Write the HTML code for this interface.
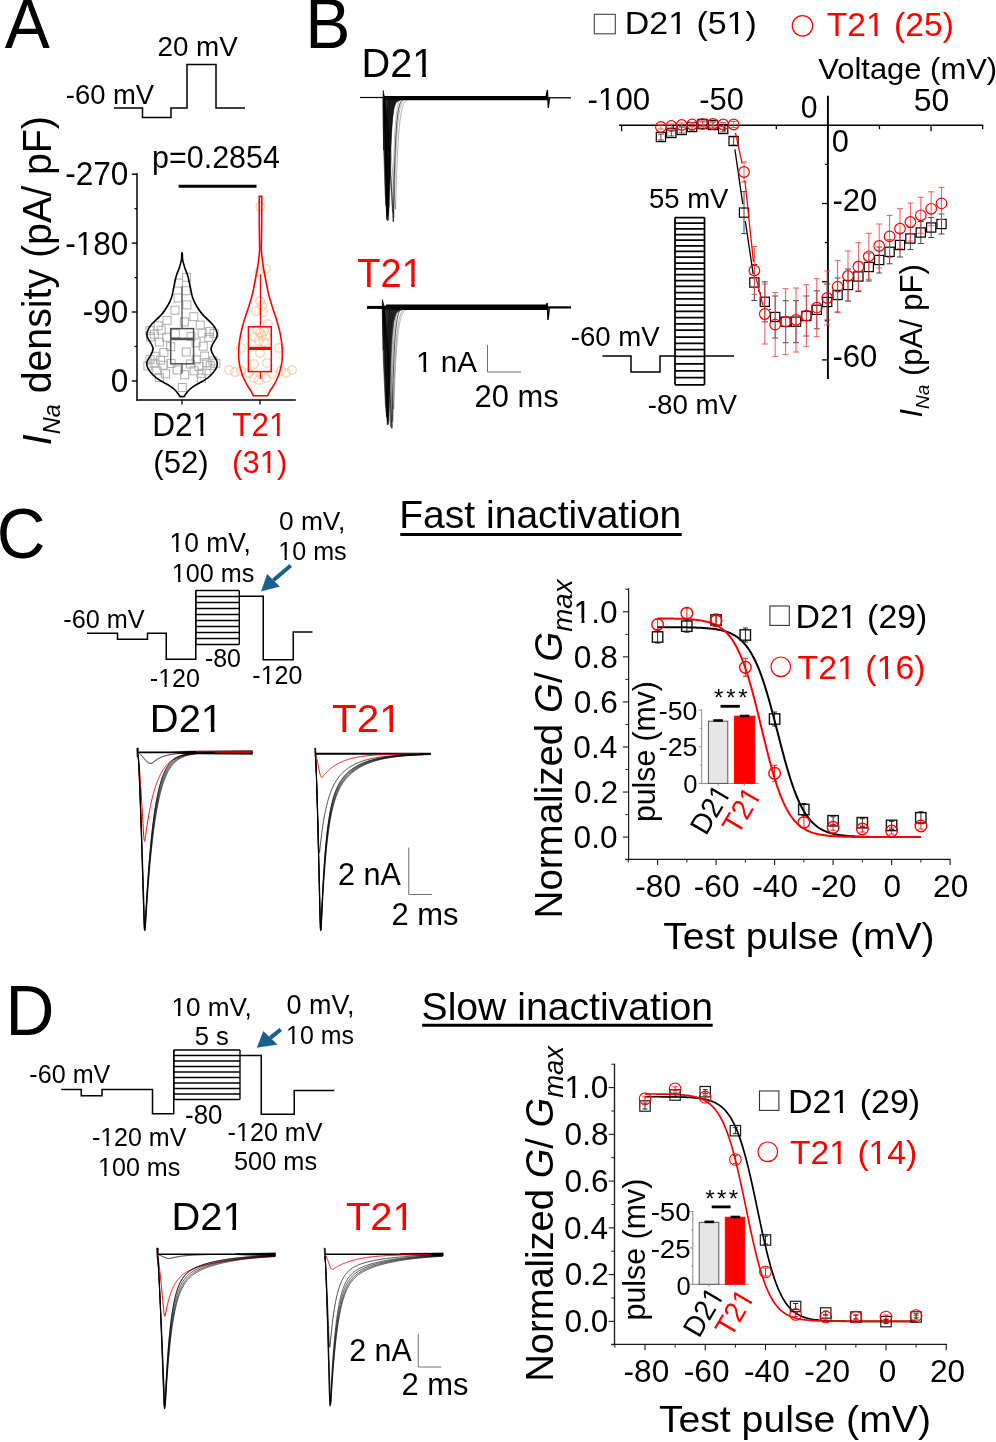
<!DOCTYPE html>
<html><head><meta charset="utf-8"><title>Figure</title>
<style>html,body{margin:0;padding:0;background:#fff}svg{display:block;will-change:transform}text{font-family:"Liberation Sans",sans-serif}</style></head>
<body>
<svg width="996" height="1442" viewBox="0 0 996 1442">
<rect x="0" y="0" width="996" height="1442" fill="#fff"/>
<g id="panelA">
<g transform="translate(4.63,48.00) scale(1.0000,1.038)"><text font-size="67.62" fill="#000">A</text></g>
<g transform="translate(157.41,55.60) scale(1.0000,1.012)"><text font-size="27.83" fill="#000">20 mV</text></g>
<g transform="translate(65.77,103.80) scale(1.0000,1.012)"><text font-size="27.42" fill="#000">-60 mV</text></g>
<polyline points="114.00,108.00 142.50,108.00 142.50,117.50 171.00,117.50 171.00,108.00 187.00,108.00 187.00,64.50 216.00,64.50 216.00,108.00 245.00,108.00" fill="none" stroke="#000" stroke-width="1.5"/>
<g transform="translate(152.12,167.80) scale(1.0000,1.012)"><text font-size="30.43" fill="#000">p=0.2854</text></g>
<line x1="178.60" y1="186.20" x2="256.50" y2="186.20" stroke="#000" stroke-width="2.9"/>
<line x1="137.00" y1="173.30" x2="137.00" y2="400.70" stroke="#000" stroke-width="1.5"/>
<line x1="136.30" y1="400.00" x2="295.80" y2="400.00" stroke="#000" stroke-width="1.5"/>
<line x1="131.80" y1="174.20" x2="137.00" y2="174.20" stroke="#000" stroke-width="1.4"/>
<line x1="131.80" y1="243.10" x2="137.00" y2="243.10" stroke="#000" stroke-width="1.4"/>
<line x1="131.80" y1="312.00" x2="137.00" y2="312.00" stroke="#000" stroke-width="1.4"/>
<line x1="131.80" y1="381.00" x2="137.00" y2="381.00" stroke="#000" stroke-width="1.4"/>
<line x1="134.60" y1="208.70" x2="137.00" y2="208.70" stroke="#000" stroke-width="1.3"/>
<line x1="134.60" y1="277.60" x2="137.00" y2="277.60" stroke="#000" stroke-width="1.3"/>
<line x1="134.60" y1="346.50" x2="137.00" y2="346.50" stroke="#000" stroke-width="1.3"/>
<line x1="182.00" y1="400.00" x2="182.00" y2="404.50" stroke="#000" stroke-width="1.3"/>
<line x1="260.00" y1="400.00" x2="260.00" y2="404.50" stroke="#000" stroke-width="1.3"/>
<g transform="translate(65.19,185.42) scale(1,1.038)"><text font-size="31.60" fill="#000">-270</text></g>
<g transform="translate(65.19,254.52) scale(1,1.038)"><text font-size="31.60" fill="#000">-180</text><rect x="11.95" y="-4.42" width="6.48" height="5.21" fill="#fff"/><rect x="21.33" y="-4.42" width="6.00" height="5.21" fill="#fff"/></g>
<g transform="translate(82.72,323.22) scale(1,1.038)"><text font-size="31.60" fill="#000">-90</text></g>
<g transform="translate(110.85,392.32) scale(1,1.038)"><text font-size="31.60" fill="#000">0</text></g>
<g transform="translate(152.19,435.60) scale(1.0000,1.038)"><text font-size="31.59" fill="#000">D21</text><rect x="41.80" y="-4.42" width="6.48" height="5.21" fill="#fff"/><rect x="51.19" y="-4.42" width="6.00" height="5.21" fill="#fff"/></g>
<g transform="translate(153.36,473.00) scale(1.0000,1.038)"><text font-size="31.06" fill="#000">(52)</text></g>
<g transform="translate(232.19,435.60) scale(1.0000,1.038)"><text font-size="31.47" fill="#f00">T21</text><rect x="38.14" y="-4.41" width="6.45" height="5.19" fill="#fff"/><rect x="47.49" y="-4.41" width="5.98" height="5.19" fill="#fff"/></g>
<g transform="translate(232.06,473.00) scale(1.0000,1.038)"><text font-size="31.06" fill="#f00">(31)</text><rect x="29.01" y="-4.35" width="6.37" height="5.12" fill="#fff"/><rect x="38.24" y="-4.35" width="5.90" height="5.12" fill="#fff"/></g>
<text transform="translate(51,445.2) rotate(-90) scale(1,1.012)" font-size="39.3" fill="#000"><tspan font-style="italic">I</tspan><tspan font-style="italic" font-size="23.5" dy="9">Na</tspan><tspan dy="-9"> density (pA/ pF)</tspan></text>
<g fill="none" stroke="#adadad" stroke-width="1.0">
<rect x="182.6" y="273.3" width="8.0" height="8.0"/>
<rect x="174.4" y="279.1" width="8.0" height="8.0"/>
<rect x="182.1" y="286.7" width="8.0" height="8.0"/>
<rect x="174.0" y="294.0" width="8.0" height="8.0"/>
<rect x="182.9" y="300.9" width="8.0" height="8.0"/>
<rect x="171.0" y="306.2" width="8.0" height="8.0"/>
<rect x="189.9" y="312.7" width="8.0" height="8.0"/>
<rect x="163.1" y="316.4" width="8.0" height="8.0"/>
<rect x="180.4" y="317.9" width="8.0" height="8.0"/>
<rect x="154.2" y="321.8" width="8.0" height="8.0"/>
<rect x="196.2" y="321.1" width="8.0" height="8.0"/>
<rect x="145.9" y="326.6" width="8.0" height="8.0"/>
<rect x="157.2" y="326.2" width="8.0" height="8.0"/>
<rect x="205.6" y="327.6" width="8.0" height="8.0"/>
<rect x="150.3" y="330.2" width="8.0" height="8.0"/>
<rect x="171.4" y="329.7" width="8.0" height="8.0"/>
<rect x="198.2" y="329.1" width="8.0" height="8.0"/>
<rect x="210.0" y="329.4" width="8.0" height="8.0"/>
<rect x="146.5" y="332.9" width="8.0" height="8.0"/>
<rect x="162.6" y="333.2" width="8.0" height="8.0"/>
<rect x="186.9" y="332.6" width="8.0" height="8.0"/>
<rect x="204.8" y="333.4" width="8.0" height="8.0"/>
<rect x="155.4" y="338.1" width="8.0" height="8.0"/>
<rect x="192.1" y="338.8" width="8.0" height="8.0"/>
<rect x="166.6" y="342.6" width="8.0" height="8.0"/>
<rect x="199.2" y="342.2" width="8.0" height="8.0"/>
<rect x="159.9" y="348.5" width="8.0" height="8.0"/>
<rect x="182.2" y="348.0" width="8.0" height="8.0"/>
<rect x="150.9" y="352.3" width="8.0" height="8.0"/>
<rect x="200.7" y="352.1" width="8.0" height="8.0"/>
<rect x="146.0" y="355.6" width="8.0" height="8.0"/>
<rect x="156.5" y="356.2" width="8.0" height="8.0"/>
<rect x="192.2" y="355.9" width="8.0" height="8.0"/>
<rect x="208.9" y="356.9" width="8.0" height="8.0"/>
<rect x="150.0" y="359.3" width="8.0" height="8.0"/>
<rect x="167.0" y="359.4" width="8.0" height="8.0"/>
<rect x="186.4" y="360.0" width="8.0" height="8.0"/>
<rect x="202.8" y="358.6" width="8.0" height="8.0"/>
<rect x="211.8" y="359.3" width="8.0" height="8.0"/>
<rect x="143.9" y="361.9" width="8.0" height="8.0"/>
<rect x="159.3" y="361.2" width="8.0" height="8.0"/>
<rect x="195.0" y="362.5" width="8.0" height="8.0"/>
<rect x="206.2" y="361.5" width="8.0" height="8.0"/>
<rect x="152.8" y="366.7" width="8.0" height="8.0"/>
<rect x="173.0" y="365.9" width="8.0" height="8.0"/>
<rect x="190.2" y="366.8" width="8.0" height="8.0"/>
<rect x="202.8" y="366.7" width="8.0" height="8.0"/>
<rect x="161.5" y="369.8" width="8.0" height="8.0"/>
<rect x="180.7" y="370.8" width="8.0" height="8.0"/>
<rect x="197.1" y="369.3" width="8.0" height="8.0"/>
<rect x="155.3" y="373.5" width="8.0" height="8.0"/>
<rect x="197.4" y="374.0" width="8.0" height="8.0"/>
<rect x="178.3" y="383.5" width="8.0" height="8.0"/>
</g>
<path d="M182.35,253.50 C182.50,254.57 182.23,257.48 182.65,259.90 C183.07,262.32 183.98,265.30 184.85,268.00 C185.72,270.70 186.95,272.93 187.85,276.10 C188.75,279.27 189.45,283.38 190.25,287.00 C191.05,290.62 191.60,294.63 192.65,297.80 C193.70,300.97 194.95,303.28 196.55,306.00 C198.15,308.72 199.50,310.95 202.25,314.10 C205.00,317.25 210.75,322.25 213.05,324.90 C215.35,327.55 215.35,328.48 216.05,330.00 C216.75,331.52 217.20,332.67 217.25,334.00 C217.30,335.33 216.80,336.80 216.35,338.00 C215.90,339.20 215.23,340.03 214.55,341.20 C213.87,342.37 212.83,343.80 212.25,345.00 C211.67,346.20 211.12,347.23 211.05,348.40 C210.98,349.57 211.42,350.78 211.85,352.00 C212.28,353.22 212.95,354.45 213.65,355.70 C214.35,356.95 215.45,358.30 216.05,359.50 C216.65,360.70 217.12,361.73 217.25,362.90 C217.38,364.07 217.22,365.30 216.85,366.50 C216.48,367.70 216.02,368.68 215.05,370.10 C214.08,371.52 212.57,373.48 211.05,375.00 C209.53,376.52 207.87,377.87 205.95,379.20 C204.03,380.53 201.62,381.80 199.55,383.00 C197.48,384.20 195.30,385.23 193.55,386.40 C191.80,387.57 190.30,388.80 189.05,390.00 C187.80,391.20 186.78,392.67 186.05,393.60 C185.32,394.53 184.93,395.13 184.65,395.60 C184.37,396.07 185.17,396.27 184.35,396.40 C183.53,396.53 180.57,396.53 179.75,396.40 C178.93,396.27 179.73,396.07 179.45,395.60 C179.17,395.13 178.78,394.53 178.05,393.60 C177.32,392.67 176.30,391.20 175.05,390.00 C173.80,388.80 172.30,387.57 170.55,386.40 C168.80,385.23 166.62,384.20 164.55,383.00 C162.48,381.80 160.07,380.53 158.15,379.20 C156.23,377.87 154.57,376.52 153.05,375.00 C151.53,373.48 150.02,371.52 149.05,370.10 C148.08,368.68 147.62,367.70 147.25,366.50 C146.88,365.30 146.72,364.07 146.85,362.90 C146.98,361.73 147.45,360.70 148.05,359.50 C148.65,358.30 149.75,356.95 150.45,355.70 C151.15,354.45 151.82,353.22 152.25,352.00 C152.68,350.78 153.12,349.57 153.05,348.40 C152.98,347.23 152.43,346.20 151.85,345.00 C151.27,343.80 150.23,342.37 149.55,341.20 C148.87,340.03 148.20,339.20 147.75,338.00 C147.30,336.80 146.80,335.33 146.85,334.00 C146.90,332.67 147.35,331.52 148.05,330.00 C148.75,328.48 148.75,327.55 151.05,324.90 C153.35,322.25 159.10,317.25 161.85,314.10 C164.60,310.95 165.95,308.72 167.55,306.00 C169.15,303.28 170.40,300.97 171.45,297.80 C172.50,294.63 173.05,290.62 173.85,287.00 C174.65,283.38 175.35,279.27 176.25,276.10 C177.15,272.93 178.38,270.70 179.25,268.00 C180.12,265.30 181.03,262.32 181.45,259.90 C181.87,257.48 181.60,254.57 181.75,253.50 C181.90,252.43 182.20,252.43 182.35,253.50Z" fill="none" stroke="#000" stroke-width="1.6"/>
<line x1="182.00" y1="286.60" x2="182.00" y2="328.60" stroke="#505050" stroke-width="1.3"/>
<line x1="182.00" y1="363.80" x2="182.00" y2="373.70" stroke="#505050" stroke-width="1.3"/>
<rect x="170.70" y="328.60" width="22.90" height="35.20" fill="none" stroke="#505050" stroke-width="1.5"/>
<line x1="170.70" y1="338.90" x2="193.60" y2="338.90" stroke="#505050" stroke-width="2.6"/>
<g fill="none" stroke="#f8c6a0" stroke-width="1.1">
<circle cx="260.2" cy="206.7" r="4.3"/>
<circle cx="259" cy="272" r="4.3"/>
<circle cx="266" cy="269" r="4.3"/>
<circle cx="260" cy="301" r="4.3"/>
<circle cx="262" cy="306" r="4.3"/>
<circle cx="256" cy="311" r="4.3"/>
<circle cx="263" cy="312" r="4.3"/>
<circle cx="268" cy="324" r="4.3"/>
<circle cx="257" cy="330" r="4.3"/>
<circle cx="260" cy="333" r="4.3"/>
<circle cx="264" cy="331" r="4.3"/>
<circle cx="262" cy="336" r="4.3"/>
<circle cx="255" cy="337" r="4.3"/>
<circle cx="266" cy="336" r="4.3"/>
<circle cx="259" cy="341" r="4.3"/>
<circle cx="264" cy="342" r="4.3"/>
<circle cx="241" cy="348" r="4.3"/>
<circle cx="279" cy="348" r="4.3"/>
<circle cx="260" cy="353" r="4.3"/>
<circle cx="254" cy="364" r="4.3"/>
<circle cx="267" cy="363" r="4.3"/>
<circle cx="229" cy="370" r="4.3"/>
<circle cx="235" cy="372" r="4.3"/>
<circle cx="241" cy="371" r="4.3"/>
<circle cx="281" cy="371" r="4.3"/>
<circle cx="286" cy="373" r="4.3"/>
<circle cx="292" cy="370" r="4.3"/>
<circle cx="254" cy="378" r="4.3"/>
<circle cx="259" cy="380" r="4.3"/>
<circle cx="266" cy="378" r="4.3"/>
<circle cx="249" cy="373" r="4.3"/>
<circle cx="272" cy="374" r="4.3"/>
</g>
<path d="M267.70,395.80 C268.00,395.13 268.83,393.02 269.50,391.80 C270.17,390.58 270.93,389.70 271.70,388.50 C272.47,387.30 273.30,386.02 274.10,384.60 C274.90,383.18 275.77,381.52 276.50,380.00 C277.23,378.48 277.83,377.33 278.50,375.50 C279.17,373.67 279.95,371.10 280.50,369.00 C281.05,366.90 281.50,365.07 281.80,362.90 C282.10,360.73 282.23,358.42 282.30,356.00 C282.37,353.58 282.37,351.07 282.20,348.40 C282.03,345.73 281.75,343.00 281.30,340.00 C280.85,337.00 280.23,333.57 279.50,330.40 C278.77,327.23 277.80,324.02 276.90,321.00 C276.00,317.98 275.07,315.30 274.10,312.30 C273.13,309.30 272.02,306.02 271.10,303.00 C270.18,299.98 269.33,297.20 268.60,294.20 C267.87,291.20 267.30,288.03 266.70,285.00 C266.10,281.97 265.53,278.83 265.00,276.00 C264.47,273.17 263.98,271.00 263.50,268.00 C263.02,265.00 262.45,261.00 262.10,258.00 C261.75,255.00 261.50,253.00 261.40,250.00 C261.30,247.00 261.45,244.17 261.50,240.00 C261.55,235.83 261.66,230.00 261.70,225.00 C261.74,220.00 261.74,214.77 261.75,210.00 C261.76,205.23 261.75,198.67 261.75,196.40 L259.25,196.40  C259.25,198.67 259.24,205.23 259.25,210.00 C259.26,214.77 259.26,220.00 259.30,225.00 C259.34,230.00 259.45,235.83 259.50,240.00 C259.55,244.17 259.70,247.00 259.60,250.00 C259.50,253.00 259.25,255.00 258.90,258.00 C258.55,261.00 257.98,265.00 257.50,268.00 C257.02,271.00 256.53,273.17 256.00,276.00 C255.47,278.83 254.90,281.97 254.30,285.00 C253.70,288.03 253.13,291.20 252.40,294.20 C251.67,297.20 250.82,299.98 249.90,303.00 C248.98,306.02 247.87,309.30 246.90,312.30 C245.93,315.30 245.00,317.98 244.10,321.00 C243.20,324.02 242.23,327.23 241.50,330.40 C240.77,333.57 240.15,337.00 239.70,340.00 C239.25,343.00 238.97,345.73 238.80,348.40 C238.63,351.07 238.63,353.58 238.70,356.00 C238.77,358.42 238.90,360.73 239.20,362.90 C239.50,365.07 239.95,366.90 240.50,369.00 C241.05,371.10 241.83,373.67 242.50,375.50 C243.17,377.33 243.77,378.48 244.50,380.00 C245.23,381.52 246.10,383.18 246.90,384.60 C247.70,386.02 248.53,387.30 249.30,388.50 C250.07,389.70 250.83,390.58 251.50,391.80 C252.17,393.02 253.00,395.13 253.30,395.80 Z" fill="none" stroke="#f00" stroke-width="1.6"/>
<line x1="260.50" y1="274.30" x2="260.50" y2="326.80" stroke="#f00" stroke-width="1.3"/>
<line x1="260.50" y1="371.60" x2="260.50" y2="378.80" stroke="#f00" stroke-width="1.3"/>
<rect x="248.40" y="326.80" width="22.90" height="44.80" fill="none" stroke="#f00" stroke-width="1.5"/>
<line x1="248.40" y1="348.40" x2="271.30" y2="348.40" stroke="#f00" stroke-width="3.2"/>
</g>
<g id="panelB">
<g transform="translate(305.31,48.00) scale(1.0000,1.038)"><text font-size="67.79" fill="#000">B</text></g>
<g transform="translate(361.53,76.90) scale(1.0189,1.038)"><text font-size="38.96" fill="#000">D21</text><rect x="51.55" y="-5.45" width="7.99" height="6.43" fill="#fff"/><rect x="63.12" y="-5.45" width="7.40" height="6.43" fill="#fff"/></g>
<line x1="360.00" y1="97.50" x2="384.00" y2="97.50" stroke="#000" stroke-width="1.2"/>
<line x1="384.00" y1="98.10" x2="547.50" y2="98.10" stroke="#000" stroke-width="4.4"/>
<line x1="547.00" y1="97.80" x2="571.00" y2="97.80" stroke="#000" stroke-width="1.3"/>
<path d="M546,97 L547.4,90 L548.3,108 L549.5,98" fill="none" stroke="#000" stroke-width="1.3"/>
<path d="M383.2,90.5 L383.0,98 L383.6,150 L384.6,98 Z" fill="#000" stroke="#000" stroke-width="0.6"/>
<path d="M382.9,97 L383.7,150 L385.2,195 L386.6,214 L387.6,221 L388.6,219.5 L389.0,205 L389.6,190 L390.4,165 L391.4,135 L392.6,118 L394,108 L396,102.5 L400,100 L400,97 Z" fill="#111" stroke="#111" stroke-width="0.5" fill-opacity="0.88"/>
<g fill="none" stroke="#000" stroke-linejoin="round">
<polyline points="383.80,97.80 384.05,102.77 384.30,110.93 384.55,120.96 384.80,132.44 385.05,145.14 385.30,158.91 385.55,173.63 385.80,189.22 386.05,205.61 386.30,196.18 386.55,160.25 386.80,137.44 387.05,122.96 387.30,113.77 387.55,107.94 387.80,104.23 388.05,101.88 388.30,100.39 388.55,99.45 388.80,98.84 389.05,98.46 389.30,98.22 389.55,98.07 390.55,97.84 391.55,97.81 392.55,97.80 393.55,97.80 394.55,97.80 395.55,97.80 396.55,97.80 397.55,97.80 398.55,97.80 399.55,97.80 400.55,97.80 401.55,97.80 402.55,97.80 403.55,97.80 404.55,97.80 405.55,97.80 406.55,97.80 407.55,97.80 408.55,97.80 409.55,97.80 410.55,97.80 411.55,97.80 412.55,97.80 413.55,97.80 414.55,97.80 415.55,97.80 416.55,97.80 417.55,97.80 418.55,97.80 419.55,97.80 420.55,97.80 421.55,97.80 422.55,97.80 423.55,97.80 424.55,97.80" stroke-width="0.7" stroke-opacity="0.9"/>
<polyline points="383.80,97.80 384.05,101.56 384.30,107.73 384.55,115.32 384.80,124.01 385.05,133.61 385.30,144.03 385.55,155.16 385.80,166.96 386.05,179.35 386.30,192.32 386.55,205.81 386.80,219.80 387.05,187.06 387.30,163.10 387.55,145.58 387.80,132.75 388.05,123.37 388.30,116.51 388.55,111.49 388.80,107.81 389.05,105.13 389.30,103.16 389.55,101.72 389.80,100.67 390.05,99.90 390.30,99.34 390.55,98.92 390.80,98.62 391.05,98.40 391.30,98.24 391.55,98.12 391.80,98.04 392.80,97.87 393.80,97.82 394.80,97.81 395.80,97.80 396.80,97.80 397.80,97.80 398.80,97.80 399.80,97.80 400.80,97.80 401.80,97.80 402.80,97.80 403.80,97.80 404.80,97.80 405.80,97.80 406.80,97.80 407.80,97.80 408.80,97.80 409.80,97.80 410.80,97.80 411.80,97.80 412.80,97.80 413.80,97.80 414.80,97.80 415.80,97.80 416.80,97.80 417.80,97.80 418.80,97.80 419.80,97.80 420.80,97.80 421.80,97.80 422.80,97.80 423.80,97.80 424.80,97.80" stroke-width="0.7" stroke-opacity="0.9"/>
<polyline points="383.80,97.80 384.05,100.75 384.30,105.59 384.55,111.54 384.80,118.35 385.05,125.89 385.30,134.06 385.55,142.79 385.80,152.04 386.05,161.76 386.30,171.92 386.55,182.51 386.80,193.48 387.05,204.82 387.30,216.52 387.55,204.10 387.80,180.58 388.05,162.27 388.30,148.01 388.55,136.90 388.80,128.25 389.05,121.52 389.30,116.27 389.55,112.19 389.80,109.00 390.05,106.53 390.30,104.60 390.55,103.09 390.80,101.92 391.05,101.01 391.30,100.30 391.55,99.75 391.80,99.32 392.05,98.98 392.30,98.72 392.55,98.52 392.80,98.36 393.05,98.23 393.30,98.14 393.55,98.06 394.55,97.90 395.55,97.84 396.55,97.81 397.55,97.80 398.55,97.80 399.55,97.80 400.55,97.80 401.55,97.80 402.55,97.80 403.55,97.80 404.55,97.80 405.55,97.80 406.55,97.80 407.55,97.80 408.55,97.80 409.55,97.80 410.55,97.80 411.55,97.80 412.55,97.80 413.55,97.80 414.55,97.80 415.55,97.80 416.55,97.80 417.55,97.80 418.55,97.80 419.55,97.80 420.55,97.80 421.55,97.80 422.55,97.80 423.55,97.80 424.55,97.80" stroke-width="0.7" stroke-opacity="0.9"/>
<polyline points="383.80,97.80 384.05,100.15 384.30,104.00 384.55,108.74 384.80,114.16 385.05,120.16 385.30,126.66 385.55,133.61 385.80,140.98 386.05,148.72 386.30,156.81 386.55,165.23 386.80,173.97 387.05,183.00 387.30,192.32 387.55,201.90 387.80,211.74 388.05,215.20 388.30,194.66 388.55,177.71 388.80,163.73 389.05,152.20 389.30,142.68 389.55,134.83 389.80,128.35 390.05,123.01 390.30,118.60 390.55,114.96 390.80,111.96 391.05,109.48 391.30,107.44 391.55,105.75 391.80,104.36 392.05,103.21 392.30,102.27 392.55,101.48 392.80,100.84 393.05,100.31 393.30,99.87 393.55,99.51 393.80,99.21 394.05,98.96 394.30,98.76 394.55,98.59 394.80,98.45 395.05,98.34 395.30,98.24 395.55,98.17 395.80,98.10 396.80,97.94 397.80,97.86 398.80,97.83 399.80,97.81 400.80,97.81 401.80,97.80 402.80,97.80 403.80,97.80 404.80,97.80 405.80,97.80 406.80,97.80 407.80,97.80 408.80,97.80 409.80,97.80 410.80,97.80 411.80,97.80 412.80,97.80 413.80,97.80 414.80,97.80 415.80,97.80 416.80,97.80 417.80,97.80 418.80,97.80 419.80,97.80 420.80,97.80 421.80,97.80 422.80,97.80 423.80,97.80 424.80,97.80" stroke-width="0.7" stroke-opacity="0.9"/>
<polyline points="383.80,97.80 384.05,99.80 384.30,103.08 384.55,107.11 384.80,111.73 385.05,116.84 385.30,122.38 385.55,128.30 385.80,134.57 386.05,141.16 386.30,148.05 386.55,155.22 386.80,162.66 387.05,170.35 387.30,178.29 387.55,186.45 387.80,194.83 388.05,203.42 388.30,212.22 388.55,205.83 388.80,191.06 389.05,178.31 389.30,167.30 389.55,157.79 389.80,149.59 390.05,142.51 390.30,136.39 390.55,131.11 390.80,126.56 391.05,122.63 391.30,119.23 391.55,116.30 391.80,113.77 392.05,111.59 392.30,109.70 392.55,108.07 392.80,106.67 393.05,105.46 393.30,104.41 393.55,103.50 393.80,102.72 394.05,102.05 394.30,101.47 394.55,100.97 394.80,100.53 395.05,100.16 395.30,99.84 395.55,99.56 395.80,99.32 396.05,99.11 396.30,98.93 396.55,98.78 396.80,98.64 397.05,98.53 397.30,98.43 397.55,98.34 397.80,98.27 398.05,98.20 398.30,98.15 398.55,98.10 398.80,98.06 399.80,97.94 400.80,97.88 401.80,97.84 402.80,97.82 403.80,97.81 404.80,97.81 405.80,97.80 406.80,97.80 407.80,97.80 408.80,97.80 409.80,97.80 410.80,97.80 411.80,97.80 412.80,97.80 413.80,97.80 414.80,97.80 415.80,97.80 416.80,97.80 417.80,97.80 418.80,97.80 419.80,97.80 420.80,97.80 421.80,97.80 422.80,97.80 423.80,97.80 424.80,97.80" stroke-width="0.7" stroke-opacity="0.9"/>
<polyline points="383.80,97.80 384.05,99.46 384.30,102.18 384.55,105.53 384.80,109.36 385.05,113.59 385.30,118.19 385.55,123.10 385.80,128.30 386.05,133.77 386.30,139.48 386.55,145.43 386.80,151.60 387.05,157.98 387.30,164.56 387.55,171.33 387.80,178.29 388.05,185.42 388.30,192.71 388.55,200.18 388.80,207.80 389.05,195.45 389.30,184.49 389.55,174.76 389.80,166.13 390.05,158.46 390.30,151.65 390.55,145.61 390.80,140.24 391.05,135.48 391.30,131.25 391.55,127.49 391.80,124.16 392.05,121.20 392.30,118.58 392.55,116.24 392.80,114.17 393.05,112.34 393.30,110.71 393.55,109.26 393.80,107.97 394.05,106.83 394.30,105.82 394.55,104.92 394.80,104.12 395.05,103.41 395.30,102.78 395.55,102.22 395.80,101.72 396.05,101.28 396.30,100.89 396.55,100.55 396.80,100.24 397.05,99.96 397.30,99.72 397.55,99.51 397.80,99.31 398.05,99.14 398.30,98.99 398.55,98.86 398.80,98.74 399.05,98.63 399.30,98.54 399.55,98.46 399.80,98.38 400.05,98.32 400.30,98.26 400.55,98.21 400.80,98.16 401.05,98.12 401.30,98.09 401.55,98.05 402.55,97.96 403.55,97.90 404.55,97.86 405.55,97.84 406.55,97.82 407.55,97.81 408.55,97.81 409.55,97.81 410.55,97.80 411.55,97.80 412.55,97.80 413.55,97.80 414.55,97.80 415.55,97.80 416.55,97.80 417.55,97.80 418.55,97.80 419.55,97.80 420.55,97.80 421.55,97.80 422.55,97.80 423.55,97.80 424.55,97.80" stroke-width="0.7" stroke-opacity="0.9"/>
<polyline points="383.80,97.80 384.05,98.56 384.30,99.81 384.55,101.35 384.80,103.10 385.05,105.05 385.30,107.16 385.55,109.41 385.80,111.80 386.05,114.31 386.30,116.93 386.55,119.66 386.80,122.49 387.05,125.42 387.30,128.44 387.55,131.55 387.80,134.74 388.05,138.01 388.30,141.36 388.55,144.79 388.80,148.29 389.05,151.85 389.30,155.49 389.55,159.20 389.80,162.97 390.05,166.80 390.30,170.69 390.55,174.65 390.80,178.66 391.05,182.73 391.30,186.86 391.55,191.05 391.80,195.28 392.05,199.58 392.30,203.92 392.55,208.31 392.80,212.76 393.05,217.26 393.30,221.80 393.55,208.48 393.80,196.59 394.05,185.98 394.30,176.51 394.55,168.05 394.80,160.51 395.05,153.77 395.30,147.76 395.55,142.39 395.80,137.60 396.05,133.33 396.30,129.51 396.55,126.10 396.80,123.06 397.05,120.35 397.30,117.93 397.55,115.77 397.80,113.84 398.05,112.11 398.30,110.58 398.55,109.20 398.80,107.98 399.05,106.89 399.30,105.91 399.55,105.04 399.80,104.26 400.05,103.57 400.30,102.95 400.55,102.39 400.80,101.90 401.05,101.46 401.30,101.07 401.55,100.72 401.80,100.40 402.05,100.12 402.30,99.87 402.55,99.65 402.80,99.45 403.05,99.27 403.30,99.12 403.55,98.97 403.80,98.85 404.05,98.74 404.30,98.64 404.55,98.55 404.80,98.47 405.05,98.39 405.30,98.33 405.55,98.27 405.80,98.22 406.05,98.18 406.30,98.14 406.55,98.10 407.55,97.99 408.55,97.92 409.55,97.88 410.55,97.85 411.55,97.83 412.55,97.82 413.55,97.81 414.55,97.81 415.55,97.81 416.55,97.80 417.55,97.80 418.55,97.80 419.55,97.80 420.55,97.80 421.55,97.80 422.55,97.80 423.55,97.80 424.55,97.80" stroke-width="0.8" stroke-opacity="0.9"/>
<polyline points="383.80,97.80 384.05,98.48 384.30,99.59 384.55,100.96 384.80,102.52 385.05,104.26 385.30,106.13 385.55,108.14 385.80,110.27 386.05,112.50 386.30,114.84 386.55,117.27 386.80,119.79 387.05,122.40 387.30,125.09 387.55,127.86 387.80,130.70 388.05,133.61 388.30,136.60 388.55,139.65 388.80,142.77 389.05,145.94 389.30,149.18 389.55,152.48 389.80,155.84 390.05,159.25 390.30,162.72 390.55,166.25 390.80,169.82 391.05,173.45 391.30,177.12 391.55,180.85 391.80,184.63 392.05,188.45 392.30,192.32 392.55,196.23 392.80,200.19 393.05,204.19 393.30,208.24 393.55,212.33 393.80,216.46 394.05,217.38 394.30,206.00 394.55,195.71 394.80,186.39 395.05,177.96 395.30,170.33 395.55,163.43 395.80,157.18 396.05,151.53 396.30,146.42 396.55,141.79 396.80,137.61 397.05,133.82 397.30,130.39 397.55,127.29 397.80,124.48 398.05,121.94 398.30,119.65 398.55,117.57 398.80,115.69 399.05,113.98 399.30,112.44 399.55,111.05 399.80,109.79 400.05,108.65 400.30,107.62 400.55,106.68 400.80,105.84 401.05,105.07 401.30,104.38 401.55,103.75 401.80,103.19 402.05,102.67 402.30,102.21 402.55,101.79 402.80,101.41 403.05,101.07 403.30,100.76 403.55,100.48 403.80,100.22 404.05,99.99 404.30,99.78 404.55,99.59 404.80,99.42 405.05,99.27 405.30,99.13 405.55,99.00 405.80,98.89 406.05,98.78 406.30,98.69 406.55,98.61 406.80,98.53 407.05,98.46 407.30,98.40 407.55,98.34 407.80,98.29 408.05,98.24 408.30,98.20 408.55,98.16 408.80,98.13 409.05,98.10 410.05,98.00 411.05,97.93 412.05,97.89 413.05,97.86 414.05,97.84 415.05,97.83 416.05,97.82 417.05,97.81 418.05,97.81 419.05,97.81 420.05,97.80 421.05,97.80 422.05,97.80 423.05,97.80 424.05,97.80" stroke-width="0.6" stroke-opacity="0.45"/>
<polyline points="383.80,97.80 384.05,98.62 384.30,99.96 384.55,101.62 384.80,103.51 385.05,105.60 385.30,107.87 385.55,110.30 385.80,112.87 386.05,115.57 386.30,118.39 386.55,121.33 386.80,124.38 387.05,127.53 387.30,130.78 387.55,134.12 387.80,137.56 388.05,141.08 388.30,144.69 388.55,148.37 388.80,152.14 389.05,155.98 389.30,159.90 389.55,163.88 389.80,167.94 390.05,172.07 390.30,176.26 390.55,180.51 390.80,184.83 391.05,189.22 391.30,193.66 391.55,198.16 391.80,202.73 392.05,207.34 392.30,212.02 392.55,212.74 392.80,198.56 393.05,186.14 393.30,175.25 393.55,165.70 393.80,157.33 394.05,149.99 394.30,143.56 394.55,137.91 394.80,132.97 395.05,128.63 395.30,124.83 395.55,121.50 395.80,118.58 396.05,116.02 396.30,113.77 396.55,111.80 396.80,110.07 397.05,108.56 397.30,107.23 397.55,106.07 397.80,105.05 398.05,104.16 398.30,103.37 398.55,102.69 398.80,102.08 399.05,101.56 399.30,101.09 399.55,100.69 399.80,100.33 400.05,100.02 400.30,99.75 400.55,99.51 400.80,99.30 401.05,99.11 401.30,98.95 401.55,98.81 401.80,98.68 402.05,98.57 402.30,98.48 402.55,98.40 402.80,98.32 403.05,98.26 403.30,98.20 403.55,98.15 403.80,98.11 404.05,98.07 405.05,97.96 406.05,97.89 407.05,97.86 408.05,97.83 409.05,97.82 410.05,97.81 411.05,97.81 412.05,97.80 413.05,97.80 414.05,97.80 415.05,97.80 416.05,97.80 417.05,97.80 418.05,97.80 419.05,97.80 420.05,97.80 421.05,97.80 422.05,97.80 423.05,97.80 424.05,97.80" stroke-width="0.6" stroke-opacity="0.4"/>
<polyline points="383.80,97.80 384.05,98.31 384.30,99.14 384.55,100.16 384.80,101.34 385.05,102.63 385.30,104.04 385.55,105.54 385.80,107.13 386.05,108.81 386.30,110.56 386.55,112.38 386.80,114.26 387.05,116.22 387.30,118.23 387.55,120.30 387.80,122.43 388.05,124.61 388.30,126.85 388.55,129.13 388.80,131.46 389.05,133.84 389.30,136.27 389.55,138.74 389.80,141.25 390.05,143.81 390.30,146.40 390.55,149.04 390.80,151.72 391.05,154.43 391.30,157.18 391.55,159.97 391.80,162.80 392.05,165.66 392.30,168.56 392.55,171.49 392.80,174.45 393.05,177.45 393.30,180.48 393.55,183.54 393.80,186.63 394.05,189.76 394.30,192.91 394.55,196.10 394.80,199.32 395.05,202.56 395.30,205.83 395.55,209.14 395.80,202.08 396.05,193.17 396.30,185.03 396.55,177.58 396.80,170.76 397.05,164.53 397.30,158.83 397.55,153.62 397.80,148.85 398.05,144.49 398.30,140.50 398.55,136.85 398.80,133.52 399.05,130.47 399.30,127.68 399.55,125.12 399.80,122.79 400.05,120.66 400.30,118.70 400.55,116.92 400.80,115.29 401.05,113.79 401.30,112.43 401.55,111.18 401.80,110.03 402.05,108.99 402.30,108.03 402.55,107.16 402.80,106.36 403.05,105.63 403.30,104.96 403.55,104.35 403.80,103.79 404.05,103.28 404.30,102.81 404.55,102.38 404.80,101.99 405.05,101.63 405.30,101.31 405.55,101.01 405.80,100.73 406.05,100.48 406.30,100.25 406.55,100.04 406.80,99.85 407.05,99.68 407.30,99.52 407.55,99.37 407.80,99.24 408.05,99.11 408.30,99.00 408.55,98.90 408.80,98.80 409.05,98.72 409.30,98.64 409.55,98.57 409.80,98.50 410.05,98.44 410.30,98.39 410.55,98.34 410.80,98.29 411.05,98.25 411.30,98.21 411.55,98.18 411.80,98.14 412.05,98.11 412.30,98.09 412.55,98.06 413.55,97.98 414.55,97.93 415.55,97.89 416.55,97.86 417.55,97.84 418.55,97.83 419.55,97.82 420.55,97.82 421.55,97.81 422.55,97.81 423.55,97.81 424.55,97.80" stroke-width="0.6" stroke-opacity="0.5"/>
</g>
<g transform="translate(357.24,287.00) scale(0.9808,1.038)"><text font-size="38.82" fill="#f00">T21</text><rect x="47.04" y="-5.43" width="7.96" height="6.40" fill="#fff"/><rect x="58.57" y="-5.43" width="7.38" height="6.40" fill="#fff"/></g>
<line x1="367.00" y1="307.40" x2="384.00" y2="307.40" stroke="#000" stroke-width="3.0"/>
<line x1="386.00" y1="307.20" x2="547.50" y2="307.20" stroke="#000" stroke-width="5.4"/>
<line x1="383.00" y1="307.40" x2="387.00" y2="307.40" stroke="#000" stroke-width="3.4"/>
<line x1="547.00" y1="307.40" x2="571.00" y2="307.40" stroke="#000" stroke-width="2.2"/>
<path d="M546,307 L547.2,303 L548,320 L549.3,308" fill="none" stroke="#000" stroke-width="1.4"/>
<path d="M382.4,299.5 L382.2,308 L383.2,350 L384.6,308 Z" fill="#000" stroke="#000" stroke-width="0.6"/>
<path d="M382.4,307 L383.3,360 L385.4,405 L387.2,420 L388,424.8 L388.8,422 L389.4,400 L390.2,380 L391.0,360 L392.0,338 L393.6,322 L396,313.5 L399.5,310.5 L403,309.5 L403,306 Z" fill="#111" stroke="#111" stroke-width="0.5" fill-opacity="0.88"/>
<g fill="none" stroke="#000" stroke-linejoin="round">
<polyline points="383.40,307.40 383.65,310.67 383.90,316.03 384.15,322.62 384.40,330.16 384.65,338.51 384.90,347.56 385.15,357.23 385.40,367.47 385.65,378.24 385.90,389.50 386.15,401.22 386.40,413.38 386.65,417.13 386.90,390.52 387.15,370.36 387.40,355.09 387.65,343.52 387.90,334.76 388.15,328.13 388.40,323.10 388.65,319.29 388.90,316.41 389.15,314.22 389.40,312.57 389.65,311.31 389.90,310.37 390.15,309.65 390.40,309.10 390.65,308.69 390.90,308.38 391.15,308.14 391.40,307.96 391.65,307.82 391.90,307.72 392.15,307.64 393.15,307.48 394.15,307.43 395.15,307.41 396.15,307.40 397.15,307.40 398.15,307.40 399.15,307.40 400.15,307.40 401.15,307.40 402.15,307.40 403.15,307.40 404.15,307.40 405.15,307.40 406.15,307.40 407.15,307.40 408.15,307.40 409.15,307.40 410.15,307.40 411.15,307.40 412.15,307.40 413.15,307.40 414.15,307.40 415.15,307.40 416.15,307.40 417.15,307.40 418.15,307.40 419.15,307.40 420.15,307.40 421.15,307.40 422.15,307.40 423.15,307.40 424.15,307.40 425.15,307.40 426.15,307.40 427.15,307.40 428.15,307.40 429.15,307.40" stroke-width="0.7" stroke-opacity="0.9"/>
<polyline points="383.40,307.40 383.65,309.82 383.90,313.79 384.15,318.68 384.40,324.27 384.65,330.46 384.90,337.16 385.15,344.33 385.40,351.92 385.65,359.91 385.90,368.25 386.15,376.94 386.40,385.95 386.65,395.26 386.90,404.87 387.15,414.75 387.40,424.90 387.65,404.34 387.90,387.38 388.15,373.39 388.40,361.85 388.65,352.32 388.90,344.46 389.15,337.98 389.40,332.63 389.65,328.21 389.90,324.57 390.15,321.57 390.40,319.09 390.65,317.04 390.90,315.36 391.15,313.97 391.40,312.82 391.65,311.87 391.90,311.09 392.15,310.44 392.40,309.91 392.65,309.47 392.90,309.11 393.15,308.81 393.40,308.56 393.65,308.36 393.90,308.19 394.15,308.05 394.40,307.94 394.65,307.84 394.90,307.77 395.15,307.70 395.40,307.65 396.40,307.52 397.40,307.45 398.40,307.42 399.40,307.41 400.40,307.41 401.40,307.40 402.40,307.40 403.40,307.40 404.40,307.40 405.40,307.40 406.40,307.40 407.40,307.40 408.40,307.40 409.40,307.40 410.40,307.40 411.40,307.40 412.40,307.40 413.40,307.40 414.40,307.40 415.40,307.40 416.40,307.40 417.40,307.40 418.40,307.40 419.40,307.40 420.40,307.40 421.40,307.40 422.40,307.40 423.40,307.40 424.40,307.40 425.40,307.40 426.40,307.40 427.40,307.40 428.40,307.40 429.40,307.40" stroke-width="0.7" stroke-opacity="0.9"/>
<polyline points="383.40,307.40 383.65,309.38 383.90,312.63 384.15,316.63 384.40,321.21 384.65,326.28 384.90,331.77 385.15,337.64 385.40,343.86 385.65,350.39 385.90,357.22 386.15,364.34 386.40,371.71 386.65,379.34 386.90,387.20 387.15,395.30 387.40,403.61 387.65,412.13 387.90,420.85 388.15,415.05 388.40,401.09 388.65,388.94 388.90,378.36 389.15,369.16 389.40,361.15 389.65,354.18 389.90,348.12 390.15,342.84 390.40,338.24 390.65,334.24 390.90,330.76 391.15,327.73 391.40,325.10 391.65,322.80 391.90,320.80 392.15,319.07 392.40,317.55 392.65,316.24 392.90,315.09 393.15,314.09 393.40,313.23 393.65,312.47 393.90,311.81 394.15,311.24 394.40,310.74 394.65,310.31 394.90,309.93 395.15,309.60 395.40,309.32 395.65,309.07 395.90,308.85 396.15,308.66 396.40,308.50 396.65,308.36 396.90,308.23 397.15,308.13 397.40,308.03 397.65,307.95 397.90,307.88 398.15,307.82 398.40,307.76 398.65,307.72 398.90,307.67 399.90,307.56 400.90,307.49 401.90,307.45 402.90,307.43 403.90,307.42 404.90,307.41 405.90,307.41 406.90,307.40 407.90,307.40 408.90,307.40 409.90,307.40 410.90,307.40 411.90,307.40 412.90,307.40 413.90,307.40 414.90,307.40 415.90,307.40 416.90,307.40 417.90,307.40 418.90,307.40 419.90,307.40 420.90,307.40 421.90,307.40 422.90,307.40 423.90,307.40 424.90,307.40 425.90,307.40 426.90,307.40 427.90,307.40 428.90,307.40 429.90,307.40" stroke-width="0.7" stroke-opacity="0.9"/>
<polyline points="383.40,307.40 383.65,308.27 383.90,309.69 384.15,311.44 384.40,313.45 384.65,315.67 384.90,318.07 385.15,320.64 385.40,323.36 385.65,326.22 385.90,329.21 386.15,332.33 386.40,335.56 386.65,338.90 386.90,342.34 387.15,345.88 387.40,349.52 387.65,353.25 387.90,357.07 388.15,360.98 388.40,364.97 388.65,369.04 388.90,373.18 389.15,377.41 389.40,381.71 389.65,386.08 389.90,390.52 390.15,395.03 390.40,399.60 390.65,404.25 390.90,408.95 391.15,413.72 391.40,418.56 391.65,423.45 391.90,428.40 392.15,422.29 392.40,409.95 392.65,398.94 392.90,389.10 393.15,380.33 393.40,372.49 393.65,365.50 393.90,359.26 394.15,353.69 394.40,348.72 394.65,344.28 394.90,340.32 395.15,336.78 395.40,333.63 395.65,330.81 395.90,328.29 396.15,326.05 396.40,324.05 396.65,322.26 396.90,320.66 397.15,319.24 397.40,317.97 397.65,316.83 397.90,315.82 398.15,314.91 398.40,314.11 398.65,313.39 398.90,312.74 399.15,312.17 399.40,311.66 399.65,311.20 399.90,310.79 400.15,310.43 400.40,310.10 400.65,309.81 400.90,309.55 401.15,309.32 401.40,309.12 401.65,308.93 401.90,308.77 402.15,308.62 402.40,308.49 402.65,308.37 402.90,308.27 403.15,308.17 403.40,308.09 403.65,308.02 403.90,307.95 404.15,307.89 404.40,307.84 404.65,307.79 404.90,307.75 405.15,307.71 405.40,307.68 406.40,307.58 407.40,307.51 408.40,307.47 409.40,307.45 410.40,307.43 411.40,307.42 412.40,307.41 413.40,307.41 414.40,307.40 415.40,307.40 416.40,307.40 417.40,307.40 418.40,307.40 419.40,307.40 420.40,307.40 421.40,307.40 422.40,307.40 423.40,307.40 424.40,307.40 425.40,307.40 426.40,307.40 427.40,307.40 428.40,307.40 429.40,307.40" stroke-width="0.8" stroke-opacity="0.9"/>
<polyline points="383.40,307.40 383.65,308.38 383.90,309.98 384.15,311.96 384.40,314.22 384.65,316.72 384.90,319.43 385.15,322.33 385.40,325.40 385.65,328.63 385.90,332.00 386.15,335.51 386.40,339.16 386.65,342.92 386.90,346.80 387.15,350.80 387.40,354.90 387.65,359.11 387.90,363.42 388.15,367.83 388.40,372.32 388.65,376.91 388.90,381.59 389.15,386.36 389.40,391.20 389.65,396.13 389.90,401.14 390.15,406.23 390.40,411.39 390.65,416.63 390.90,421.94 391.15,427.32 391.40,416.31 391.65,402.88 391.90,391.11 392.15,380.79 392.40,371.74 392.65,363.81 392.90,356.85 393.15,350.76 393.40,345.41 393.65,340.73 393.90,336.62 394.15,333.01 394.40,329.86 394.65,327.09 394.90,324.66 395.15,322.53 395.40,320.67 395.65,319.03 395.90,317.60 396.15,316.34 396.40,315.24 396.65,314.27 396.90,313.42 397.15,312.68 397.40,312.03 397.65,311.46 397.90,310.96 398.15,310.52 398.40,310.14 398.65,309.80 398.90,309.50 399.15,309.24 399.40,309.02 399.65,308.82 399.90,308.64 400.15,308.49 400.40,308.35 400.65,308.24 400.90,308.13 401.15,308.04 401.40,307.96 401.65,307.89 401.90,307.83 402.15,307.78 402.40,307.73 402.65,307.69 403.65,307.57 404.65,307.50 405.65,307.46 406.65,307.44 407.65,307.42 408.65,307.41 409.65,307.41 410.65,307.40 411.65,307.40 412.65,307.40 413.65,307.40 414.65,307.40 415.65,307.40 416.65,307.40 417.65,307.40 418.65,307.40 419.65,307.40 420.65,307.40 421.65,307.40 422.65,307.40 423.65,307.40 424.65,307.40 425.65,307.40 426.65,307.40 427.65,307.40 428.65,307.40 429.65,307.40" stroke-width="0.6" stroke-opacity="0.5"/>
<polyline points="383.40,307.40 383.65,308.52 383.90,310.36 384.15,312.62 384.40,315.21 384.65,318.07 384.90,321.17 385.15,324.49 385.40,328.00 385.65,331.69 385.90,335.55 386.15,339.57 386.40,343.74 386.65,348.05 386.90,352.49 387.15,357.07 387.40,361.76 387.65,366.58 387.90,371.51 388.15,376.55 388.40,381.70 388.65,386.95 388.90,392.30 389.15,397.75 389.40,403.30 389.65,408.94 389.90,414.67 390.15,420.49 390.40,426.40 390.65,410.13 390.90,396.08 391.15,383.95 391.40,373.48 391.65,364.44 391.90,356.64 392.15,349.91 392.40,344.10 392.65,339.08 392.90,334.75 393.15,331.01 393.40,327.78 393.65,324.99 393.90,322.58 394.15,320.51 394.40,318.72 394.65,317.17 394.90,315.83 395.15,314.68 395.40,313.68 395.65,312.82 395.90,312.08 396.15,311.44 396.40,310.89 396.65,310.41 396.90,310.00 397.15,309.64 397.40,309.34 397.65,309.07 397.90,308.84 398.15,308.65 398.40,308.48 398.65,308.33 398.90,308.20 399.15,308.09 399.40,308.00 399.65,307.92 399.90,307.85 400.15,307.78 400.40,307.73 400.65,307.69 401.65,307.56 402.65,307.49 403.65,307.45 404.65,307.43 405.65,307.42 406.65,307.41 407.65,307.40 408.65,307.40 409.65,307.40 410.65,307.40 411.65,307.40 412.65,307.40 413.65,307.40 414.65,307.40 415.65,307.40 416.65,307.40 417.65,307.40 418.65,307.40 419.65,307.40 420.65,307.40 421.65,307.40 422.65,307.40 423.65,307.40 424.65,307.40 425.65,307.40 426.65,307.40 427.65,307.40 428.65,307.40 429.65,307.40" stroke-width="0.6" stroke-opacity="0.5"/>
<polyline points="383.40,307.40 383.65,308.10 383.90,309.25 384.15,310.67 384.40,312.29 384.65,314.08 384.90,316.03 385.15,318.10 385.40,320.30 385.65,322.62 385.90,325.04 386.15,327.55 386.40,330.16 386.65,332.86 386.90,335.65 387.15,338.51 387.40,341.45 387.65,344.47 387.90,347.56 388.15,350.72 388.40,353.94 388.65,357.23 388.90,360.58 389.15,364.00 389.40,367.47 389.65,371.01 389.90,374.60 390.15,378.24 390.40,381.94 390.65,385.70 390.90,389.50 391.15,393.36 391.40,397.27 391.65,401.22 391.90,405.23 392.15,409.28 392.40,413.38 392.65,417.52 392.90,421.71 393.15,417.13 393.40,407.43 393.65,398.58 393.90,390.52 394.15,383.17 394.40,376.47 394.65,370.36 394.90,364.79 395.15,359.72 395.40,355.09 395.65,350.87 395.90,347.03 396.15,343.52 396.40,340.33 396.65,337.42 396.90,334.76 397.15,332.34 397.40,330.14 397.65,328.13 397.90,326.29 398.15,324.62 398.40,323.10 398.65,321.71 398.90,320.45 399.15,319.29 399.40,318.24 399.65,317.28 399.90,316.41 400.15,315.61 400.40,314.88 400.65,314.22 400.90,313.62 401.15,313.07 401.40,312.57 401.65,312.11 401.90,311.69 402.15,311.31 402.40,310.97 402.65,310.65 402.90,310.37 403.15,310.10 403.40,309.86 403.65,309.65 403.90,309.45 404.15,309.27 404.40,309.10 404.65,308.95 404.90,308.81 405.15,308.69 405.40,308.57 405.65,308.47 405.90,308.38 406.15,308.29 406.40,308.21 406.65,308.14 406.90,308.07 407.15,308.01 407.40,307.96 407.65,307.91 407.90,307.87 408.15,307.82 408.40,307.79 408.65,307.75 408.90,307.72 409.15,307.69 409.40,307.67 410.40,307.58 411.40,307.53 412.40,307.49 413.40,307.46 414.40,307.44 415.40,307.43 416.40,307.42 417.40,307.41 418.40,307.41 419.40,307.41 420.40,307.40 421.40,307.40 422.40,307.40 423.40,307.40 424.40,307.40 425.40,307.40 426.40,307.40 427.40,307.40 428.40,307.40 429.40,307.40" stroke-width="0.6" stroke-opacity="0.5"/>
<polyline points="383.40,307.40 383.65,307.96 383.90,308.89 384.15,310.02 384.40,311.32 384.65,312.76 384.90,314.31 385.15,315.98 385.40,317.74 385.65,319.60 385.90,321.54 386.15,323.55 386.40,325.65 386.65,327.81 386.90,330.04 387.15,332.34 387.40,334.69 387.65,337.11 387.90,339.59 388.15,342.12 388.40,344.70 388.65,347.34 388.90,350.03 389.15,352.77 389.40,355.55 389.65,358.38 389.90,361.26 390.15,364.18 390.40,367.15 390.65,370.16 390.90,373.21 391.15,376.30 391.40,379.43 391.65,382.60 391.90,385.81 392.15,389.06 392.40,392.34 392.65,395.66 392.90,399.02 393.15,402.42 393.40,405.84 393.65,409.31 393.90,408.10 394.15,400.30 394.40,393.10 394.65,386.46 394.90,380.33 395.15,374.68 395.40,369.47 395.65,364.66 395.90,360.22 396.15,356.13 396.40,352.36 396.65,348.87 396.90,345.66 397.15,342.70 397.40,339.96 397.65,337.44 397.90,335.11 398.15,332.96 398.40,330.98 398.65,329.16 398.90,327.47 399.15,325.92 399.40,324.48 399.65,323.16 399.90,321.94 400.15,320.81 400.40,319.77 400.65,318.81 400.90,317.93 401.15,317.11 401.40,316.36 401.65,315.67 401.90,315.03 402.15,314.43 402.40,313.89 402.65,313.39 402.90,312.92 403.15,312.50 403.40,312.10 403.65,311.74 403.90,311.40 404.15,311.09 404.40,310.80 404.65,310.54 404.90,310.30 405.15,310.07 405.40,309.87 405.65,309.67 405.90,309.50 406.15,309.34 406.40,309.19 406.65,309.05 406.90,308.92 407.15,308.80 407.40,308.69 407.65,308.59 407.90,308.50 408.15,308.42 408.40,308.34 408.65,308.26 408.90,308.20 409.15,308.14 409.40,308.08 409.65,308.03 409.90,307.98 410.15,307.93 410.40,307.89 410.65,307.85 410.90,307.82 411.15,307.79 411.40,307.76 411.65,307.73 411.90,307.70 412.15,307.68 412.40,307.66 412.65,307.64 413.65,307.57 414.65,307.52 415.65,307.49 416.65,307.47 417.65,307.45 418.65,307.43 419.65,307.42 420.65,307.42 421.65,307.41 422.65,307.41 423.65,307.41 424.65,307.40 425.65,307.40 426.65,307.40 427.65,307.40 428.65,307.40 429.65,307.40" stroke-width="0.6" stroke-opacity="0.45"/>
</g>
<polyline points="487.50,345.00 487.50,372.00 521.00,372.00" fill="none" stroke="#707070" stroke-width="1.0"/>
<g transform="translate(416.07,372.00) scale(1.0000,1.012)"><text font-size="29.65" fill="#000">1 nA</text><rect x="1.33" y="-4.15" width="6.08" height="4.89" fill="#fff"/><rect x="10.14" y="-4.15" width="5.63" height="4.89" fill="#fff"/></g>
<g transform="translate(474.45,407.00) scale(1.0000,1.012)"><text font-size="30.90" fill="#000">20 ms</text></g>
<rect x="594.30" y="14.30" width="21.00" height="19.50" fill="none" stroke="#444" stroke-width="1.1"/>
<g transform="translate(624.80,34.10) scale(1.1052,1.038)"><text font-size="30.69" fill="#000">D21 (51)</text><rect x="40.61" y="-4.30" width="6.29" height="5.06" fill="#fff"/><rect x="49.73" y="-4.30" width="5.83" height="5.06" fill="#fff"/><rect x="93.49" y="-4.30" width="6.29" height="5.06" fill="#fff"/><rect x="102.61" y="-4.30" width="5.83" height="5.06" fill="#fff"/></g>
<circle cx="802.50" cy="25.75" r="10.20" fill="none" stroke="#f00" stroke-width="1.2"/>
<g transform="translate(826.74,36.30) scale(1.0679,1.038)"><text font-size="31.53" fill="#f00">T21 (25)</text><rect x="38.21" y="-4.41" width="6.46" height="5.20" fill="#fff"/><rect x="47.58" y="-4.41" width="5.99" height="5.20" fill="#fff"/></g>
<g transform="translate(818.35,79.40) scale(1.0701,1.012)"><text font-size="28.91" fill="#000">Voltage (mV)</text></g>
<line x1="619.00" y1="125.20" x2="983.30" y2="125.20" stroke="#000" stroke-width="1.35"/>
<line x1="621.60" y1="125.20" x2="621.60" y2="131.20" stroke="#000" stroke-width="1.3"/>
<line x1="724.75" y1="125.20" x2="724.75" y2="131.20" stroke="#000" stroke-width="1.3"/>
<line x1="827.90" y1="125.20" x2="827.90" y2="131.20" stroke="#000" stroke-width="1.3"/>
<line x1="931.05" y1="125.20" x2="931.05" y2="131.20" stroke="#000" stroke-width="1.3"/>
<line x1="673.17" y1="125.20" x2="673.17" y2="129.20" stroke="#000" stroke-width="1.3"/>
<line x1="776.32" y1="125.20" x2="776.32" y2="129.20" stroke="#000" stroke-width="1.3"/>
<line x1="879.48" y1="125.20" x2="879.48" y2="129.20" stroke="#000" stroke-width="1.3"/>
<line x1="982.62" y1="125.20" x2="982.62" y2="129.20" stroke="#000" stroke-width="1.3"/>
<line x1="827.90" y1="95.75" x2="827.90" y2="379.00" stroke="#000" stroke-width="1.9"/>
<line x1="822.00" y1="203.50" x2="827.90" y2="203.50" stroke="#000" stroke-width="1.3"/>
<line x1="822.00" y1="281.70" x2="827.90" y2="281.70" stroke="#000" stroke-width="1.3"/>
<line x1="822.00" y1="359.90" x2="827.90" y2="359.90" stroke="#000" stroke-width="1.3"/>
<line x1="825.00" y1="164.40" x2="827.90" y2="164.40" stroke="#000" stroke-width="1.3"/>
<line x1="825.00" y1="242.60" x2="827.90" y2="242.60" stroke="#000" stroke-width="1.3"/>
<line x1="825.00" y1="320.80" x2="827.90" y2="320.80" stroke="#000" stroke-width="1.3"/>
<g transform="translate(587.59,110.40) scale(1.0583,1.038)"><text font-size="29.57" fill="#000">-100</text><rect x="11.18" y="-4.14" width="6.06" height="4.88" fill="#fff"/><rect x="19.96" y="-4.14" width="5.62" height="4.88" fill="#fff"/></g>
<g transform="translate(699.31,110.40) scale(1.0426,1.038)"><text font-size="29.57" fill="#000">-50</text></g>
<g transform="translate(800.69,118.00) scale(1.0104,1.038)"><text font-size="29.85" fill="#000">0</text></g>
<g transform="translate(913.82,110.80) scale(1.0810,1.038)"><text font-size="29.57" fill="#000">50</text></g>
<g transform="translate(831.87,151.80) scale(1.0266,1.038)"><text font-size="29.99" fill="#000">0</text></g>
<g transform="translate(832.40,211.00) scale(1.0329,1.038)"><text font-size="30.13" fill="#000">-20</text></g>
<g transform="translate(832.40,367.20) scale(1.0329,1.038)"><text font-size="30.13" fill="#000">-60</text></g>
<g stroke="#333" stroke-width="0.9" fill="none">
<path d="M660.9,134.0V140.0M657.9,134.0h6M657.9,140.0h6"/>
<path d="M671.3,130.0V136.0M668.3,130.0h6M668.3,136.0h6"/>
<path d="M681.7,127.0V133.0M678.7,127.0h6M678.7,133.0h6"/>
<path d="M692.1,124.0V130.0M689.1,124.0h6M689.1,130.0h6"/>
<path d="M702.5,121.0V127.0M699.5,121.0h6M699.5,127.0h6"/>
<path d="M712.9,122.0V128.0M709.9,122.0h6M709.9,128.0h6"/>
<path d="M723.2,126.0V132.0M720.2,126.0h6M720.2,132.0h6"/>
<path d="M733.6,137.0V145.0M730.6,137.0h6M730.6,145.0h6"/>
<path d="M744.0,191.6V233.6M741.0,191.6h6M741.0,233.6h6"/>
<path d="M754.4,264.5V300.5M751.4,264.5h6M751.4,300.5h6"/>
<path d="M764.8,281.8V321.8M761.8,281.8h6M761.8,321.8h6"/>
<path d="M775.2,296.0V338.0M772.2,296.0h6M772.2,338.0h6"/>
<path d="M785.6,300.7V342.7M782.6,300.7h6M782.6,342.7h6"/>
<path d="M796.0,300.7V342.7M793.0,300.7h6M793.0,342.7h6"/>
<path d="M806.4,296.0V336.0M803.4,296.0h6M803.4,336.0h6"/>
<path d="M816.8,290.8V328.8M813.8,290.8h6M813.8,328.8h6"/>
<path d="M827.2,284.0V320.0M824.2,284.0h6M824.2,320.0h6"/>
<path d="M837.6,278.0V312.0M834.6,278.0h6M834.6,312.0h6"/>
<path d="M848.0,269.0V301.0M845.0,269.0h6M845.0,301.0h6"/>
<path d="M858.4,261.5V291.5M855.4,261.5h6M855.4,291.5h6"/>
<path d="M868.8,253.0V281.0M865.8,253.0h6M865.8,281.0h6"/>
<path d="M879.2,247.0V273.0M876.2,247.0h6M876.2,273.0h6"/>
<path d="M889.6,239.8V263.8M886.6,239.8h6M886.6,263.8h6"/>
<path d="M900.0,233.0V257.0M897.0,233.0h6M897.0,257.0h6"/>
<path d="M910.4,227.5V249.5M907.4,227.5h6M907.4,249.5h6"/>
<path d="M920.8,221.5V243.5M917.8,221.5h6M917.8,243.5h6"/>
<path d="M931.2,217.5V237.5M928.2,217.5h6M928.2,237.5h6"/>
<path d="M941.5,214.0V234.0M938.5,214.0h6M938.5,234.0h6"/>
</g>
<g stroke="#000" stroke-width="1.3" fill="none">
<line x1="734.9" y1="149.4" x2="742.8" y2="204.2"/>
<line x1="745.3" y1="221.0" x2="753.2" y2="274.1"/>
<line x1="758.5" y1="290.0" x2="760.8" y2="294.3"/>
<line x1="769.6" y1="308.8" x2="770.4" y2="310.0"/>
</g>
<g stroke="#000" stroke-width="1.2" fill="none">
<rect x="656.3" y="132.4" width="9.2" height="9.2"/>
<rect x="666.7" y="128.4" width="9.2" height="9.2"/>
<rect x="677.1" y="125.4" width="9.2" height="9.2"/>
<rect x="687.5" y="122.4" width="9.2" height="9.2"/>
<rect x="697.9" y="119.4" width="9.2" height="9.2"/>
<rect x="708.3" y="120.4" width="9.2" height="9.2"/>
<rect x="718.6" y="124.4" width="9.2" height="9.2"/>
<rect x="729.0" y="136.4" width="9.2" height="9.2"/>
<rect x="739.4" y="208.0" width="9.2" height="9.2"/>
<rect x="749.8" y="277.9" width="9.2" height="9.2"/>
<rect x="760.2" y="297.2" width="9.2" height="9.2"/>
<rect x="770.6" y="312.4" width="9.2" height="9.2"/>
<rect x="781.0" y="317.1" width="9.2" height="9.2"/>
<rect x="791.4" y="317.1" width="9.2" height="9.2"/>
<rect x="801.8" y="311.4" width="9.2" height="9.2"/>
<rect x="812.2" y="305.2" width="9.2" height="9.2"/>
<rect x="822.6" y="297.4" width="9.2" height="9.2"/>
<rect x="833.0" y="290.4" width="9.2" height="9.2"/>
<rect x="843.4" y="280.4" width="9.2" height="9.2"/>
<rect x="853.8" y="271.9" width="9.2" height="9.2"/>
<rect x="864.2" y="262.4" width="9.2" height="9.2"/>
<rect x="874.6" y="255.4" width="9.2" height="9.2"/>
<rect x="885.0" y="247.2" width="9.2" height="9.2"/>
<rect x="895.4" y="240.4" width="9.2" height="9.2"/>
<rect x="905.8" y="233.9" width="9.2" height="9.2"/>
<rect x="916.2" y="227.9" width="9.2" height="9.2"/>
<rect x="926.6" y="222.9" width="9.2" height="9.2"/>
<rect x="936.9" y="219.4" width="9.2" height="9.2"/>
</g>
<g stroke="#f44" stroke-width="0.9" fill="none">
<path d="M660.9,125.0V129.0M657.9,125.0h6M657.9,129.0h6"/>
<path d="M671.3,124.0V128.0M668.3,124.0h6M668.3,128.0h6"/>
<path d="M681.7,123.0V127.0M678.7,123.0h6M678.7,127.0h6"/>
<path d="M692.1,122.5V126.5M689.1,122.5h6M689.1,126.5h6"/>
<path d="M702.5,122.0V126.0M699.5,122.0h6M699.5,126.0h6"/>
<path d="M712.9,122.0V126.0M709.9,122.0h6M709.9,126.0h6"/>
<path d="M723.2,122.5V126.5M720.2,122.5h6M720.2,126.5h6"/>
<path d="M733.6,121.5V127.5M730.6,121.5h6M730.6,127.5h6"/>
<path d="M744.0,162.0V182.0M741.0,162.0h6M741.0,182.0h6"/>
<path d="M754.4,246.5V294.5M751.4,246.5h6M751.4,294.5h6"/>
<path d="M764.8,284.0V344.0M761.8,284.0h6M761.8,344.0h6"/>
<path d="M775.2,292.6V356.6M772.2,292.6h6M772.2,356.6h6"/>
<path d="M785.6,288.7V354.7M782.6,288.7h6M782.6,354.7h6"/>
<path d="M796.0,288.0V352.0M793.0,288.0h6M793.0,352.0h6"/>
<path d="M806.4,284.7V346.7M803.4,284.7h6M803.4,346.7h6"/>
<path d="M816.8,278.7V336.7M813.8,278.7h6M813.8,336.7h6"/>
<path d="M827.2,271.0V325.0M824.2,271.0h6M824.2,325.0h6"/>
<path d="M837.6,260.6V312.6M834.6,260.6h6M834.6,312.6h6"/>
<path d="M848.0,251.0V301.0M845.0,251.0h6M845.0,301.0h6"/>
<path d="M858.4,242.7V290.7M855.4,242.7h6M855.4,290.7h6"/>
<path d="M868.8,233.3V279.3M865.8,233.3h6M865.8,279.3h6"/>
<path d="M879.2,224.0V268.0M876.2,224.0h6M876.2,268.0h6"/>
<path d="M889.6,215.4V257.4M886.6,215.4h6M886.6,257.4h6"/>
<path d="M900.0,208.7V248.7M897.0,208.7h6M897.0,248.7h6"/>
<path d="M910.4,203.0V241.0M907.4,203.0h6M907.4,241.0h6"/>
<path d="M920.8,197.3V233.3M917.8,197.3h6M917.8,233.3h6"/>
<path d="M931.2,191.8V225.8M928.2,191.8h6M928.2,225.8h6"/>
<path d="M941.5,187.4V219.4M938.5,187.4h6M938.5,219.4h6"/>
</g>
<g stroke="#f00" stroke-width="1.3" fill="none">
<line x1="735.5" y1="132.8" x2="742.2" y2="163.7"/>
<line x1="744.9" y1="180.5" x2="753.5" y2="262.0"/>
<line x1="756.4" y1="278.8" x2="762.9" y2="305.7"/>
</g>
<g stroke="#f00" stroke-width="1.2" fill="none">
<circle cx="660.9" cy="127.0" r="5.3"/>
<circle cx="671.3" cy="126.0" r="5.3"/>
<circle cx="681.7" cy="125.0" r="5.3"/>
<circle cx="692.1" cy="124.5" r="5.3"/>
<circle cx="702.5" cy="124.0" r="5.3"/>
<circle cx="712.9" cy="124.0" r="5.3"/>
<circle cx="723.2" cy="124.5" r="5.3"/>
<circle cx="733.6" cy="124.5" r="5.3"/>
<circle cx="744.0" cy="172.0" r="5.3"/>
<circle cx="754.4" cy="270.5" r="5.3"/>
<circle cx="764.8" cy="314.0" r="5.3"/>
<circle cx="775.2" cy="324.6" r="5.3"/>
<circle cx="785.6" cy="321.7" r="5.3"/>
<circle cx="796.0" cy="320.0" r="5.3"/>
<circle cx="806.4" cy="315.7" r="5.3"/>
<circle cx="816.8" cy="307.7" r="5.3"/>
<circle cx="827.2" cy="298.0" r="5.3"/>
<circle cx="837.6" cy="286.6" r="5.3"/>
<circle cx="848.0" cy="276.0" r="5.3"/>
<circle cx="858.4" cy="266.7" r="5.3"/>
<circle cx="868.8" cy="256.3" r="5.3"/>
<circle cx="879.2" cy="246.0" r="5.3"/>
<circle cx="889.6" cy="236.4" r="5.3"/>
<circle cx="900.0" cy="228.7" r="5.3"/>
<circle cx="910.4" cy="222.0" r="5.3"/>
<circle cx="920.8" cy="215.3" r="5.3"/>
<circle cx="931.2" cy="208.8" r="5.3"/>
<circle cx="941.5" cy="203.4" r="5.3"/>
</g>
<g transform="translate(648.90,207.60) scale(1.0000,1.012)"><text font-size="27.52" fill="#000">55 mV</text></g>
<path d="M675,217.50H704.5M675,223.00H704.5M675,228.75H704.5M675,234.50H704.5M675,240.00H704.5M675,245.75H704.5M675,251.25H704.5M675,257.00H704.5M675,263.00H704.5M675,268.75H704.5M675,274.50H704.5M675,280.50H704.5M675,286.25H704.5M675,292.50H704.5M675,298.75H704.5M675,305.00H704.5M675,311.25H704.5M675,317.50H704.5M675,323.75H704.5M675,330.00H704.5M675,337.00H704.5M675,343.25H704.5M675,349.50H704.5M675,356.25H704.5M675,363.75H704.5M675,370.75H704.5M675,377.50H704.5M675,384.75H704.5M675,217.5V384.75M704.5,217.5V384.75" fill="none" stroke="#000" stroke-width="1.75"/>
<polyline points="602.50,356.00 631.00,356.00 631.00,372.00 660.00,372.00 660.00,356.00 675.00,356.00" fill="none" stroke="#000" stroke-width="1.5"/>
<line x1="704.50" y1="356.00" x2="734.00" y2="356.00" stroke="#000" stroke-width="1.5"/>
<g transform="translate(570.76,346.00) scale(1.0000,1.012)"><text font-size="27.58" fill="#000">-60 mV</text></g>
<g transform="translate(647.75,414.00) scale(1.0000,1.012)"><text font-size="27.74" fill="#000">-80 mV</text></g>
<text transform="translate(921.7,417.6) rotate(-90) scale(1,1.012)" font-size="31.0" fill="#000"><tspan font-style="italic">I</tspan><tspan font-style="italic" font-size="19" dy="7.5">Na</tspan><tspan dy="-7.5"> (pA/ pF)</tspan></text>
</g>
<g id="panelC">
<g transform="translate(-3.2,558.1) scale(1,1.038)"><text font-size="67.5" fill="#000">C</text></g>
<polyline points="87.00,633.25 117.50,633.25 117.50,639.25 147.50,639.25 147.50,633.25 166.25,633.25 166.25,659.20 195.75,659.20 195.75,590.50" fill="none" stroke="#000" stroke-width="1.5"/>
<path d="M195.75,590.50H239.3M195.75,596.50H239.3M195.75,602.50H239.3M195.75,608.50H239.3M195.75,614.50H239.3M195.75,620.50H239.3M195.75,626.50H239.3M195.75,632.50H239.3M195.75,638.50H239.3M195.75,644.50H239.3M195.75,590.5V644.5M239.3,590.5V644.5" fill="none" stroke="#000" stroke-width="1.35"/>
<polyline points="239.30,596.25 263.25,596.25 263.25,659.80 293.25,659.80 293.25,632.00 312.50,632.00" fill="none" stroke="#000" stroke-width="1.5"/>
<g transform="translate(63.37,627.50) scale(1.0000,1.012)"><text font-size="25.22" fill="#000">-60 mV</text></g>
<g transform="translate(169.52,551.90) scale(1.0000,1.012)"><text font-size="26.43" fill="#000">10 mV,</text><rect x="1.19" y="-3.70" width="5.42" height="4.36" fill="#fff"/><rect x="9.04" y="-3.70" width="5.02" height="4.36" fill="#fff"/></g>
<g transform="translate(171.85,581.60) scale(1.0000,1.012)"><text font-size="25.19" fill="#000">100 ms</text><rect x="1.13" y="-3.53" width="5.16" height="4.16" fill="#fff"/><rect x="8.62" y="-3.53" width="4.79" height="4.16" fill="#fff"/></g>
<g transform="translate(278.95,529.50) scale(1.0000,1.012)"><text font-size="26.36" fill="#000">0 mV,</text></g>
<g transform="translate(278.26,560.00) scale(1.0000,1.012)"><text font-size="25.11" fill="#000">10 ms</text><rect x="1.13" y="-3.52" width="5.15" height="4.14" fill="#fff"/><rect x="8.59" y="-3.52" width="4.77" height="4.14" fill="#fff"/></g>
<g transform="translate(204.88,667.00) scale(1.0000,1.038)"><text font-size="24.95" fill="#000">-80</text></g>
<g transform="translate(149.87,686.60) scale(1.0000,1.038)"><text font-size="25.03" fill="#000">-120</text><rect x="9.46" y="-3.50" width="5.13" height="4.13" fill="#fff"/><rect x="16.90" y="-3.50" width="4.76" height="4.13" fill="#fff"/></g>
<g transform="translate(252.37,683.60) scale(1.0000,1.038)"><text font-size="25.03" fill="#000">-120</text><rect x="9.46" y="-3.50" width="5.13" height="4.13" fill="#fff"/><rect x="16.90" y="-3.50" width="4.76" height="4.13" fill="#fff"/></g>
<line x1="290.75" y1="565.50" x2="273.40" y2="580.35" stroke="#17608a" stroke-width="4.0"/>
<path d="M261.25,591.25 L267.2,574.3 L279.6,586.4 Z" fill="#17608a" stroke="#17608a" stroke-width="0.3"/>
<g transform="translate(149.80,732.10) scale(1.0443,1.038)"><text font-size="38.26" fill="#000">D21</text><rect x="50.62" y="-5.36" width="7.84" height="6.31" fill="#fff"/><rect x="61.99" y="-5.36" width="7.27" height="6.31" fill="#fff"/></g>
<g transform="translate(332.09,731.50) scale(1.0690,1.038)"><text font-size="37.83" fill="#f00">T21</text><rect x="45.86" y="-5.30" width="7.76" height="6.24" fill="#fff"/><rect x="57.09" y="-5.30" width="7.19" height="6.24" fill="#fff"/></g>
<line x1="137.00" y1="752.40" x2="252.50" y2="752.40" stroke="#000" stroke-width="1.6"/>
<path d="M172,752.0 L190,751.0 L252.5,750.6 L252.5,754.6 L190,754.0 L178,753.2 Z" fill="#000" stroke="#000" stroke-width="0.3"/>
<path d="M136.8,748 L138.4,748 L138.2,757 L137,757 Z" fill="#000" stroke="#000" stroke-width="0.5"/>
<polyline points="139.50,753.84 139.70,753.99 139.90,754.14 140.10,754.30 140.30,754.47 140.50,754.65 140.70,754.83 140.90,755.02 141.10,755.22 141.30,755.42 141.50,755.64 141.70,755.85 141.90,756.08 142.10,756.31 142.30,756.55 142.50,756.79 142.70,757.04 142.90,757.28 143.10,757.52 143.30,757.75 143.50,757.98 143.70,758.20 143.90,758.42 144.10,758.64 144.30,758.86 144.50,759.07 144.70,759.29 144.90,759.50 145.10,759.70 145.30,759.91 145.50,760.12 145.70,760.32 145.90,760.52 146.10,760.72 146.30,760.92 146.50,761.12 146.70,761.32 146.90,761.51 147.10,761.71 147.30,761.90 147.50,762.09 147.70,762.27 147.90,762.43 148.10,762.59 148.30,762.72 148.50,762.85 148.70,762.96 148.90,763.06 149.10,763.14 149.30,763.22 149.50,763.28 149.70,763.33 149.90,763.36 150.10,763.39 150.30,763.40 150.50,763.40 150.70,763.39 150.90,763.37 151.10,763.33 151.30,763.29 151.50,763.23 151.70,763.16 151.90,763.09 152.10,763.00 152.30,762.90 152.50,762.79 152.70,762.67 152.90,762.54 153.10,762.40 153.30,762.25 153.50,762.09 153.70,761.91 153.90,761.75 154.10,761.58 154.30,761.42 154.50,761.26 154.70,761.11 154.90,760.95 155.10,760.80 155.30,760.65 155.50,760.51 155.70,760.37 155.90,760.23 156.10,760.09 156.30,759.95 156.50,759.82 156.70,759.69 156.90,759.56 157.10,759.44 157.30,759.31 157.50,759.19 157.70,759.07 157.90,758.96 158.10,758.84 158.30,758.73 158.50,758.62 158.70,758.51 158.90,758.41 159.10,758.30 159.30,758.20 159.50,758.10 159.70,758.00 159.90,757.90 160.10,757.81 160.30,757.71 160.50,757.62 160.70,757.53 160.90,757.44 161.10,757.35 161.30,757.27 161.50,757.18 161.70,757.10 161.90,757.02 162.10,756.94 162.30,756.86 162.50,756.79 162.70,756.71 162.90,756.64 163.10,756.56 163.30,756.49 163.50,756.42 163.70,756.35 163.90,756.29 164.10,756.22 164.30,756.15 164.50,756.09 164.70,756.03 164.90,755.96 165.10,755.90 165.30,755.84 165.50,755.79 165.70,755.73 165.90,755.67 166.10,755.62 166.30,755.56 166.50,755.51 166.70,755.46 166.90,755.41 167.10,755.35 167.30,755.31 167.50,755.26 167.70,755.21 167.90,755.16 168.10,755.12 168.30,755.07 168.50,755.03 168.70,754.98 168.90,754.94 169.10,754.90 169.30,754.86 169.50,754.81 169.70,754.77 169.90,754.74 170.10,754.70 170.30,754.66 170.50,754.62 170.70,754.59 170.90,754.55 171.10,754.52 171.30,754.48 171.50,754.45 171.70,754.41 171.90,754.38 172.10,754.35 172.30,754.32 172.50,754.29 172.70,754.26 172.90,754.23 173.10,754.20 173.30,754.17 173.50,754.14 173.70,754.11 173.90,754.08 174.10,754.06 174.30,754.03 174.50,754.01 174.70,753.98 174.90,753.96 175.10,753.93 175.30,753.91 175.50,753.88 175.70,753.86 175.90,753.84 176.10,753.82 176.30,753.79 176.50,753.77 176.70,753.75 176.90,753.73 177.10,753.71 177.30,753.69 177.50,753.67 177.70,753.65 177.90,753.63 178.10,753.61 178.30,753.60 178.50,753.58 178.70,753.56 178.90,753.54 179.10,753.53 179.30,753.51 179.50,753.49 179.70,753.48 179.90,753.46 180.10,753.44 180.30,753.43 181.10,753.37 181.90,753.32 182.70,753.27 183.50,753.22 184.30,753.18 185.10,753.14 185.90,753.10 186.70,753.06 187.50,753.03 188.30,753.00 189.10,752.97 189.90,752.95 190.70,752.92 191.50,752.90 192.30,752.88 193.10,752.86 193.90,752.84 194.70,752.82 195.50,752.81 196.30,752.79 197.10,752.78 197.90,752.77 198.70,752.76 199.50,752.74 199.90,752.74" fill="none" stroke="#000" stroke-width="1.0" stroke-opacity="1.0" stroke-linejoin="round"/>
<polyline points="138.00,754.43 138.20,755.49 138.40,756.81 138.60,758.42 138.80,760.32 139.00,762.52 139.20,764.89 139.40,767.38 139.60,769.98 139.80,772.66 140.00,775.43 140.20,778.27 140.40,781.18 140.60,784.16 140.80,787.19 141.00,790.28 141.20,793.42 141.40,796.62 141.60,799.86 141.80,803.15 142.00,806.48 142.20,809.85 142.40,813.27 142.60,816.72 142.80,820.21 143.00,823.74 143.20,827.31 143.40,830.91 143.60,834.09 143.80,836.69 144.00,838.72 144.20,840.17 144.40,841.05 144.60,841.35 144.80,841.07 145.00,840.22 145.20,838.79 145.40,837.23 145.60,835.70 145.80,834.20 146.00,832.73 146.20,831.29 146.40,829.87 146.60,828.47 146.80,827.11 147.00,825.76 147.20,824.45 147.40,823.15 147.60,821.88 147.80,820.64 148.00,819.41 148.20,818.21 148.40,817.03 148.60,815.87 148.80,814.73 149.00,813.61 149.20,812.52 149.40,811.44 149.60,810.38 149.80,809.35 150.00,808.33 150.20,807.33 150.40,806.34 150.60,805.38 150.80,804.43 151.00,803.50 151.20,802.59 151.40,801.69 151.60,800.81 151.80,799.95 152.00,799.10 152.20,798.27 152.40,797.45 152.60,796.65 152.80,795.86 153.00,795.08 153.20,794.32 153.40,793.57 153.60,792.84 153.80,792.12 154.00,791.41 154.20,790.72 154.40,790.04 154.60,789.37 154.80,788.71 155.00,788.07 155.20,787.43 155.40,786.81 155.60,786.20 155.80,785.60 156.00,785.01 156.20,784.43 156.40,783.86 156.60,783.30 156.80,782.76 157.00,782.22 157.20,781.69 157.40,781.17 157.60,780.66 157.80,780.16 158.00,779.67 158.20,779.18 158.40,778.71 158.60,778.24 158.80,777.79 159.00,777.34 159.20,776.90 159.40,776.46 159.60,776.04 159.80,775.62 160.00,775.21 160.20,774.81 160.40,774.41 160.60,774.02 160.80,773.64 161.00,773.26 161.20,772.90 161.40,772.53 161.60,772.18 161.80,771.83 162.00,771.49 162.20,771.15 162.40,770.82 162.60,770.49 162.80,770.18 163.00,769.86 163.20,769.55 163.40,769.25 163.60,768.96 163.80,768.66 164.00,768.38 164.20,768.10 164.40,767.82 164.60,767.55 164.80,767.28 165.00,767.02 165.20,766.76 165.40,766.51 165.60,766.26 165.80,766.02 166.00,765.78 166.20,765.54 166.40,765.31 166.60,765.08 166.80,764.86 167.00,764.64 167.20,764.43 167.40,764.21 167.60,764.01 167.80,763.80 168.00,763.60 168.20,763.41 168.40,763.21 168.60,763.02 168.80,762.84 169.00,762.65 169.20,762.47 169.40,762.29 169.60,762.12 169.80,761.95 170.00,761.78 170.20,761.62 170.40,761.45 170.60,761.30 170.80,761.14 171.00,760.99 171.20,760.83 171.40,760.69 171.60,760.54 171.80,760.40 172.00,760.26 172.20,760.12 172.40,759.98 172.60,759.85 172.80,759.72 173.00,759.59 173.20,759.46 173.40,759.34 173.60,759.22 173.80,759.10 174.00,758.98 174.20,758.86 174.80,758.53 175.60,758.11 176.40,757.71 177.20,757.35 178.00,757.01 178.80,756.69 179.60,756.39 180.40,756.11 181.20,755.86 182.00,755.62 182.80,755.39 183.60,755.18 184.40,754.99 185.20,754.80 186.00,754.63 186.80,754.47 187.60,754.33 188.40,754.19 189.20,754.06 190.00,753.94 190.80,753.83 191.60,753.72 192.40,753.62 193.20,753.53 194.00,753.45 194.80,753.37 195.60,753.29 196.40,753.22 197.20,753.16 198.00,753.10 198.80,753.04 199.60,752.99 200.40,752.94 201.20,752.90 202.00,752.85 202.80,752.81 203.60,752.78 204.40,752.74 205.20,752.71 206.00,752.68 206.80,752.65 207.60,752.63 208.40,752.61 209.20,752.58 210.00,752.56 210.80,752.54 211.60,752.53 212.40,752.51 213.20,752.50 214.00,752.48 214.80,752.47 215.60,752.46 216.40,752.45 217.20,752.44 218.00,752.43 218.80,752.42 219.60,752.41 220.40,752.40 221.20,752.40 222.00,752.39 222.80,752.39 223.60,752.38 224.40,752.38 225.20,752.37 226.00,752.37 226.80,752.37 227.60,752.36 228.40,752.36 229.20,752.36 230.00,752.36 230.80,752.36 231.60,752.36 232.40,752.36 233.20,752.36 234.00,752.36 234.80,752.36 235.60,752.36 236.40,752.36 237.20,752.36 238.00,752.36 238.80,752.36 239.60,752.36 240.40,752.36 241.20,752.36 242.00,752.36 242.80,752.36 243.60,752.36 244.40,752.37 245.20,752.37 246.00,752.37 246.80,752.37 247.60,752.37 248.40,752.37 249.20,752.38 250.00,752.38 250.80,752.38 251.60,752.38 251.80,752.38" fill="none" stroke="#f00" stroke-width="1.0" stroke-opacity="1.0" stroke-linejoin="round"/>
<polyline points="138.00,755.12 138.20,757.07 138.40,759.64 138.60,762.87 138.80,766.79 139.00,771.07 139.20,775.62 139.40,780.38 139.60,785.33 139.80,790.44 140.00,795.70 140.20,801.10 140.40,806.63 140.60,812.28 140.80,818.03 141.00,823.90 141.20,829.86 141.40,835.92 141.60,842.07 141.80,848.31 142.00,854.63 142.20,861.03 142.40,867.51 142.60,874.06 142.80,880.68 143.00,887.38 143.20,894.14 143.40,900.97 143.60,907.86 143.80,914.81 144.00,921.03 144.20,925.71 144.40,928.87 144.60,930.50 144.80,930.60 145.00,929.18 145.20,926.25 145.40,922.59 145.60,919.01 145.80,915.51 146.00,912.08 146.20,908.72 146.40,905.44 146.60,902.22 146.80,899.07 147.00,895.98 147.20,892.97 147.40,890.01 147.60,887.12 147.80,884.29 148.00,881.51 148.20,878.80 148.40,876.14 148.60,873.54 148.80,871.00 149.00,868.50 149.20,866.06 149.40,863.68 149.60,861.34 149.80,859.05 150.00,856.81 150.20,854.61 150.40,852.47 150.60,850.36 150.80,848.31 151.00,846.29 151.20,844.32 151.40,842.39 151.60,840.50 151.80,838.65 152.00,836.84 152.20,835.06 152.40,833.33 152.60,831.63 152.80,829.96 153.00,828.33 153.20,826.74 153.40,825.18 153.60,823.65 153.80,822.16 154.00,820.69 154.20,819.26 154.40,817.85 154.60,816.48 154.80,815.14 155.00,813.82 155.20,812.53 155.40,811.27 155.60,810.03 155.80,808.83 156.00,807.64 156.20,806.48 156.40,805.35 156.60,804.24 156.80,803.15 157.00,802.09 157.20,801.04 157.40,800.03 157.60,799.03 157.80,798.05 158.00,797.09 158.20,796.16 158.40,795.24 158.60,794.34 158.80,793.46 159.00,792.60 159.20,791.76 159.40,790.94 159.60,790.13 159.80,789.34 160.00,788.57 160.20,787.81 160.40,787.07 160.60,786.34 160.80,785.63 161.00,784.94 161.20,784.25 161.40,783.59 161.60,782.94 161.80,782.30 162.00,781.67 162.20,781.06 162.40,780.46 162.60,779.87 162.80,779.30 163.00,778.74 163.20,778.19 163.40,777.65 163.60,777.12 163.80,776.61 164.00,776.10 164.20,775.61 164.40,775.12 164.60,774.65 164.80,774.18 165.00,773.73 165.20,773.28 165.40,772.85 165.60,772.42 165.80,772.01 166.00,771.60 166.20,771.20 166.40,770.81 166.60,770.42 166.80,770.05 167.00,769.68 167.20,769.32 167.40,768.97 167.60,768.62 167.80,768.29 168.00,767.96 168.20,767.63 168.40,767.32 168.60,767.01 168.80,766.70 169.00,766.41 169.20,766.12 169.40,765.83 169.60,765.55 169.80,765.28 170.00,765.01 170.20,764.75 170.40,764.50 170.60,764.25 170.80,764.00 171.00,763.76 171.20,763.53 171.40,763.30 171.60,763.07 171.80,762.85 172.00,762.63 172.20,762.42 172.40,762.22 172.60,762.01 172.80,761.82 173.00,761.62 173.20,761.43 173.40,761.25 173.60,761.06 173.80,760.89 174.00,760.71 174.20,760.54 174.40,760.37 174.80,760.05 175.60,759.44 176.40,758.88 177.20,758.37 178.00,757.90 178.80,757.47 179.60,757.07 180.40,756.71 181.20,756.37 182.00,756.06 182.80,755.78 183.60,755.52 184.40,755.28 185.20,755.06 186.00,754.86 186.80,754.68 187.60,754.51 188.40,754.35 189.20,754.21 190.00,754.08 190.80,753.96 191.60,753.85 192.40,753.75 193.20,753.65 194.00,753.57 194.80,753.49 195.60,753.41 196.40,753.35 197.20,753.29 198.00,753.23 198.80,753.18 199.60,753.13 200.40,753.09 201.20,753.05 202.00,753.01 202.80,752.98 203.60,752.95 204.40,752.92 205.20,752.89 206.00,752.87 206.80,752.85 207.60,752.83 208.40,752.81 209.20,752.79 210.00,752.78 210.80,752.76 211.60,752.75 212.40,752.74 213.20,752.73 214.00,752.72 214.80,752.71" fill="none" stroke="#000" stroke-width="0.8" stroke-opacity="0.85" stroke-linejoin="round"/>
<polyline points="138.07,755.01 138.27,756.88 138.47,759.34 138.67,762.44 138.88,766.19 139.07,770.29 139.27,774.64 139.47,779.20 139.67,783.94 139.88,788.83 140.07,793.87 140.27,799.04 140.47,804.34 140.67,809.74 140.88,815.26 141.07,820.87 141.27,826.58 141.47,832.39 141.67,838.28 141.88,844.25 142.07,850.30 142.27,856.43 142.47,862.63 142.67,868.91 142.88,875.25 143.07,881.66 143.27,888.13 143.47,894.67 143.67,901.27 143.88,907.93 144.07,914.64 144.28,920.46 144.47,924.81 144.67,927.69 144.88,929.10 145.07,929.05 145.28,927.54 145.47,924.56 145.67,921.09 145.88,917.69 146.07,914.35 146.28,911.08 146.47,907.88 146.67,904.75 146.88,901.67 147.07,898.66 147.27,895.71 147.47,892.82 147.67,889.99 147.88,887.21 148.07,884.49 148.27,881.83 148.47,879.22 148.67,876.66 148.87,874.15 149.07,871.70 149.27,869.29 149.47,866.93 149.67,864.62 149.87,862.36 150.07,860.14 150.27,857.97 150.47,855.84 150.67,853.76 150.87,851.71 151.07,849.71 151.27,847.75 151.47,845.83 151.67,843.94 151.87,842.10 152.07,840.29 152.27,838.52 152.47,836.78 152.67,835.08 152.87,833.42 153.07,831.78 153.27,830.18 153.47,828.62 153.67,827.08 153.87,825.58 154.07,824.10 154.27,822.66 154.47,821.24 154.67,819.86 154.87,818.50 155.07,817.17 155.27,815.86 155.47,814.58 155.67,813.33 155.87,812.11 156.07,810.90 156.27,809.73 156.47,808.57 156.67,807.44 156.87,806.33 157.07,805.25 157.27,804.18 157.47,803.14 157.67,802.12 157.87,801.12 158.07,800.14 158.27,799.18 158.47,798.24 158.67,797.32 158.87,796.41 159.07,795.53 159.27,794.66 159.47,793.81 159.67,792.98 159.87,792.16 160.07,791.36 160.27,790.58 160.47,789.81 160.67,789.06 160.87,788.33 161.07,787.60 161.27,786.90 161.47,786.20 161.67,785.52 161.87,784.86 162.07,784.21 162.27,783.57 162.47,782.94 162.67,782.33 162.87,781.73 163.07,781.14 163.27,780.57 163.47,780.00 163.67,779.45 163.87,778.90 164.07,778.37 164.27,777.85 164.47,777.34 164.67,776.84 164.87,776.35 165.07,775.87 165.27,775.40 165.47,774.94 165.67,774.49 165.87,774.05 166.07,773.62 166.27,773.19 166.47,772.77 166.67,772.37 166.87,771.97 167.07,771.58 167.27,771.19 167.47,770.82 167.67,770.45 167.87,770.09 168.07,769.74 168.27,769.39 168.47,769.05 168.67,768.72 168.87,768.39 169.07,768.07 169.27,767.76 169.47,767.45 169.67,767.15 169.87,766.86 170.07,766.57 170.27,766.29 170.47,766.01 170.67,765.74 170.87,765.48 171.07,765.22 171.27,764.96 171.47,764.71 171.67,764.47 171.87,764.23 172.07,763.99 172.27,763.76 172.47,763.54 172.67,763.32 172.87,763.10 173.07,762.89 173.27,762.68 173.47,762.48 173.67,762.28 173.87,762.08 174.07,761.89 174.27,761.70 174.47,761.52 174.67,761.34 174.87,761.16 175.67,760.49 176.47,759.87 177.28,759.30 178.08,758.78 178.88,758.29 179.68,757.85 180.48,757.43 181.28,757.06 182.08,756.71 182.88,756.38 183.68,756.09 184.48,755.81 185.28,755.56 186.08,755.33 186.88,755.12 187.68,754.92 188.48,754.74 189.28,754.57 190.08,754.42 190.88,754.27 191.68,754.14 192.48,754.02 193.28,753.91 194.08,753.81 194.88,753.71 195.68,753.63 196.48,753.54 197.28,753.47 198.08,753.40 198.88,753.34 199.68,753.28 200.48,753.23 201.28,753.18 202.08,753.13 202.88,753.09 203.68,753.05 204.48,753.02 205.28,752.98 206.08,752.95 206.88,752.93 207.68,752.90 208.48,752.88 209.28,752.86 210.08,752.84 210.88,752.82 211.68,752.80 212.48,752.78 213.28,752.77 214.08,752.76 214.88,752.74" fill="none" stroke="#000" stroke-width="0.8" stroke-opacity="0.85" stroke-linejoin="round"/>
<polyline points="137.96,755.17 138.16,757.15 138.36,759.76 138.56,763.05 138.76,767.04 138.96,771.40 139.16,776.02 139.36,780.87 139.56,785.90 139.76,791.10 139.96,796.46 140.16,801.95 140.36,807.58 140.56,813.32 140.76,819.18 140.96,825.15 141.16,831.22 141.36,837.38 141.56,843.64 141.76,849.99 141.96,856.42 142.16,862.93 142.36,869.52 142.56,876.19 142.76,882.93 142.96,889.74 143.16,896.62 143.36,903.57 143.56,910.58 143.76,917.61 143.96,923.08 144.16,926.98 144.36,929.32 144.56,930.10 144.76,929.33 144.96,927.00 145.16,923.17 145.36,919.42 145.56,915.75 145.76,912.17 145.96,908.66 146.16,905.23 146.36,901.88 146.56,898.60 146.76,895.39 146.96,892.25 147.16,889.18 147.36,886.18 147.56,883.24 147.76,880.37 147.96,877.56 148.16,874.82 148.36,872.13 148.56,869.50 148.75,866.94 148.96,864.42 149.16,861.97 149.36,859.56 149.56,857.21 149.75,854.91 149.96,852.66 150.16,850.46 150.35,848.31 150.56,846.21 150.75,844.15 150.96,842.14 151.16,840.17 151.35,838.25 151.56,836.37 151.75,834.52 151.95,832.72 152.16,830.96 152.35,829.24 152.56,827.56 152.75,825.91 152.95,824.30 153.16,822.72 153.35,821.18 153.55,819.67 153.75,818.20 153.95,816.76 154.16,815.35 154.35,813.97 154.55,812.62 154.75,811.30 154.95,810.01 155.15,808.75 155.35,807.52 155.55,806.31 155.75,805.13 155.95,803.97 156.15,802.85 156.35,801.74 156.55,800.66 156.75,799.60 156.95,798.57 157.15,797.56 157.35,796.57 157.55,795.61 157.75,794.66 157.95,793.74 158.15,792.83 158.35,791.95 158.55,791.08 158.75,790.24 158.95,789.41 159.15,788.60 159.35,787.81 159.55,787.04 159.75,786.28 159.95,785.54 160.15,784.82 160.35,784.11 160.55,783.42 160.75,782.74 160.95,782.08 161.15,781.43 161.35,780.79 161.55,780.18 161.75,779.57 161.95,778.98 162.15,778.40 162.35,777.83 162.55,777.28 162.75,776.73 162.95,776.20 163.15,775.68 163.35,775.18 163.55,774.68 163.75,774.20 163.95,773.72 164.15,773.26 164.35,772.80 164.55,772.36 164.75,771.92 164.95,771.50 165.15,771.08 165.35,770.68 165.55,770.28 165.75,769.89 165.95,769.51 166.15,769.14 166.35,768.78 166.55,768.42 166.75,768.07 166.95,767.73 167.15,767.40 167.35,767.08 167.55,766.76 167.75,766.45 167.95,766.14 168.15,765.84 168.35,765.55 168.55,765.27 168.75,764.99 168.95,764.72 169.15,764.45 169.35,764.19 169.55,763.94 169.75,763.69 169.95,763.44 170.15,763.21 170.35,762.97 170.55,762.74 170.75,762.52 170.95,762.30 171.15,762.09 171.35,761.88 171.55,761.68 171.75,761.48 171.95,761.28 172.15,761.09 172.35,760.91 172.55,760.72 172.75,760.54 172.95,760.37 173.15,760.20 173.35,760.03 173.55,759.87 173.75,759.71 173.95,759.55 174.16,759.40 174.75,758.96 175.56,758.42 176.36,757.93 177.16,757.47 177.96,757.06 178.76,756.68 179.56,756.33 180.36,756.01 181.16,755.72 181.96,755.46 182.76,755.22 183.56,754.99 184.36,754.79 185.16,754.60 185.96,754.43 186.76,754.28 187.56,754.13 188.36,754.00 189.16,753.88 189.96,753.78 190.76,753.68 191.56,753.58 192.36,753.50 193.16,753.42 193.96,753.35 194.76,753.29 195.56,753.23 196.36,753.18 197.16,753.13 197.96,753.08 198.76,753.04 199.56,753.00 200.36,752.97 201.16,752.94 201.96,752.91 202.76,752.88 203.56,752.86 204.36,752.84 205.16,752.82 205.96,752.80 206.76,752.78 207.56,752.77 208.36,752.75 209.16,752.74 209.96,752.73 210.76,752.72 211.56,752.71 212.36,752.70 213.16,752.69 213.96,752.68 214.76,752.67 214.96,752.67" fill="none" stroke="#000" stroke-width="0.8" stroke-opacity="0.85" stroke-linejoin="round"/>
<polyline points="138.13,754.93 138.33,756.72 138.53,759.09 138.73,762.07 138.94,765.69 139.13,769.64 139.33,773.83 139.53,778.22 139.73,782.79 139.94,787.50 140.13,792.36 140.33,797.34 140.53,802.44 140.73,807.64 140.94,812.96 141.13,818.36 141.33,823.87 141.53,829.46 141.73,835.13 141.94,840.88 142.13,846.71 142.33,852.61 142.53,858.59 142.73,864.63 142.94,870.74 143.13,876.92 143.33,883.15 143.53,889.45 143.73,895.81 143.94,902.22 144.13,908.69 144.34,915.21 144.53,920.43 144.73,924.23 144.94,926.62 145.13,927.60 145.34,927.17 145.53,925.33 145.73,922.08 145.94,918.79 146.13,915.57 146.34,912.40 146.53,909.30 146.73,906.26 146.94,903.27 147.13,900.35 147.33,897.48 147.53,894.66 147.73,891.91 147.94,889.20 148.13,886.55 148.33,883.95 148.53,881.40 148.73,878.90 148.93,876.44 149.13,874.04 149.33,871.68 149.53,869.37 149.73,867.10 149.93,864.88 150.13,862.70 150.33,860.56 150.53,858.47 150.73,856.41 150.93,854.39 151.13,852.42 151.33,850.48 151.53,848.58 151.73,846.72 151.93,844.89 152.13,843.10 152.33,841.34 152.53,839.62 152.73,837.93 152.93,836.27 153.13,834.64 153.33,833.05 153.53,831.49 153.73,829.96 153.93,828.46 154.13,826.98 154.33,825.54 154.53,824.12 154.73,822.73 154.93,821.37 155.13,820.04 155.33,818.73 155.53,817.44 155.73,816.18 155.93,814.95 156.13,813.74 156.33,812.55 156.53,811.39 156.73,810.25 156.93,809.13 157.13,808.03 157.33,806.95 157.53,805.90 157.73,804.86 157.93,803.85 158.13,802.85 158.33,801.88 158.53,800.92 158.73,799.98 158.93,799.06 159.13,798.16 159.33,797.28 159.53,796.41 159.73,795.56 159.93,794.72 160.13,793.91 160.33,793.10 160.53,792.32 160.73,791.55 160.93,790.79 161.13,790.05 161.33,789.32 161.53,788.61 161.73,787.91 161.93,787.22 162.13,786.55 162.33,785.89 162.53,785.25 162.73,784.61 162.93,783.99 163.13,783.38 163.33,782.78 163.53,782.20 163.73,781.62 163.93,781.06 164.13,780.51 164.33,779.96 164.53,779.43 164.73,778.91 164.93,778.40 165.13,777.90 165.33,777.41 165.53,776.93 165.73,776.45 165.93,775.99 166.13,775.54 166.33,775.09 166.53,774.65 166.73,774.23 166.93,773.81 167.13,773.40 167.33,772.99 167.53,772.60 167.73,772.21 167.93,771.83 168.13,771.45 168.33,771.09 168.53,770.73 168.73,770.38 168.93,770.03 169.13,769.69 169.33,769.36 169.53,769.04 169.73,768.72 169.93,768.40 170.13,768.10 170.33,767.80 170.53,767.50 170.73,767.21 170.93,766.93 171.13,766.65 171.33,766.38 171.53,766.11 171.73,765.85 171.93,765.59 172.13,765.34 172.33,765.09 172.53,764.85 172.73,764.61 172.93,764.38 173.13,764.15 173.33,763.92 173.53,763.70 173.73,763.49 173.93,763.28 174.13,763.07 174.33,762.87 174.53,762.67 174.73,762.47 174.93,762.28 175.73,761.55 176.53,760.87 177.34,760.25 178.14,759.67 178.94,759.14 179.74,758.65 180.54,758.19 181.34,757.77 182.14,757.38 182.94,757.02 183.74,756.68 184.54,756.38 185.34,756.09 186.14,755.83 186.94,755.58 187.74,755.36 188.54,755.15 189.34,754.96 190.14,754.78 190.94,754.62 191.74,754.46 192.54,754.32 193.34,754.19 194.14,754.07 194.94,753.96 195.74,753.86 196.54,753.76 197.34,753.68 198.14,753.60 198.94,753.52 199.74,753.45 200.54,753.39 201.34,753.33 202.14,753.27 202.94,753.22 203.74,753.17 204.54,753.13 205.34,753.09 206.14,753.05 206.94,753.02 207.74,752.99 208.54,752.96 209.34,752.93 210.14,752.91 210.94,752.88 211.74,752.86 212.54,752.84 213.34,752.82 214.14,752.81 214.94,752.79" fill="none" stroke="#000" stroke-width="0.8" stroke-opacity="0.85" stroke-linejoin="round"/>
<polyline points="138.03,755.09 138.23,757.02 138.43,759.57 138.63,762.76 138.83,766.64 139.03,770.88 139.23,775.38 139.43,780.09 139.63,784.98 139.83,790.04 140.03,795.25 140.23,800.59 140.43,806.06 140.63,811.65 140.83,817.34 141.03,823.15 141.23,829.05 141.43,835.04 141.63,841.13 141.83,847.30 142.03,853.55 142.23,859.89 142.43,866.30 142.63,872.78 142.83,879.33 143.03,885.96 143.23,892.65 143.43,899.40 143.63,906.22 143.83,913.10 144.03,919.79 144.23,924.92 144.43,928.47 144.63,930.46 144.83,930.90 145.03,929.78 145.23,927.12 145.43,923.15 145.63,919.27 145.83,915.49 146.03,911.78 146.23,908.17 146.43,904.63 146.63,901.18 146.83,897.80 147.03,894.50 147.23,891.27 147.43,888.12 147.63,885.04 147.83,882.03 148.03,879.09 148.23,876.22 148.43,873.41 148.63,870.66 148.83,867.98 149.03,865.36 149.23,862.79 149.43,860.29 149.63,857.84 149.83,855.45 150.03,853.11 150.23,850.83 150.43,848.60 150.63,846.41 150.83,844.28 151.03,842.20 151.23,840.16 151.43,838.17 151.63,836.23 151.83,834.33 152.03,832.47 152.23,830.66 152.43,828.88 152.63,827.15 152.83,825.45 153.03,823.80 153.23,822.18 153.43,820.60 153.63,819.05 153.83,817.54 154.03,816.07 154.23,814.62 154.43,813.21 154.63,811.84 154.83,810.49 155.03,809.18 155.23,807.89 155.43,806.63 155.63,805.41 155.83,804.21 156.03,803.03 156.23,801.89 156.43,800.77 156.63,799.67 156.83,798.60 157.03,797.56 157.23,796.53 157.43,795.54 157.63,794.56 157.83,793.61 158.03,792.67 158.23,791.76 158.43,790.87 158.63,790.00 158.83,789.15 159.03,788.32 159.23,787.51 159.43,786.72 159.63,785.94 159.83,785.18 160.03,784.44 160.23,783.72 160.43,783.01 160.63,782.32 160.83,781.65 161.03,780.99 161.23,780.34 161.43,779.71 161.63,779.09 161.83,778.49 162.03,777.90 162.23,777.33 162.43,776.77 162.63,776.22 162.83,775.68 163.03,775.16 163.23,774.64 163.43,774.14 163.63,773.65 163.83,773.18 164.03,772.71 164.23,772.25 164.43,771.80 164.63,771.37 164.83,770.94 165.03,770.52 165.23,770.12 165.43,769.72 165.63,769.33 165.83,768.95 166.03,768.58 166.23,768.21 166.43,767.86 166.63,767.51 166.83,767.17 167.03,766.84 167.23,766.52 167.43,766.20 167.63,765.89 167.83,765.59 168.03,765.30 168.23,765.01 168.43,764.73 168.63,764.45 168.83,764.18 169.03,763.92 169.23,763.66 169.43,763.41 169.63,763.16 169.83,762.92 170.03,762.69 170.23,762.46 170.43,762.24 170.63,762.02 170.83,761.80 171.03,761.59 171.23,761.39 171.43,761.19 171.63,760.99 171.83,760.80 172.03,760.62 172.23,760.43 172.43,760.26 172.63,760.08 172.83,759.91 173.03,759.75 173.23,759.58 173.43,759.43 173.63,759.27 173.83,759.12 174.03,758.97 174.23,758.83 174.43,758.68 174.83,758.41 175.63,757.90 176.43,757.43 177.23,757.01 178.03,756.62 178.83,756.27 179.63,755.95 180.43,755.65 181.23,755.38 182.03,755.14 182.83,754.92 183.63,754.71 184.43,754.53 185.23,754.36 186.03,754.20 186.83,754.06 187.63,753.93 188.43,753.82 189.23,753.71 190.03,753.61 190.83,753.52 191.63,753.44 192.43,753.37 193.23,753.30 194.03,753.24 194.83,753.18 195.63,753.13 196.43,753.09 197.23,753.04 198.03,753.00 198.83,752.97 199.63,752.94 200.43,752.91 201.23,752.88 202.03,752.85 202.83,752.83 203.63,752.81 204.43,752.79 205.23,752.78 206.03,752.76 206.83,752.75 207.63,752.73 208.43,752.72 209.23,752.71 210.03,752.70 210.83,752.69 211.63,752.68 212.43,752.68 213.23,752.67 214.03,752.66 214.83,752.66" fill="none" stroke="#000" stroke-width="0.8" stroke-opacity="0.85" stroke-linejoin="round"/>
<line x1="196.00" y1="751.35" x2="252.50" y2="751.35" stroke="#e33" stroke-width="0.6"/>
<line x1="315.00" y1="753.80" x2="431.00" y2="753.80" stroke="#000" stroke-width="2.0"/>
<path d="M314.6,748 L315.6,748 L316.4,757 L315,757 Z" fill="#000" stroke="#000" stroke-width="0.5"/>
<polyline points="315.50,755.19 315.70,755.58 315.90,756.03 316.10,756.54 316.30,757.11 316.50,757.74 316.70,758.42 316.90,759.17 317.10,759.98 317.30,760.86 317.50,761.78 317.70,762.72 317.90,763.69 318.10,764.69 318.30,765.71 318.50,766.75 318.70,767.81 318.90,768.89 319.10,769.98 319.30,771.03 319.50,772.00 319.70,772.89 319.90,773.71 320.10,774.45 320.30,775.12 320.50,775.71 320.70,776.21 320.90,776.64 321.10,776.99 321.30,777.25 321.50,777.43 321.70,777.53 321.90,777.55 322.10,777.48 322.30,777.33 322.50,777.09 322.70,776.83 322.90,776.58 323.10,776.33 323.30,776.08 323.50,775.83 323.70,775.59 323.90,775.35 324.10,775.11 324.30,774.87 324.50,774.64 324.70,774.41 324.90,774.18 325.10,773.96 325.30,773.74 325.50,773.52 325.70,773.30 325.90,773.08 326.10,772.87 326.30,772.66 326.50,772.45 326.70,772.24 326.90,772.04 327.10,771.84 327.30,771.64 327.50,771.44 327.70,771.25 327.90,771.05 328.10,770.86 328.30,770.68 328.50,770.49 328.70,770.30 328.90,770.12 329.10,769.94 329.30,769.76 329.50,769.59 329.70,769.41 329.90,769.24 330.10,769.07 330.30,768.90 330.50,768.73 330.70,768.57 330.90,768.41 331.10,768.24 331.30,768.08 331.50,767.93 331.70,767.77 331.90,767.62 332.10,767.46 332.30,767.31 332.50,767.16 332.70,767.02 332.90,766.87 333.10,766.73 333.30,766.58 333.50,766.44 333.70,766.30 333.90,766.16 334.10,766.03 334.30,765.89 334.50,765.76 334.70,765.63 334.90,765.50 335.10,765.37 335.30,765.24 335.50,765.11 335.70,764.99 335.90,764.86 336.10,764.74 336.30,764.62 336.50,764.50 336.70,764.38 336.90,764.27 337.10,764.15 337.30,764.04 337.50,763.92 337.70,763.81 337.90,763.70 338.10,763.59 338.30,763.48 338.50,763.38 338.70,763.27 338.90,763.16 339.10,763.06 339.30,762.96 339.50,762.86 339.70,762.76 339.90,762.66 340.10,762.56 340.30,762.46 340.50,762.37 340.70,762.27 340.90,762.18 341.10,762.09 341.30,762.00 341.50,761.91 341.70,761.82 341.90,761.73 342.10,761.64 342.30,761.55 342.50,761.47 342.70,761.38 342.90,761.30 343.10,761.22 343.30,761.13 343.50,761.05 343.70,760.97 343.90,760.89 344.10,760.82 344.30,760.74 344.50,760.66 344.70,760.59 344.90,760.51 345.10,760.44 345.30,760.36 345.50,760.29 345.70,760.22 345.90,760.15 346.10,760.08 346.30,760.01 346.50,759.94 346.70,759.87 346.90,759.80 347.10,759.74 347.30,759.67 347.50,759.61 347.70,759.54 347.90,759.48 348.10,759.42 348.30,759.36 348.50,759.29 348.70,759.23 348.90,759.17 349.10,759.11 349.30,759.05 349.50,759.00 349.70,758.94 349.90,758.88 350.10,758.83 350.30,758.77 350.50,758.72 350.70,758.66 351.50,758.45 352.30,758.25 353.10,758.05 353.90,757.87 354.70,757.69 355.50,757.52 356.30,757.36 357.10,757.21 357.90,757.06 358.70,756.92 359.50,756.78 360.30,756.65 361.10,756.53 361.90,756.41 362.70,756.30 363.50,756.19 364.30,756.08 365.10,755.98 365.90,755.89 366.70,755.80 367.50,755.71 368.30,755.63 369.10,755.55 369.90,755.47 370.70,755.40 371.50,755.33 372.30,755.26 373.10,755.20 373.90,755.14 374.70,755.08 375.50,755.03 376.30,754.97 377.10,754.92 377.90,754.87 378.70,754.83 379.50,754.78 380.30,754.74 381.10,754.70 381.90,754.66 382.70,754.62 383.50,754.59 384.30,754.55 385.10,754.52 385.90,754.49 386.70,754.46 387.50,754.43 388.30,754.40 389.10,754.38 389.90,754.35 390.70,754.33 391.50,754.30 392.30,754.28 393.10,754.26 393.90,754.24 394.70,754.22 395.50,754.20 396.30,754.19 397.10,754.17 397.90,754.15 398.70,754.14 399.50,754.12 400.30,754.11 401.10,754.10 401.90,754.08 402.70,754.07 403.50,754.06 404.30,754.05 405.10,754.04 405.90,754.03 406.70,754.02 407.50,754.01 408.30,754.00 409.10,753.99 409.90,753.98 410.70,753.97 411.50,753.97 412.30,753.96 413.10,753.95 413.90,753.95 414.70,753.94 415.50,753.93 416.30,753.93 417.10,753.92 417.90,753.92 418.70,753.91 419.50,753.91 419.90,753.90" fill="none" stroke="#f00" stroke-width="1.0" stroke-opacity="1.0" stroke-linejoin="round"/>
<polyline points="315.50,756.87 315.70,759.24 315.90,762.37 316.10,766.30 316.30,771.07 316.50,776.28 316.70,781.81 316.90,787.61 317.10,793.63 317.30,799.85 317.50,806.25 317.70,812.83 317.90,819.55 318.10,826.43 318.30,833.43 318.50,839.88 318.70,845.05 318.90,848.93 319.10,851.52 319.30,852.80 319.50,852.77 319.70,851.41 319.90,849.42 320.10,847.48 320.30,845.59 320.50,843.76 320.70,841.97 320.90,840.23 321.10,838.54 321.30,836.89 321.50,835.29 321.70,833.73 321.90,832.21 322.10,830.73 322.30,829.29 322.50,827.89 322.70,826.52 322.90,825.19 323.10,823.89 323.30,822.63 323.50,821.40 323.70,820.20 323.90,819.03 324.10,817.88 324.30,816.77 324.50,815.68 324.70,814.63 324.90,813.59 325.10,812.58 325.30,811.60 325.50,810.64 325.70,809.70 325.90,808.79 326.10,807.90 326.30,807.03 326.50,806.17 326.70,805.34 326.90,804.53 327.10,803.74 327.30,802.96 327.50,802.20 327.70,801.46 327.90,800.74 328.10,800.03 328.30,799.34 328.50,798.66 328.70,798.00 328.90,797.35 329.10,796.72 329.30,796.10 329.50,795.49 329.70,794.90 329.90,794.32 330.10,793.75 330.30,793.19 330.50,792.64 330.70,792.11 330.90,791.58 331.10,791.07 331.30,790.57 331.50,790.07 331.70,789.59 331.90,789.11 332.10,788.65 332.30,788.19 332.50,787.75 332.70,787.31 332.90,786.88 333.10,786.45 333.30,786.04 333.50,785.63 333.70,785.23 333.90,784.84 334.10,784.46 334.30,784.08 334.50,783.71 334.70,783.34 334.90,782.98 335.10,782.63 335.30,782.29 335.50,781.95 335.70,781.61 335.90,781.28 336.10,780.96 336.30,780.64 336.50,780.33 336.70,780.02 336.90,779.72 337.10,779.42 337.30,779.13 337.50,778.84 337.70,778.55 337.90,778.28 338.10,778.00 338.30,777.73 338.50,777.46 338.70,777.20 338.90,776.94 339.10,776.69 339.30,776.44 339.50,776.19 339.70,775.95 339.90,775.71 340.10,775.47 340.30,775.24 340.50,775.01 340.70,774.78 340.90,774.56 341.10,774.34 341.30,774.12 341.50,773.90 341.70,773.69 341.90,773.48 342.10,773.28 342.30,773.08 342.50,772.88 342.70,772.68 342.90,772.48 343.10,772.29 343.30,772.10 343.50,771.91 343.70,771.73 343.90,771.55 344.10,771.37 344.30,771.19 344.50,771.01 344.70,770.84 344.90,770.67 345.10,770.50 345.30,770.33 345.50,770.17 345.70,770.00 345.90,769.84 346.10,769.68 346.30,769.53 346.50,769.37 346.70,769.22 346.90,769.06 347.10,768.91 347.30,768.77 347.50,768.62 347.70,768.47 347.90,768.33 348.10,768.19 348.30,768.05 348.50,767.91 348.70,767.77 348.90,767.64 349.10,767.51 349.90,766.98 350.70,766.49 351.50,766.01 352.30,765.55 353.10,765.12 353.90,764.70 354.70,764.29 355.50,763.91 356.30,763.53 357.10,763.18 357.90,762.83 358.70,762.50 359.50,762.19 360.30,761.88 361.10,761.59 361.90,761.31 362.70,761.03 363.50,760.77 364.30,760.52 365.10,760.28 365.90,760.04 366.70,759.82 367.50,759.60 368.30,759.39 369.10,759.19 369.90,759.00 370.70,758.81 371.50,758.63 372.30,758.46 373.10,758.29 373.90,758.13 374.70,757.98 375.50,757.83 376.30,757.68 377.10,757.54 377.90,757.41 378.70,757.28 379.50,757.16 380.30,757.04 381.10,756.92 381.90,756.81 382.70,756.70 383.50,756.60 384.30,756.50 385.10,756.40 385.90,756.31 386.70,756.22 387.50,756.13 388.30,756.05 389.10,755.97 389.90,755.89 390.70,755.82 391.50,755.74 392.30,755.67 393.10,755.61 393.90,755.54 394.70,755.48 395.50,755.42 396.30,755.36 397.10,755.31 397.90,755.25 398.70,755.20 399.50,755.15 400.30,755.10 401.10,755.06 401.90,755.01 402.70,754.97 403.50,754.93 404.30,754.89 405.10,754.85 405.90,754.81 406.70,754.77 407.50,754.74 408.30,754.71 409.10,754.67 409.90,754.64 410.70,754.61 411.50,754.58 412.30,754.56 413.10,754.53 413.90,754.50 414.70,754.48 415.50,754.45 416.30,754.43 417.10,754.41 417.90,754.39 418.70,754.36 419.50,754.34 420.30,754.33 421.10,754.31 421.90,754.29 422.70,754.27 423.50,754.25 424.30,754.24 424.90,754.23" fill="none" stroke="#000" stroke-width="0.8" stroke-opacity="0.9" stroke-linejoin="round"/>
<polyline points="315.50,757.33 315.70,760.05 315.90,763.65 316.10,768.17 316.30,773.65 316.50,779.65 316.70,786.01 316.90,792.67 317.10,799.59 317.30,806.75 317.50,814.11 317.70,821.67 317.90,829.40 318.10,837.31 318.30,845.36 318.50,853.57 318.70,861.92 318.90,870.39 319.10,879.00 319.30,887.73 319.50,896.57 319.70,905.53 319.90,914.59 320.10,921.64 320.30,926.68 320.50,929.73 320.70,930.80 320.90,929.89 321.10,927.02 321.30,922.19 321.50,917.53 321.70,913.04 321.90,908.71 322.10,904.53 322.30,900.50 322.50,896.61 322.70,892.86 322.90,889.24 323.10,885.74 323.30,882.37 323.50,879.11 323.70,875.97 323.90,872.93 324.10,870.00 324.30,867.16 324.50,864.43 324.70,861.78 324.90,859.23 325.10,856.76 325.30,854.37 325.50,852.06 325.70,849.83 325.90,847.67 326.10,845.59 326.30,843.57 326.50,841.61 326.70,839.72 326.90,837.89 327.10,836.12 327.30,834.40 327.50,832.74 327.70,831.13 327.90,829.58 328.10,828.06 328.30,826.60 328.50,825.18 328.70,823.81 328.90,822.47 329.10,821.18 329.30,819.92 329.50,818.70 329.70,817.52 329.90,816.37 330.10,815.26 330.30,814.18 330.50,813.13 330.70,812.10 330.90,811.11 331.10,810.15 331.30,809.21 331.50,808.29 331.70,807.41 331.90,806.54 332.10,805.70 332.30,804.88 332.50,804.09 332.70,803.31 332.90,802.56 333.10,801.82 333.30,801.10 333.50,800.40 333.70,799.72 333.90,799.05 334.10,798.40 334.30,797.77 334.50,797.15 334.70,796.55 334.90,795.96 335.10,795.38 335.30,794.82 335.50,794.27 335.70,793.73 335.90,793.21 336.10,792.70 336.30,792.19 336.50,791.70 336.70,791.22 336.90,790.75 337.10,790.29 337.30,789.84 337.50,789.39 337.70,788.96 337.90,788.54 338.10,788.12 338.30,787.71 338.50,787.31 338.70,786.92 338.90,786.53 339.10,786.16 339.30,785.78 339.50,785.42 339.70,785.06 339.90,784.71 340.10,784.37 340.30,784.03 340.50,783.69 340.70,783.37 340.90,783.04 341.10,782.73 341.30,782.42 341.50,782.11 341.70,781.81 341.90,781.51 342.10,781.22 342.30,780.93 342.50,780.65 342.70,780.37 342.90,780.10 343.10,779.83 343.30,779.56 343.50,779.30 343.70,779.04 343.90,778.78 344.10,778.53 344.30,778.29 344.50,778.04 344.70,777.80 344.90,777.56 345.10,777.33 345.30,777.10 345.50,776.87 345.70,776.64 345.90,776.42 346.10,776.20 346.30,775.99 346.50,775.77 346.70,775.56 346.90,775.35 347.10,775.15 347.30,774.95 347.50,774.74 347.70,774.55 347.90,774.35 348.10,774.16 348.30,773.97 348.50,773.78 348.70,773.59 348.90,773.40 349.10,773.22 349.30,773.04 349.50,772.86 349.70,772.69 349.90,772.51 350.10,772.34 350.30,772.17 350.50,772.00 350.70,771.83 351.50,771.18 352.30,770.56 353.10,769.96 353.90,769.39 354.70,768.84 355.50,768.31 356.30,767.80 357.10,767.31 357.90,766.84 358.70,766.39 359.50,765.95 360.30,765.53 361.10,765.12 361.90,764.73 362.70,764.36 363.50,763.99 364.30,763.64 365.10,763.30 365.90,762.98 366.70,762.66 367.50,762.36 368.30,762.06 369.10,761.78 369.90,761.51 370.70,761.24 371.50,760.99 372.30,760.74 373.10,760.50 373.90,760.27 374.70,760.05 375.50,759.84 376.30,759.63 377.10,759.43 377.90,759.24 378.70,759.05 379.50,758.87 380.30,758.70 381.10,758.53 381.90,758.37 382.70,758.21 383.50,758.06 384.30,757.92 385.10,757.78 385.90,757.64 386.70,757.51 387.50,757.38 388.30,757.26 389.10,757.14 389.90,757.03 390.70,756.92 391.50,756.81 392.30,756.71 393.10,756.61 393.90,756.51 394.70,756.42 395.50,756.33 396.30,756.24 397.10,756.16 397.90,756.08 398.70,756.00 399.50,755.93 400.30,755.85 401.10,755.78 401.90,755.72 402.70,755.65 403.50,755.59 404.30,755.53 405.10,755.47 405.90,755.41 406.70,755.35 407.50,755.30 408.30,755.25 409.10,755.20 409.90,755.15 410.70,755.11 411.50,755.06 412.30,755.02 413.10,754.98 413.90,754.94 414.70,754.90 415.50,754.86 416.30,754.82 417.10,754.79 417.90,754.76 418.70,754.72 419.50,754.69 420.30,754.66 421.10,754.63 421.90,754.60 422.70,754.58 423.50,754.55 424.30,754.52 425.10,754.50 425.90,754.47 426.70,754.45 427.50,754.43 428.30,754.41 429.10,754.39 429.90,754.37" fill="none" stroke="#000" stroke-width="0.8" stroke-opacity="0.85" stroke-linejoin="round"/>
<polyline points="315.50,757.13 315.70,759.70 315.90,763.10 316.10,767.37 316.30,772.55 316.50,778.22 316.70,784.22 316.90,790.51 317.10,797.05 317.30,803.81 317.50,810.76 317.70,817.90 317.90,825.21 318.10,832.67 318.30,840.28 318.50,848.03 318.70,855.91 318.90,863.92 319.10,872.05 319.30,880.29 319.50,888.65 319.70,897.11 319.90,905.67 320.10,914.33 320.30,921.06 320.50,925.88 320.70,928.79 320.90,929.80 321.10,928.93 321.30,926.17 321.50,921.55 321.70,917.09 321.90,912.78 322.10,908.61 322.30,904.60 322.50,900.71 322.70,896.96 322.90,893.34 323.10,889.84 323.30,886.46 323.50,883.19 323.70,880.03 323.90,876.98 324.10,874.02 324.30,871.17 324.50,868.41 324.70,865.74 324.90,863.15 325.10,860.66 325.30,858.24 325.50,855.90 325.70,853.63 325.90,851.44 326.10,849.32 326.30,847.27 326.50,845.28 326.70,843.35 326.90,841.48 327.10,839.67 327.30,837.92 327.50,836.22 327.70,834.57 327.90,832.98 328.10,831.43 328.30,829.92 328.50,828.47 328.70,827.05 328.90,825.68 329.10,824.35 329.30,823.06 329.50,821.80 329.70,820.58 329.90,819.39 330.10,818.24 330.30,817.12 330.50,816.04 330.70,814.98 330.90,813.95 331.10,812.95 331.30,811.98 331.50,811.03 331.70,810.11 331.90,809.21 332.10,808.34 332.30,807.49 332.50,806.66 332.70,805.85 332.90,805.07 333.10,804.30 333.30,803.55 333.50,802.82 333.70,802.11 333.90,801.42 334.10,800.74 334.30,800.08 334.50,799.43 334.70,798.80 334.90,798.19 335.10,797.59 335.30,797.00 335.50,796.42 335.70,795.86 335.90,795.31 336.10,794.77 336.30,794.25 336.50,793.73 336.70,793.23 336.90,792.74 337.10,792.25 337.30,791.78 337.50,791.32 337.70,790.86 337.90,790.42 338.10,789.98 338.30,789.55 338.50,789.13 338.70,788.72 338.90,788.32 339.10,787.92 339.30,787.53 339.50,787.15 339.70,786.78 339.90,786.41 340.10,786.05 340.30,785.69 340.50,785.34 340.70,785.00 340.90,784.66 341.10,784.33 341.30,784.00 341.50,783.68 341.70,783.37 341.90,783.06 342.10,782.75 342.30,782.45 342.50,782.15 342.70,781.86 342.90,781.57 343.10,781.29 343.30,781.01 343.50,780.74 343.70,780.47 343.90,780.20 344.10,779.94 344.30,779.68 344.50,779.42 344.70,779.17 344.90,778.92 345.10,778.68 345.30,778.43 345.50,778.19 345.70,777.96 345.90,777.73 346.10,777.50 346.30,777.27 346.50,777.05 346.70,776.83 346.90,776.61 347.10,776.39 347.30,776.18 347.50,775.97 347.70,775.76 347.90,775.56 348.10,775.36 348.30,775.16 348.50,774.96 348.70,774.76 348.90,774.57 349.10,774.38 349.30,774.19 349.50,774.00 349.70,773.82 349.90,773.64 350.10,773.46 350.30,773.28 350.50,773.10 350.70,772.93 351.50,772.25 352.30,771.60 353.10,770.97 353.90,770.37 354.70,769.80 355.50,769.24 356.30,768.71 357.10,768.20 357.90,767.71 358.70,767.23 359.50,766.77 360.30,766.33 361.10,765.91 361.90,765.50 362.70,765.10 363.50,764.72 364.30,764.35 365.10,763.99 365.90,763.65 366.70,763.32 367.50,763.00 368.30,762.69 369.10,762.39 369.90,762.10 370.70,761.82 371.50,761.55 372.30,761.29 373.10,761.04 373.90,760.80 374.70,760.56 375.50,760.34 376.30,760.12 377.10,759.91 377.90,759.70 378.70,759.50 379.50,759.31 380.30,759.13 381.10,758.95 381.90,758.78 382.70,758.61 383.50,758.45 384.30,758.29 385.10,758.14 385.90,758.00 386.70,757.86 387.50,757.72 388.30,757.59 389.10,757.46 389.90,757.34 390.70,757.22 391.50,757.11 392.30,757.00 393.10,756.89 393.90,756.79 394.70,756.69 395.50,756.59 396.30,756.50 397.10,756.41 397.90,756.32 398.70,756.23 399.50,756.15 400.30,756.07 401.10,756.00 401.90,755.92 402.70,755.85 403.50,755.79 404.30,755.72 405.10,755.65 405.90,755.59 406.70,755.53 407.50,755.47 408.30,755.42 409.10,755.36 409.90,755.31 410.70,755.26 411.50,755.21 412.30,755.17 413.10,755.12 413.90,755.08 414.70,755.03 415.50,754.99 416.30,754.95 417.10,754.91 417.90,754.88 418.70,754.84 419.50,754.80 420.30,754.77 421.10,754.74 421.90,754.71 422.70,754.68 423.50,754.65 424.30,754.62 425.10,754.59 425.90,754.57 426.70,754.54 427.50,754.51 428.30,754.49 429.10,754.47 429.90,754.45" fill="none" stroke="#000" stroke-width="0.8" stroke-opacity="0.85" stroke-linejoin="round"/>
<polyline points="315.50,757.47 315.70,760.30 315.90,764.04 316.10,768.74 316.30,774.44 316.50,780.68 316.70,787.29 316.90,794.21 317.10,801.41 317.30,808.85 317.50,816.50 317.70,824.36 317.90,832.40 318.10,840.61 318.30,848.99 318.50,857.52 318.70,866.20 318.90,875.01 319.10,883.96 319.30,893.03 319.50,902.23 319.70,911.54 319.90,919.32 320.10,925.03 320.30,928.69 320.50,930.30 320.70,929.88 320.90,927.42 321.10,922.96 321.30,918.12 321.50,913.46 321.70,908.98 321.90,904.65 322.10,900.48 322.30,896.46 322.50,892.59 322.70,888.85 322.90,885.25 323.10,881.78 323.30,878.42 323.50,875.19 323.70,872.07 323.90,869.06 324.10,866.16 324.30,863.36 324.50,860.65 324.70,858.04 324.90,855.51 325.10,853.08 325.30,850.72 325.50,848.45 325.70,846.25 325.90,844.13 326.10,842.08 326.30,840.09 326.50,838.17 326.70,836.32 326.90,834.53 327.10,832.79 327.30,831.11 327.50,829.48 327.70,827.91 327.90,826.39 328.10,824.91 328.30,823.48 328.50,822.10 328.70,820.76 328.90,819.46 329.10,818.20 329.30,816.97 329.50,815.79 329.70,814.64 329.90,813.52 330.10,812.44 330.30,811.39 330.50,810.37 330.70,809.38 330.90,808.42 331.10,807.48 331.30,806.57 331.50,805.69 331.70,804.83 331.90,804.00 332.10,803.19 332.30,802.39 332.50,801.63 332.70,800.88 332.90,800.15 333.10,799.44 333.30,798.74 333.50,798.07 333.70,797.41 333.90,796.77 334.10,796.15 334.30,795.54 334.50,794.94 334.70,794.36 334.90,793.79 335.10,793.24 335.30,792.70 335.50,792.17 335.70,791.66 335.90,791.15 336.10,790.66 336.30,790.18 336.50,789.70 336.70,789.24 336.90,788.79 337.10,788.35 337.30,787.91 337.50,787.49 337.70,787.07 337.90,786.67 338.10,786.27 338.30,785.88 338.50,785.49 338.70,785.12 338.90,784.75 339.10,784.39 339.30,784.03 339.50,783.68 339.70,783.34 339.90,783.00 340.10,782.67 340.30,782.35 340.50,782.03 340.70,781.72 340.90,781.41 341.10,781.10 341.30,780.81 341.50,780.51 341.70,780.22 341.90,779.94 342.10,779.66 342.30,779.39 342.50,779.12 342.70,778.85 342.90,778.59 343.10,778.33 343.30,778.08 343.50,777.82 343.70,777.58 343.90,777.33 344.10,777.09 344.30,776.86 344.50,776.62 344.70,776.39 344.90,776.17 345.10,775.94 345.30,775.72 345.50,775.50 345.70,775.29 345.90,775.08 346.10,774.87 346.30,774.66 346.50,774.46 346.70,774.25 346.90,774.06 347.10,773.86 347.30,773.67 347.50,773.47 347.70,773.28 347.90,773.10 348.10,772.91 348.30,772.73 348.50,772.55 348.70,772.37 348.90,772.19 349.10,772.02 349.30,771.85 349.50,771.68 349.70,771.51 349.90,771.34 350.10,771.18 350.30,771.02 350.70,770.70 351.50,770.08 352.30,769.48 353.10,768.91 353.90,768.37 354.70,767.84 355.50,767.34 356.30,766.86 357.10,766.39 357.90,765.94 358.70,765.51 359.50,765.10 360.30,764.70 361.10,764.31 361.90,763.94 362.70,763.58 363.50,763.24 364.30,762.91 365.10,762.59 365.90,762.28 366.70,761.98 367.50,761.69 368.30,761.42 369.10,761.15 369.90,760.89 370.70,760.65 371.50,760.41 372.30,760.17 373.10,759.95 373.90,759.74 374.70,759.53 375.50,759.33 376.30,759.14 377.10,758.95 377.90,758.77 378.70,758.59 379.50,758.43 380.30,758.27 381.10,758.11 381.90,757.96 382.70,757.81 383.50,757.67 384.30,757.54 385.10,757.41 385.90,757.28 386.70,757.16 387.50,757.04 388.30,756.93 389.10,756.82 389.90,756.71 390.70,756.61 391.50,756.51 392.30,756.42 393.10,756.33 393.90,756.24 394.70,756.15 395.50,756.07 396.30,755.99 397.10,755.92 397.90,755.84 398.70,755.77 399.50,755.70 400.30,755.64 401.10,755.57 401.90,755.51 402.70,755.45 403.50,755.39 404.30,755.34 405.10,755.28 405.90,755.23 406.70,755.18 407.50,755.13 408.30,755.09 409.10,755.04 409.90,755.00 410.70,754.96 411.50,754.92 412.30,754.88 413.10,754.84 413.90,754.80 414.70,754.77 415.50,754.73 416.30,754.70 417.10,754.67 417.90,754.64 418.70,754.61 419.50,754.58 420.30,754.55 421.10,754.53 421.90,754.50 422.70,754.48 423.50,754.45 424.30,754.43 425.10,754.41 425.90,754.39 426.70,754.37 427.50,754.35 428.30,754.33 429.10,754.31 429.90,754.29" fill="none" stroke="#000" stroke-width="0.8" stroke-opacity="0.85" stroke-linejoin="round"/>
<polyline points="315.50,756.99 315.70,759.44 315.90,762.70 316.10,766.78 316.30,771.73 316.50,777.14 316.70,782.89 316.90,788.90 317.10,795.15 317.30,801.61 317.50,808.26 317.70,815.09 317.90,822.07 318.10,829.21 318.30,836.48 318.50,843.89 318.70,851.43 318.90,859.08 319.10,866.86 319.30,874.74 319.50,882.72 319.70,890.81 319.90,899.00 320.10,907.27 320.30,915.16 320.50,921.19 320.70,925.39 320.90,927.76 321.10,928.30 321.30,927.03 321.50,923.96 321.70,919.57 321.90,915.33 322.10,911.24 322.30,907.27 322.50,903.44 322.70,899.74 322.90,896.16 323.10,892.69 323.30,889.34 323.50,886.10 323.70,882.96 323.90,879.93 324.10,876.99 324.30,874.15 324.50,871.40 324.70,868.73 324.90,866.15 325.10,863.66 325.30,861.24 325.50,858.89 325.70,856.62 325.90,854.42 326.10,852.29 326.30,850.23 326.50,848.23 326.70,846.28 326.90,844.40 327.10,842.58 327.30,840.81 327.50,839.09 327.70,837.42 327.90,835.81 328.10,834.24 328.30,832.71 328.50,831.23 328.70,829.80 328.90,828.40 329.10,827.05 329.30,825.73 329.50,824.45 329.70,823.21 329.90,822.00 330.10,820.82 330.30,819.68 330.50,818.57 330.70,817.49 330.90,816.44 331.10,815.41 331.30,814.41 331.50,813.44 331.70,812.50 331.90,811.58 332.10,810.68 332.30,809.80 332.50,808.95 332.70,808.12 332.90,807.31 333.10,806.52 333.30,805.75 333.50,805.00 333.70,804.26 333.90,803.55 334.10,802.85 334.30,802.17 334.50,801.50 334.70,800.85 334.90,800.21 335.10,799.59 335.30,798.98 335.50,798.38 335.70,797.80 335.90,797.23 336.10,796.68 336.30,796.13 336.50,795.60 336.70,795.08 336.90,794.56 337.10,794.06 337.30,793.57 337.50,793.09 337.70,792.62 337.90,792.16 338.10,791.71 338.30,791.26 338.50,790.83 338.70,790.40 338.90,789.98 339.10,789.57 339.30,789.16 339.50,788.77 339.70,788.38 339.90,787.99 340.10,787.62 340.30,787.25 340.50,786.88 340.70,786.53 340.90,786.18 341.10,785.83 341.30,785.49 341.50,785.16 341.70,784.83 341.90,784.51 342.10,784.19 342.30,783.87 342.50,783.57 342.70,783.26 342.90,782.96 343.10,782.67 343.30,782.38 343.50,782.09 343.70,781.81 343.90,781.53 344.10,781.26 344.30,780.99 344.50,780.72 344.70,780.46 344.90,780.20 345.10,779.95 345.30,779.70 345.50,779.45 345.70,779.20 345.90,778.96 346.10,778.72 346.30,778.49 346.50,778.26 346.70,778.03 346.90,777.80 347.10,777.58 347.30,777.35 347.50,777.14 347.70,776.92 347.90,776.71 348.10,776.50 348.30,776.29 348.50,776.08 348.70,775.88 348.90,775.68 349.10,775.48 349.30,775.28 349.50,775.09 349.70,774.90 349.90,774.71 350.10,774.52 350.30,774.34 350.50,774.15 350.70,773.97 351.50,773.27 352.30,772.59 353.10,771.94 353.90,771.32 354.70,770.72 355.50,770.14 356.30,769.59 357.10,769.05 357.90,768.54 358.70,768.05 359.50,767.57 360.30,767.11 361.10,766.67 361.90,766.24 362.70,765.82 363.50,765.43 364.30,765.04 365.10,764.67 365.90,764.31 366.70,763.96 367.50,763.63 368.30,763.30 369.10,762.99 369.90,762.69 370.70,762.39 371.50,762.11 372.30,761.84 373.10,761.57 373.90,761.32 374.70,761.07 375.50,760.83 376.30,760.60 377.10,760.38 377.90,760.16 378.70,759.95 379.50,759.75 380.30,759.56 381.10,759.37 381.90,759.18 382.70,759.01 383.50,758.84 384.30,758.67 385.10,758.51 385.90,758.36 386.70,758.21 387.50,758.06 388.30,757.92 389.10,757.79 389.90,757.66 390.70,757.53 391.50,757.41 392.30,757.29 393.10,757.18 393.90,757.07 394.70,756.96 395.50,756.85 396.30,756.75 397.10,756.66 397.90,756.56 398.70,756.47 399.50,756.39 400.30,756.30 401.10,756.22 401.90,756.14 402.70,756.06 403.50,755.99 404.30,755.92 405.10,755.85 405.90,755.78 406.70,755.72 407.50,755.65 408.30,755.59 409.10,755.53 409.90,755.48 410.70,755.42 411.50,755.37 412.30,755.32 413.10,755.27 413.90,755.22 414.70,755.17 415.50,755.13 416.30,755.08 417.10,755.04 417.90,755.00 418.70,754.96 419.50,754.92 420.30,754.89 421.10,754.85 421.90,754.82 422.70,754.78 423.50,754.75 424.30,754.72 425.10,754.69 425.90,754.66 426.70,754.63 427.50,754.61 428.30,754.58 429.10,754.55 429.90,754.53" fill="none" stroke="#000" stroke-width="0.8" stroke-opacity="0.85" stroke-linejoin="round"/>
<polyline points="315.50,757.26 315.70,759.93 315.90,763.45 316.10,767.89 316.30,773.26 316.50,779.13 316.70,785.37 316.90,791.90 317.10,798.68 317.30,805.69 317.50,812.91 317.70,820.31 317.90,827.89 318.10,835.64 318.30,843.53 318.50,851.57 318.70,859.75 318.90,868.06 319.10,876.50 319.30,885.05 319.50,893.72 319.70,902.49 319.90,911.38 320.10,919.28 320.30,925.15 320.50,928.98 320.70,930.80 320.90,930.62 321.10,928.44 321.30,924.30 321.50,919.26 321.70,914.41 321.90,909.74 322.10,905.25 322.30,900.92 322.50,896.76 322.70,892.74 322.90,888.87 323.10,885.15 323.30,881.56 323.50,878.10 323.70,874.77 323.90,871.55 324.10,868.46 324.30,865.47 324.50,862.59 324.70,859.81 324.90,857.13 325.10,854.55 325.30,852.05 325.50,849.64 325.70,847.32 325.90,845.08 326.10,842.91 326.30,840.82 326.50,838.80 326.70,836.85 326.90,834.96 327.10,833.14 327.30,831.38 327.50,829.68 327.70,828.03 327.90,826.44 328.10,824.90 328.30,823.41 328.50,821.96 328.70,820.57 328.90,819.22 329.10,817.91 329.30,816.64 329.50,815.41 329.70,814.22 329.90,813.07 330.10,811.95 330.30,810.86 330.50,809.81 330.70,808.79 330.90,807.80 331.10,806.84 331.30,805.90 331.50,805.00 331.70,804.12 331.90,803.26 332.10,802.43 332.30,801.62 332.50,800.84 332.70,800.07 332.90,799.33 333.10,798.60 333.30,797.90 333.50,797.21 333.70,796.55 333.90,795.90 334.10,795.26 334.30,794.64 334.50,794.04 334.70,793.45 334.90,792.88 335.10,792.32 335.30,791.78 335.50,791.24 335.70,790.72 335.90,790.21 336.10,789.72 336.30,789.23 336.50,788.76 336.70,788.30 336.90,787.84 337.10,787.40 337.30,786.96 337.50,786.54 337.70,786.12 337.90,785.72 338.10,785.32 338.30,784.93 338.50,784.54 338.70,784.17 338.90,783.80 339.10,783.44 339.30,783.09 339.50,782.74 339.70,782.40 339.90,782.06 340.10,781.74 340.30,781.41 340.50,781.10 340.70,780.79 340.90,780.48 341.10,780.18 341.30,779.89 341.50,779.59 341.70,779.31 341.90,779.03 342.10,778.75 342.30,778.48 342.50,778.21 342.70,777.95 342.90,777.69 343.10,777.44 343.30,777.19 343.50,776.94 343.70,776.69 343.90,776.45 344.10,776.22 344.30,775.98 344.50,775.76 344.70,775.53 344.90,775.31 345.10,775.09 345.30,774.87 345.50,774.65 345.70,774.44 345.90,774.23 346.10,774.03 346.30,773.83 346.50,773.62 346.70,773.43 346.90,773.23 347.10,773.04 347.30,772.85 347.50,772.66 347.70,772.48 347.90,772.29 348.10,772.11 348.30,771.93 348.50,771.76 348.70,771.58 348.90,771.41 349.10,771.24 349.30,771.07 349.50,770.90 349.70,770.74 349.90,770.58 350.10,770.42 350.30,770.26 350.50,770.10 350.70,769.94 351.50,769.34 352.30,768.76 353.10,768.21 353.90,767.67 354.70,767.16 355.50,766.67 356.30,766.20 357.10,765.75 357.90,765.32 358.70,764.90 359.50,764.50 360.30,764.11 361.10,763.74 361.90,763.38 362.70,763.04 363.50,762.70 364.30,762.38 365.10,762.08 365.90,761.78 366.70,761.49 367.50,761.22 368.30,760.95 369.10,760.70 369.90,760.45 370.70,760.21 371.50,759.98 372.30,759.76 373.10,759.55 373.90,759.34 374.70,759.14 375.50,758.95 376.30,758.77 377.10,758.59 377.90,758.42 378.70,758.25 379.50,758.10 380.30,757.94 381.10,757.79 381.90,757.65 382.70,757.51 383.50,757.38 384.30,757.25 385.10,757.13 385.90,757.01 386.70,756.90 387.50,756.79 388.30,756.68 389.10,756.58 389.90,756.48 390.70,756.38 391.50,756.29 392.30,756.20 393.10,756.11 393.90,756.03 394.70,755.95 395.50,755.88 396.30,755.80 397.10,755.73 397.90,755.66 398.70,755.59 399.50,755.53 400.30,755.47 401.10,755.41 401.90,755.35 402.70,755.30 403.50,755.24 404.30,755.19 405.10,755.14 405.90,755.09 406.70,755.05 407.50,755.00 408.30,754.96 409.10,754.92 409.90,754.88 410.70,754.84 411.50,754.80 412.30,754.77 413.10,754.73 413.90,754.70 414.70,754.67 415.50,754.64 416.30,754.61 417.10,754.58 417.90,754.55 418.70,754.52 419.50,754.50 420.30,754.47 421.10,754.45 421.90,754.43 422.70,754.40 423.50,754.38 424.30,754.36 425.10,754.34 425.90,754.32 426.70,754.30 427.50,754.28 428.30,754.27 429.10,754.25 429.90,754.23" fill="none" stroke="#000" stroke-width="0.8" stroke-opacity="0.85" stroke-linejoin="round"/>
<polyline points="408.75,847.50 408.75,894.50 432.00,894.50" fill="none" stroke="#707070" stroke-width="1.0"/>
<g transform="translate(337.97,884.50) scale(1.0000,1.012)"><text font-size="30.55" fill="#000">2 nA</text></g>
<g transform="translate(391.45,924.50) scale(1.0000,1.012)"><text font-size="30.97" fill="#000">2 ms</text></g>
<g transform="translate(399.28,527.80) scale(1.0000,1.012)"><text font-size="39.05" fill="#000">Fast inactivation</text></g>
<line x1="400.30" y1="534.40" x2="681.70" y2="534.40" stroke="#000" stroke-width="3.0"/>
<line x1="628.60" y1="588.25" x2="628.60" y2="859.90" stroke="#1a1a1a" stroke-width="1.2"/>
<line x1="625.40" y1="859.30" x2="950.60" y2="859.30" stroke="#1a1a1a" stroke-width="1.2"/>
<line x1="622.80" y1="611.80" x2="628.60" y2="611.80" stroke="#1a1a1a" stroke-width="1.1"/>
<line x1="622.80" y1="656.86" x2="628.60" y2="656.86" stroke="#1a1a1a" stroke-width="1.1"/>
<line x1="622.80" y1="701.92" x2="628.60" y2="701.92" stroke="#1a1a1a" stroke-width="1.1"/>
<line x1="622.80" y1="746.98" x2="628.60" y2="746.98" stroke="#1a1a1a" stroke-width="1.1"/>
<line x1="622.80" y1="792.04" x2="628.60" y2="792.04" stroke="#1a1a1a" stroke-width="1.1"/>
<line x1="622.80" y1="837.10" x2="628.60" y2="837.10" stroke="#1a1a1a" stroke-width="1.1"/>
<line x1="625.40" y1="589.27" x2="628.60" y2="589.27" stroke="#1a1a1a" stroke-width="1.0"/>
<line x1="625.40" y1="634.33" x2="628.60" y2="634.33" stroke="#1a1a1a" stroke-width="1.0"/>
<line x1="625.40" y1="679.39" x2="628.60" y2="679.39" stroke="#1a1a1a" stroke-width="1.0"/>
<line x1="625.40" y1="724.45" x2="628.60" y2="724.45" stroke="#1a1a1a" stroke-width="1.0"/>
<line x1="625.40" y1="769.51" x2="628.60" y2="769.51" stroke="#1a1a1a" stroke-width="1.0"/>
<line x1="625.40" y1="814.57" x2="628.60" y2="814.57" stroke="#1a1a1a" stroke-width="1.0"/>
<line x1="625.40" y1="859.63" x2="628.60" y2="859.63" stroke="#1a1a1a" stroke-width="1.0"/>
<line x1="657.60" y1="859.30" x2="657.60" y2="865.10" stroke="#1a1a1a" stroke-width="1.1"/>
<line x1="716.10" y1="859.30" x2="716.10" y2="865.10" stroke="#1a1a1a" stroke-width="1.1"/>
<line x1="774.60" y1="859.30" x2="774.60" y2="865.10" stroke="#1a1a1a" stroke-width="1.1"/>
<line x1="833.10" y1="859.30" x2="833.10" y2="865.10" stroke="#1a1a1a" stroke-width="1.1"/>
<line x1="891.60" y1="859.30" x2="891.60" y2="865.10" stroke="#1a1a1a" stroke-width="1.1"/>
<line x1="950.10" y1="859.30" x2="950.10" y2="865.10" stroke="#1a1a1a" stroke-width="1.1"/>
<line x1="628.35" y1="859.30" x2="628.35" y2="862.50" stroke="#1a1a1a" stroke-width="1.0"/>
<line x1="686.85" y1="859.30" x2="686.85" y2="862.50" stroke="#1a1a1a" stroke-width="1.0"/>
<line x1="745.35" y1="859.30" x2="745.35" y2="862.50" stroke="#1a1a1a" stroke-width="1.0"/>
<line x1="803.85" y1="859.30" x2="803.85" y2="862.50" stroke="#1a1a1a" stroke-width="1.0"/>
<line x1="862.35" y1="859.30" x2="862.35" y2="862.50" stroke="#1a1a1a" stroke-width="1.0"/>
<line x1="920.85" y1="859.30" x2="920.85" y2="862.50" stroke="#1a1a1a" stroke-width="1.0"/>
<g transform="translate(573.62,622.61) scale(1.0450,1.038)"><text font-size="30.27" fill="#000">1.0</text><rect x="1.36" y="-4.24" width="6.20" height="4.99" fill="#fff"/><rect x="10.35" y="-4.24" width="5.75" height="4.99" fill="#fff"/></g>
<g transform="translate(573.78,667.67) scale(1.0450,1.038)"><text font-size="30.27" fill="#000">0.8</text></g>
<g transform="translate(573.78,712.73) scale(1.0450,1.038)"><text font-size="30.27" fill="#000">0.6</text></g>
<g transform="translate(573.30,757.79) scale(1.0450,1.038)"><text font-size="30.27" fill="#000">0.4</text></g>
<g transform="translate(574.02,802.85) scale(1.0450,1.038)"><text font-size="30.27" fill="#000">0.2</text></g>
<g transform="translate(573.62,847.91) scale(1.0450,1.038)"><text font-size="30.27" fill="#000">0.0</text></g>
<g transform="translate(635.33,896.80) scale(1.0450,1.038)"><text font-size="30.27" fill="#000">-80</text></g>
<g transform="translate(693.83,896.80) scale(1.0450,1.038)"><text font-size="30.27" fill="#000">-60</text></g>
<g transform="translate(752.33,896.80) scale(1.0450,1.038)"><text font-size="30.27" fill="#000">-40</text></g>
<g transform="translate(810.83,896.80) scale(1.0450,1.038)"><text font-size="30.27" fill="#000">-20</text></g>
<g transform="translate(883.48,896.80) scale(1.0450,1.038)"><text font-size="30.27" fill="#000">0</text></g>
<g transform="translate(933.05,896.80) scale(1.0450,1.038)"><text font-size="30.27" fill="#000">20</text></g>
<g transform="translate(663.32,949.00) scale(1.0632,1.012)"><text font-size="36.73" fill="#000">Test pulse (mV)</text></g>
<text transform="translate(561.7,918.4) rotate(-90) scale(1,1.012)" font-size="38.5" fill="#000">Normalized <tspan font-style="italic">G</tspan>/ <tspan font-style="italic">G</tspan><tspan font-style="italic" font-size="27.7" dy="10">max</tspan></text>
<polyline points="657.60,627.15 659.06,627.15 660.52,627.16 661.99,627.16 663.45,627.16 664.91,627.17 666.38,627.17 667.84,627.18 669.30,627.19 670.76,627.20 672.23,627.20 673.69,627.21 675.15,627.22 676.61,627.24 678.08,627.25 679.54,627.26 681.00,627.28 682.46,627.30 683.93,627.32 685.39,627.34 686.85,627.37 688.31,627.40 689.77,627.43 691.24,627.46 692.70,627.50 694.16,627.55 695.62,627.60 697.09,627.65 698.55,627.71 700.01,627.78 701.48,627.85 702.94,627.94 704.40,628.03 705.86,628.14 707.33,628.25 708.79,628.38 710.25,628.53 711.71,628.69 713.18,628.86 714.64,629.06 716.10,629.28 717.56,629.53 719.02,629.80 720.49,630.11 721.95,630.44 723.41,630.82 724.88,631.23 726.34,631.70 727.80,632.21 729.26,632.78 730.73,633.41 732.19,634.10 733.65,634.88 735.11,635.73 736.58,636.67 738.04,637.72 739.50,638.86 740.96,640.13 742.42,641.52 743.89,643.05 745.35,644.72 746.81,646.56 748.27,648.56 749.74,650.75 751.20,653.13 752.66,655.70 754.12,658.50 755.59,661.51 757.05,664.75 758.51,668.22 759.98,671.94 761.44,675.89 762.90,680.08 764.36,684.49 765.83,689.14 767.29,693.99 768.75,699.04 770.21,704.26 771.67,709.64 773.14,715.14 774.60,720.74 776.06,726.41 777.52,732.11 778.99,737.81 780.45,743.48 781.91,749.08 783.38,754.58 784.84,759.96 786.30,765.18 787.76,770.23 789.23,775.08 790.69,779.73 792.15,784.14 793.61,788.33 795.08,792.28 796.54,796.00 798.00,799.47 799.46,802.71 800.92,805.72 802.39,808.52 803.85,811.10 805.31,813.47 806.77,815.66 808.24,817.66 809.70,819.50 811.16,821.17 812.62,822.70 814.09,824.09 815.55,825.36 817.01,826.50 818.48,827.55 819.94,828.49 821.40,829.34 822.86,830.12 824.33,830.81 825.79,831.44 827.25,832.01 828.71,832.52 830.17,832.99 831.64,833.40 833.10,833.78 834.56,834.12 836.02,834.42 837.49,834.69 838.95,834.94 840.41,835.16 841.88,835.36 843.34,835.53 844.80,835.69 846.26,835.84 847.73,835.97 849.19,836.08 850.65,836.19 852.11,836.28 853.58,836.37 855.04,836.44 856.50,836.51 857.96,836.57 859.42,836.62 860.89,836.67 862.35,836.72 863.81,836.76 865.27,836.79 866.74,836.82 868.20,836.85 869.66,836.88 871.12,836.90 872.59,836.92 874.05,836.94 875.51,836.96 876.98,836.97 878.44,836.98 879.90,837.00 881.36,837.01 882.83,837.02 884.29,837.02 885.75,837.03 887.21,837.04 888.67,837.05 890.14,837.05 891.60,837.06 893.06,837.06 894.52,837.06 895.99,837.07 897.45,837.07 898.91,837.07 900.38,837.08 901.84,837.08 903.30,837.08 904.76,837.08 906.23,837.09 907.69,837.09 909.15,837.09 910.61,837.09 912.08,837.09 913.54,837.09 915.00,837.09 916.46,837.09 917.92,837.09 919.39,837.09 920.85,837.10" fill="none" stroke="#000" stroke-width="2.0" stroke-opacity="1.0" stroke-linejoin="round"/>
<polyline points="657.60,618.42 659.06,618.43 660.52,618.44 661.99,618.45 663.45,618.46 664.91,618.48 666.38,618.49 667.84,618.51 669.30,618.53 670.76,618.56 672.23,618.58 673.69,618.61 675.15,618.64 676.61,618.68 678.08,618.72 679.54,618.77 681.00,618.82 682.46,618.87 683.93,618.94 685.39,619.01 686.85,619.09 688.31,619.18 689.77,619.27 691.24,619.38 692.70,619.51 694.16,619.64 695.62,619.80 697.09,619.97 698.55,620.16 700.01,620.37 701.48,620.61 702.94,620.87 704.40,621.17 705.86,621.50 707.33,621.86 708.79,622.27 710.25,622.72 711.71,623.23 713.18,623.79 714.64,624.41 716.10,625.10 717.56,625.87 719.02,626.72 720.49,627.66 721.95,628.71 723.41,629.86 724.88,631.14 726.34,632.55 727.80,634.10 729.26,635.80 730.73,637.67 732.19,639.72 733.65,641.97 735.11,644.41 736.58,647.07 738.04,649.96 739.50,653.09 740.96,656.46 742.42,660.09 743.89,663.97 745.35,668.11 746.81,672.51 748.27,677.17 749.74,682.07 751.20,687.20 752.66,692.55 754.12,698.09 755.59,703.80 757.05,709.65 758.51,715.61 759.98,721.65 761.44,727.72 762.90,733.79 764.36,739.82 765.83,745.78 767.29,751.63 768.75,757.34 770.21,762.88 771.67,768.23 773.14,773.36 774.60,778.26 776.06,782.92 777.52,787.32 778.99,791.46 780.45,795.35 781.91,798.97 783.38,802.34 784.84,805.47 786.30,808.36 787.76,811.02 789.23,813.47 790.69,815.71 792.15,817.76 793.61,819.63 795.08,821.34 796.54,822.89 798.00,824.29 799.46,825.57 800.92,826.72 802.39,827.77 803.85,828.71 805.31,829.56 806.77,830.33 808.24,831.02 809.70,831.65 811.16,832.21 812.62,832.71 814.09,833.17 815.55,833.57 817.01,833.94 818.48,834.27 819.94,834.56 821.40,834.82 822.86,835.06 824.33,835.27 825.79,835.47 827.25,835.64 828.71,835.79 830.17,835.93 831.64,836.05 833.10,836.16 834.56,836.26 836.02,836.35 837.49,836.42 838.95,836.50 840.41,836.56 841.88,836.62 843.34,836.67 844.80,836.71 846.26,836.75 847.73,836.79 849.19,836.82 850.65,836.85 852.11,836.88 853.58,836.90 855.04,836.92 856.50,836.94 857.96,836.96 859.42,836.97 860.89,836.99 862.35,837.00 863.81,837.01 865.27,837.02 866.74,837.03 868.20,837.03 869.66,837.04 871.12,837.05 872.59,837.05 874.05,837.06 875.51,837.06 876.98,837.07 878.44,837.07 879.90,837.07 881.36,837.08 882.83,837.08 884.29,837.08 885.75,837.08 887.21,837.08 888.67,837.09 890.14,837.09 891.60,837.09 893.06,837.09 894.52,837.09 895.99,837.09 897.45,837.09 898.91,837.09 900.38,837.09 901.84,837.09 903.30,837.10 904.76,837.10 906.23,837.10 907.69,837.10 909.15,837.10 910.61,837.10 912.08,837.10 913.54,837.10 915.00,837.10 916.46,837.10 917.92,837.10 919.39,837.10 920.85,837.10" fill="none" stroke="#f00" stroke-width="2.0" stroke-opacity="1.0" stroke-linejoin="round"/>
<g stroke="#111" stroke-width="0.9" fill="none">
<path d="M657.6,631.0V643.0M655.1,631.0h5M655.1,643.0h5"/>
<path d="M686.9,620.2V632.2M684.4,620.2h5M684.4,632.2h5"/>
<path d="M716.1,614.0V626.0M713.6,614.0h5M713.6,626.0h5"/>
<path d="M745.4,628.0V642.0M742.9,628.0h5M742.9,642.0h5"/>
<path d="M774.6,712.0V726.0M772.1,712.0h5M772.1,726.0h5"/>
<path d="M803.9,803.5V815.5M801.4,803.5h5M801.4,815.5h5"/>
<path d="M833.1,816.8V824.8M830.6,816.8h5M830.6,824.8h5"/>
<path d="M862.4,818.7V826.7M859.9,818.7h5M859.9,826.7h5"/>
<path d="M891.6,821.4V829.4M889.1,821.4h5M889.1,829.4h5"/>
<path d="M920.9,811.8V823.8M918.4,811.8h5M918.4,823.8h5"/>
</g>
<g stroke="#111" stroke-width="1.4" fill="none">
<rect x="652.4" y="631.8" width="10.4" height="10.4"/>
<rect x="681.6" y="621.0" width="10.4" height="10.4"/>
<rect x="710.9" y="614.8" width="10.4" height="10.4"/>
<rect x="740.1" y="629.8" width="10.4" height="10.4"/>
<rect x="769.4" y="713.8" width="10.4" height="10.4"/>
<rect x="798.6" y="804.3" width="10.4" height="10.4"/>
<rect x="827.9" y="815.6" width="10.4" height="10.4"/>
<rect x="857.1" y="817.5" width="10.4" height="10.4"/>
<rect x="886.4" y="820.2" width="10.4" height="10.4"/>
<rect x="915.6" y="812.6" width="10.4" height="10.4"/>
</g>
<g stroke="#f00" stroke-width="0.9" fill="none">
<path d="M657.6,619.5V629.5M655.1,619.5h5M655.1,629.5h5"/>
<path d="M686.9,608.2V618.2M684.4,608.2h5M684.4,618.2h5"/>
<path d="M716.1,615.8V625.8M713.6,615.8h5M713.6,625.8h5"/>
<path d="M745.4,658.3V676.3M742.9,658.3h5M742.9,676.3h5"/>
<path d="M774.6,765.3V781.3M772.1,765.3h5M772.1,781.3h5"/>
<path d="M803.9,817.4V827.4M801.4,817.4h5M801.4,827.4h5"/>
<path d="M833.1,824.3V830.3M830.6,824.3h5M830.6,830.3h5"/>
<path d="M862.4,826.0V832.0M859.9,826.0h5M859.9,832.0h5"/>
<path d="M891.6,828.0V834.0M889.1,828.0h5M889.1,834.0h5"/>
<path d="M920.9,823.0V829.0M918.4,823.0h5M918.4,829.0h5"/>
</g>
<g stroke="#f00" stroke-width="1.4" fill="none">
<circle cx="657.6" cy="624.5" r="5.8"/>
<circle cx="686.9" cy="613.2" r="5.8"/>
<circle cx="716.1" cy="620.8" r="5.8"/>
<circle cx="745.4" cy="667.3" r="5.8"/>
<circle cx="774.6" cy="773.3" r="5.8"/>
<circle cx="803.9" cy="822.4" r="5.8"/>
<circle cx="833.1" cy="827.3" r="5.8"/>
<circle cx="862.4" cy="829.0" r="5.8"/>
<circle cx="891.6" cy="831.0" r="5.8"/>
<circle cx="920.9" cy="826.0" r="5.8"/>
</g>
<rect x="769.90" y="606.00" width="19.40" height="19.40" fill="none" stroke="#333" stroke-width="1.1"/>
<g transform="translate(795.50,627.50) scale(1.0757,1.038)"><text font-size="31.53" fill="#000">D21 (29)</text><rect x="41.72" y="-4.41" width="6.46" height="5.20" fill="#fff"/><rect x="51.09" y="-4.41" width="5.99" height="5.20" fill="#fff"/></g>
<circle cx="780.80" cy="666.80" r="9.80" fill="none" stroke="#f00" stroke-width="1.2"/>
<g transform="translate(797.54,679.00) scale(1.0844,1.038)"><text font-size="31.25" fill="#f00">T21 (16)</text><rect x="37.87" y="-4.37" width="6.41" height="5.16" fill="#fff"/><rect x="47.15" y="-4.37" width="5.94" height="5.16" fill="#fff"/><rect x="74.34" y="-4.37" width="6.41" height="5.16" fill="#fff"/><rect x="83.62" y="-4.37" width="5.94" height="5.16" fill="#fff"/></g>
<line x1="701.70" y1="709.70" x2="701.70" y2="783.80" stroke="#8a8a8a" stroke-width="1.0"/>
<line x1="701.20" y1="783.40" x2="759.00" y2="783.40" stroke="#8a8a8a" stroke-width="1.0"/>
<line x1="698.70" y1="710.10" x2="701.70" y2="710.10" stroke="#8a8a8a" stroke-width="1.0"/>
<line x1="698.70" y1="746.75" x2="701.70" y2="746.75" stroke="#8a8a8a" stroke-width="1.0"/>
<line x1="698.70" y1="783.40" x2="701.70" y2="783.40" stroke="#8a8a8a" stroke-width="1.0"/>
<line x1="699.90" y1="728.43" x2="701.70" y2="728.43" stroke="#8a8a8a" stroke-width="0.9"/>
<line x1="699.90" y1="765.07" x2="701.70" y2="765.07" stroke="#8a8a8a" stroke-width="0.9"/>
<rect x="708.40" y="721.20" width="19.40" height="62.20" fill="#e6e6e6" stroke="#555" stroke-width="1.0"/>
<rect x="734.40" y="716.20" width="20.40" height="67.20" fill="#f00" stroke="#f00" stroke-width="1.0"/>
<line x1="718.10" y1="783.40" x2="718.10" y2="785.90" stroke="#8a8a8a" stroke-width="0.9"/>
<line x1="744.60" y1="783.40" x2="744.60" y2="785.90" stroke="#8a8a8a" stroke-width="0.9"/>
<line x1="713.30" y1="720.50" x2="722.90" y2="720.50" stroke="#000" stroke-width="2.6"/>
<line x1="739.80" y1="716.00" x2="749.40" y2="716.00" stroke="#000" stroke-width="2.6"/>
<g transform="translate(658.80,720.10) scale(1.0475,1.038)"><text font-size="25.50" fill="#000">-50</text></g>
<g transform="translate(658.80,756.30) scale(1.0494,1.038)"><text font-size="25.50" fill="#000">-25</text></g>
<g transform="translate(683.18,792.70) scale(1.0018,1.038)"><text font-size="25.50" fill="#000">0</text></g>
<text x="714.08" y="706.10" font-size="24.0" fill="#000">*</text>
<text x="726.22" y="706.10" font-size="24.0" fill="#000">*</text>
<text x="738.36" y="706.10" font-size="24.0" fill="#000">*</text>
<line x1="720.50" y1="706.30" x2="739.80" y2="706.30" stroke="#000" stroke-width="2.8"/>
<text transform="translate(655.2,822) rotate(-90) scale(1,1.012)" font-size="30.2" fill="#000">pulse (mv)</text>
<g transform="translate(705.9,836.6) rotate(-59.5) scale(1,1.038)"><text x="0" y="0" font-size="28" fill="#000">D21</text><rect x="37.05" y="-3.92" width="5.74" height="4.62" fill="#fff"/><rect x="45.37" y="-3.92" width="5.32" height="4.62" fill="#fff"/></g>
<g transform="translate(738.0,836.1) rotate(-59.5) scale(1,1.038)"><text x="0" y="0" font-size="28" fill="#f00">T21</text><rect x="33.94" y="-3.92" width="5.74" height="4.62" fill="#fff"/><rect x="42.25" y="-3.92" width="5.32" height="4.62" fill="#fff"/></g>
</g>
<g id="panelD">
<g transform="translate(5.52,1034.90) scale(1.0000,1.038)"><text font-size="67.68" fill="#000">D</text></g>
<polyline points="61.25,1089.50 81.25,1089.50 81.25,1095.75 102.00,1095.75 102.00,1089.50 152.50,1089.50 152.50,1113.75 173.75,1113.75 173.75,1050.00" fill="none" stroke="#000" stroke-width="1.5"/>
<path d="M173.75,1050.00H240M173.75,1055.50H240M173.75,1061.00H240M173.75,1066.50H240M173.75,1072.00H240M173.75,1077.50H240M173.75,1083.00H240M173.75,1088.50H240M173.75,1094.00H240M173.75,1099.50H240M173.75,1050V1099.5M240,1050V1099.5" fill="none" stroke="#000" stroke-width="1.35"/>
<polyline points="240.00,1055.50 261.25,1055.50 261.25,1114.25 294.25,1114.25 294.25,1090.50 334.25,1090.50" fill="none" stroke="#000" stroke-width="1.5"/>
<g transform="translate(29.37,1083.00) scale(1.0000,1.012)"><text font-size="25.12" fill="#000">-60 mV</text></g>
<g transform="translate(171.40,1015.50) scale(1.0000,1.012)"><text font-size="26.16" fill="#000">10 mV,</text><rect x="1.18" y="-3.66" width="5.36" height="4.32" fill="#fff"/><rect x="8.95" y="-3.66" width="4.97" height="4.32" fill="#fff"/></g>
<g transform="translate(194.73,1045.20) scale(1.0000,1.012)"><text font-size="25.60" fill="#000">5 s</text></g>
<g transform="translate(286.42,1013.75) scale(1.0000,1.012)"><text font-size="26.99" fill="#000">0 mV,</text></g>
<g transform="translate(286.03,1044.20) scale(1.0000,1.012)"><text font-size="24.92" fill="#000">10 ms</text><rect x="1.12" y="-3.49" width="5.11" height="4.11" fill="#fff"/><rect x="8.52" y="-3.49" width="4.73" height="4.11" fill="#fff"/></g>
<g transform="translate(185.09,1124.40) scale(1.0000,1.038)"><text font-size="25.87" fill="#000">-80</text></g>
<g transform="translate(91.88,1145.70) scale(1.0000,1.012)"><text font-size="25.00" fill="#000">-120 mV</text><rect x="9.45" y="-3.50" width="5.12" height="4.12" fill="#fff"/><rect x="16.88" y="-3.50" width="4.75" height="4.12" fill="#fff"/></g>
<g transform="translate(98.01,1175.70) scale(1.0000,1.012)"><text font-size="25.11" fill="#000">100 ms</text><rect x="1.13" y="-3.52" width="5.15" height="4.14" fill="#fff"/><rect x="8.59" y="-3.52" width="4.77" height="4.14" fill="#fff"/></g>
<g transform="translate(227.62,1140.70) scale(1.0000,1.012)"><text font-size="25.13" fill="#000">-120 mV</text><rect x="9.50" y="-3.52" width="5.15" height="4.15" fill="#fff"/><rect x="16.97" y="-3.52" width="4.78" height="4.15" fill="#fff"/></g>
<g transform="translate(233.99,1170.40) scale(1.0000,1.012)"><text font-size="25.35" fill="#000">500 ms</text></g>
<line x1="280.75" y1="1029.50" x2="270.35" y2="1037.85" stroke="#17608a" stroke-width="4.0"/>
<path d="M257,1047.5 L263.4,1031.2 L277.3,1044.5 Z" fill="#17608a" stroke="#17608a" stroke-width="0.3"/>
<g transform="translate(171.41,1229.90) scale(1.0464,1.038)"><text font-size="38.12" fill="#000">D21</text><rect x="50.44" y="-5.34" width="7.81" height="6.29" fill="#fff"/><rect x="61.76" y="-5.34" width="7.24" height="6.29" fill="#fff"/></g>
<g transform="translate(345.90,1229.90) scale(1.0455,1.038)"><text font-size="38.12" fill="#f00">T21</text><rect x="46.20" y="-5.34" width="7.81" height="6.29" fill="#fff"/><rect x="57.52" y="-5.34" width="7.24" height="6.29" fill="#fff"/></g>
<line x1="157.00" y1="1254.30" x2="275.50" y2="1254.30" stroke="#000" stroke-width="1.5"/>
<path d="M235,1253.6 L275.5,1252.7 L275.5,1256.1 L240,1255.1 Z" fill="#000" stroke="#000" stroke-width="0.3"/>
<path d="M156.6,1248 L158.4,1248 L158.2,1258 L157,1258 Z" fill="#000" stroke="#000" stroke-width="0.5"/>
<polyline points="158.50,1254.71 158.70,1254.78 158.90,1254.84 159.10,1254.91 159.30,1254.98 159.50,1255.06 159.70,1255.14 159.90,1255.22 160.10,1255.31 160.30,1255.40 160.50,1255.49 160.70,1255.59 160.90,1255.69 161.10,1255.80 161.30,1255.90 161.50,1255.99 161.70,1256.09 161.90,1256.18 162.10,1256.27 162.30,1256.36 162.50,1256.45 162.70,1256.54 162.90,1256.63 163.10,1256.71 163.30,1256.80 163.50,1256.88 163.70,1256.97 163.90,1257.05 164.10,1257.13 164.30,1257.21 164.50,1257.30 164.70,1257.38 164.90,1257.46 165.10,1257.54 165.30,1257.61 165.50,1257.69 165.70,1257.77 165.90,1257.85 166.10,1257.93 166.30,1258.00 166.50,1258.07 166.70,1258.14 166.90,1258.20 167.10,1258.26 167.30,1258.31 167.50,1258.35 167.70,1258.39 167.90,1258.42 168.10,1258.45 168.30,1258.47 168.50,1258.48 168.70,1258.49 168.90,1258.50 169.10,1258.50 169.30,1258.50 169.50,1258.49 169.70,1258.47 169.90,1258.45 170.10,1258.42 170.30,1258.39 170.50,1258.36 170.70,1258.32 170.90,1258.27 171.10,1258.23 171.30,1258.17 171.50,1258.12 171.70,1258.06 171.90,1258.01 172.10,1257.96 172.30,1257.90 172.50,1257.85 172.70,1257.80 172.90,1257.75 173.10,1257.70 173.30,1257.66 173.50,1257.61 173.70,1257.56 173.90,1257.51 174.10,1257.47 174.30,1257.42 174.50,1257.38 174.70,1257.34 174.90,1257.29 175.10,1257.25 175.30,1257.21 175.50,1257.17 175.70,1257.13 175.90,1257.09 176.10,1257.05 176.30,1257.01 176.50,1256.97 176.70,1256.93 176.90,1256.89 177.10,1256.86 177.30,1256.82 177.50,1256.79 177.70,1256.75 177.90,1256.72 178.10,1256.68 178.30,1256.65 178.50,1256.61 178.70,1256.58 178.90,1256.55 179.10,1256.52 179.30,1256.49 179.50,1256.45 179.70,1256.42 179.90,1256.39 180.10,1256.36 180.30,1256.34 180.50,1256.31 180.70,1256.28 180.90,1256.25 181.10,1256.22 181.30,1256.19 181.50,1256.17 181.70,1256.14 181.90,1256.12 182.10,1256.09 182.30,1256.06 182.50,1256.04 182.70,1256.01 182.90,1255.99 183.10,1255.97 183.30,1255.94 183.50,1255.92 183.70,1255.90 183.90,1255.87 184.10,1255.85 184.30,1255.83 184.50,1255.81 184.70,1255.79 184.90,1255.77 185.10,1255.74 185.30,1255.72 185.50,1255.70 185.70,1255.68 185.90,1255.66 186.10,1255.64 186.30,1255.63 186.50,1255.61 186.70,1255.59 186.90,1255.57 187.10,1255.55 187.30,1255.53 187.50,1255.52 187.70,1255.50 187.90,1255.48 188.10,1255.47 188.30,1255.45 188.50,1255.43 188.70,1255.42 188.90,1255.40 189.10,1255.39 189.30,1255.37 189.50,1255.35 189.70,1255.34 189.90,1255.33 190.10,1255.31 190.30,1255.30 190.50,1255.28 190.70,1255.27 190.90,1255.25 191.10,1255.24 191.30,1255.23 191.50,1255.21 191.70,1255.20 191.90,1255.19 192.10,1255.18 192.30,1255.16 192.50,1255.15 192.70,1255.14 192.90,1255.13 193.10,1255.12 193.30,1255.10 193.50,1255.09 193.70,1255.08 193.90,1255.07 194.10,1255.06 194.30,1255.05 194.50,1255.04 194.70,1255.03 194.90,1255.02 195.10,1255.01 195.30,1255.00 195.50,1254.99 195.70,1254.98 195.90,1254.97 196.10,1254.96 196.30,1254.95 196.50,1254.94 196.70,1254.93 196.90,1254.92 197.10,1254.91 197.30,1254.90 197.50,1254.90 197.70,1254.89 197.90,1254.88 198.10,1254.87 198.30,1254.86 198.50,1254.85 198.70,1254.85 199.30,1254.82 200.10,1254.79 200.90,1254.77 201.70,1254.74 202.50,1254.72 203.30,1254.69 204.10,1254.67 204.90,1254.65 205.70,1254.63 206.50,1254.61 207.30,1254.60 208.10,1254.58 208.90,1254.56 209.70,1254.55 210.50,1254.54 211.30,1254.52 212.10,1254.51 212.90,1254.50 213.70,1254.49 214.50,1254.48 215.30,1254.47 216.10,1254.46 216.90,1254.45 217.70,1254.44 218.50,1254.43 219.30,1254.43 220.10,1254.42 220.90,1254.41 221.70,1254.41 222.50,1254.40 223.30,1254.39 224.10,1254.39 224.90,1254.38 225.70,1254.38 226.50,1254.38 227.30,1254.37 228.10,1254.37 228.90,1254.36 229.70,1254.36 229.90,1254.36" fill="none" stroke="#000" stroke-width="0.9" stroke-opacity="1.0" stroke-linejoin="round"/>
<polyline points="157.50,1255.41 157.70,1256.05 157.90,1256.85 158.10,1257.83 158.30,1258.98 158.50,1260.31 158.70,1261.74 158.90,1263.25 159.10,1264.83 159.30,1266.45 159.50,1268.13 159.70,1269.85 159.90,1271.61 160.10,1273.41 160.30,1275.25 160.50,1277.12 160.70,1279.03 160.90,1280.96 161.10,1282.92 161.30,1284.91 161.50,1286.93 161.70,1288.98 161.90,1291.04 162.10,1293.14 162.30,1295.25 162.50,1297.39 162.70,1299.55 162.90,1301.73 163.10,1303.93 163.30,1306.15 163.50,1308.39 163.70,1310.65 163.90,1312.53 164.10,1314.03 164.30,1315.16 164.50,1315.91 164.70,1316.29 164.90,1316.30 165.10,1315.94 165.30,1315.20 165.50,1314.10 165.70,1313.02 165.90,1311.97 166.10,1310.95 166.30,1309.95 166.50,1308.98 166.70,1308.04 166.90,1307.12 167.10,1306.22 167.30,1305.34 167.50,1304.49 167.70,1303.66 167.90,1302.85 168.10,1302.06 168.30,1301.29 168.50,1300.53 168.70,1299.80 168.90,1299.09 169.10,1298.39 169.30,1297.71 169.50,1297.04 169.70,1296.40 169.90,1295.76 170.10,1295.15 170.30,1294.55 170.50,1293.96 170.70,1293.39 170.90,1292.83 171.10,1292.28 171.30,1291.75 171.50,1291.23 171.70,1290.72 171.90,1290.23 172.10,1289.74 172.30,1289.27 172.50,1288.81 172.70,1288.36 172.90,1287.91 173.10,1287.48 173.30,1287.06 173.50,1286.65 173.70,1286.25 173.90,1285.86 174.10,1285.47 174.30,1285.10 174.50,1284.73 174.70,1284.37 174.90,1284.02 175.10,1283.68 175.30,1283.34 175.50,1283.01 175.70,1282.69 175.90,1282.37 176.10,1282.07 176.30,1281.76 176.50,1281.47 176.70,1281.18 176.90,1280.90 177.10,1280.62 177.30,1280.35 177.50,1280.08 177.70,1279.82 177.90,1279.57 178.10,1279.32 178.30,1279.07 178.50,1278.83 178.70,1278.60 178.90,1278.37 179.10,1278.14 179.30,1277.92 179.50,1277.70 179.70,1277.49 179.90,1277.28 180.10,1277.07 180.30,1276.87 180.50,1276.67 180.70,1276.48 180.90,1276.29 181.10,1276.10 181.30,1275.92 181.50,1275.74 181.70,1275.56 181.90,1275.38 182.10,1275.21 182.30,1275.04 182.50,1274.88 182.70,1274.72 182.90,1274.56 183.10,1274.40 183.30,1274.24 183.50,1274.09 183.70,1273.94 183.90,1273.79 184.10,1273.65 184.30,1273.51 184.50,1273.37 184.70,1273.23 184.90,1273.09 185.10,1272.96 185.30,1272.83 185.50,1272.70 185.70,1272.57 185.90,1272.44 186.10,1272.32 186.30,1272.19 186.50,1272.07 186.70,1271.95 186.90,1271.84 187.10,1271.72 187.30,1271.61 187.50,1271.49 187.70,1271.38 187.90,1271.27 188.10,1271.16 188.30,1271.06 188.50,1270.95 188.70,1270.85 188.90,1270.74 189.10,1270.64 189.30,1270.54 189.50,1270.44 189.70,1270.35 189.90,1270.25 190.10,1270.15 190.30,1270.06 190.50,1269.97 190.70,1269.87 190.90,1269.78 191.10,1269.69 191.30,1269.60 191.50,1269.51 191.70,1269.43 191.90,1269.34 192.10,1269.26 192.30,1269.17 192.50,1269.09 192.70,1269.01 192.90,1268.92 193.10,1268.84 193.30,1268.76 193.50,1268.68 193.70,1268.60 193.90,1268.53 194.10,1268.45 194.30,1268.37 195.10,1268.07 195.90,1267.79 196.70,1267.51 197.50,1267.24 198.30,1266.98 199.10,1266.73 199.90,1266.48 200.70,1266.25 201.50,1266.02 202.30,1265.79 203.10,1265.57 203.90,1265.36 204.70,1265.15 205.50,1264.95 206.30,1264.75 207.10,1264.56 207.90,1264.37 208.70,1264.18 209.50,1264.00 210.30,1263.83 211.10,1263.65 211.90,1263.48 212.70,1263.32 213.50,1263.16 214.30,1263.00 215.10,1262.84 215.90,1262.69 216.70,1262.54 217.50,1262.39 218.30,1262.25 219.10,1262.10 219.90,1261.97 220.70,1261.83 221.50,1261.70 222.30,1261.56 223.10,1261.44 223.90,1261.31 224.70,1261.18 225.50,1261.06 226.30,1260.94 227.10,1260.83 227.90,1260.71 228.70,1260.60 229.50,1260.48 230.30,1260.38 231.10,1260.27 231.90,1260.16 232.70,1260.06 233.50,1259.96 234.30,1259.86 235.10,1259.76 235.90,1259.66 236.70,1259.57 237.50,1259.48 238.30,1259.38 239.10,1259.29 239.90,1259.21 240.70,1259.12 241.50,1259.04 242.30,1258.95 243.10,1258.87 243.90,1258.79 244.70,1258.71 245.50,1258.63 246.30,1258.56 247.10,1258.48 247.90,1258.41 248.70,1258.33 249.50,1258.26 250.30,1258.19 251.10,1258.13 251.90,1258.06 252.70,1257.99 253.50,1257.93 254.30,1257.86 255.10,1257.80 255.90,1257.74 256.70,1257.68 257.50,1257.62 258.30,1257.56 259.10,1257.50 259.90,1257.45 260.70,1257.39 261.50,1257.34 262.30,1257.28 263.10,1257.23 263.90,1257.18 264.70,1257.13 265.50,1257.08 266.30,1257.03 267.10,1256.98 267.90,1256.93 268.70,1256.89 269.50,1256.84 270.30,1256.80 271.10,1256.75 271.90,1256.71 272.70,1256.67 273.50,1256.63 274.30,1256.58 275.10,1256.54 275.30,1256.53" fill="none" stroke="#f00" stroke-width="1.0" stroke-opacity="1.0" stroke-linejoin="round"/>
<polyline points="157.50,1256.30 157.70,1257.85 157.90,1259.90 158.10,1262.47 158.30,1265.58 158.50,1268.99 158.70,1272.60 158.90,1276.39 159.10,1280.32 159.30,1284.39 159.50,1288.57 159.70,1292.86 159.90,1297.26 160.10,1301.75 160.30,1306.33 160.50,1310.99 160.70,1315.73 160.90,1320.55 161.10,1325.44 161.30,1330.40 161.50,1335.43 161.70,1340.52 161.90,1345.67 162.10,1350.88 162.30,1356.14 162.50,1361.47 162.70,1366.84 162.90,1372.27 163.10,1377.75 163.30,1383.28 163.50,1388.85 163.70,1394.48 163.90,1400.15 164.10,1404.40 164.30,1407.25 164.50,1408.72 164.70,1408.80 164.90,1407.52 165.10,1404.88 165.30,1400.90 165.50,1397.04 165.70,1393.31 165.90,1389.69 166.10,1386.18 166.30,1382.79 166.50,1379.50 166.70,1376.31 166.90,1373.22 167.10,1370.23 167.30,1367.33 167.50,1364.53 167.70,1361.80 167.90,1359.17 168.10,1356.61 168.30,1354.13 168.50,1351.73 168.70,1349.40 168.90,1347.15 169.10,1344.96 169.30,1342.84 169.50,1340.78 169.70,1338.79 169.90,1336.86 170.10,1334.98 170.30,1333.17 170.50,1331.41 170.70,1329.70 170.90,1328.04 171.10,1326.43 171.30,1324.87 171.50,1323.36 171.70,1321.89 171.90,1320.46 172.10,1319.08 172.30,1317.74 172.50,1316.44 172.70,1315.17 172.90,1313.94 173.10,1312.75 173.30,1311.60 173.50,1310.47 173.70,1309.38 173.90,1308.33 174.10,1307.30 174.30,1306.30 174.50,1305.33 174.70,1304.38 174.90,1303.47 175.10,1302.58 175.30,1301.71 175.50,1300.87 175.70,1300.06 175.90,1299.26 176.10,1298.49 176.30,1297.74 176.50,1297.01 176.70,1296.30 176.90,1295.61 177.10,1294.93 177.30,1294.28 177.50,1293.64 177.70,1293.02 177.90,1292.42 178.10,1291.83 178.30,1291.26 178.50,1290.70 178.70,1290.16 178.90,1289.63 179.10,1289.12 179.30,1288.62 179.50,1288.13 179.70,1287.65 179.90,1287.19 180.10,1286.74 180.30,1286.29 180.50,1285.86 180.70,1285.44 180.90,1285.04 181.10,1284.64 181.30,1284.25 181.50,1283.87 181.70,1283.49 181.90,1283.13 182.10,1282.78 182.30,1282.43 182.50,1282.09 182.70,1281.76 182.90,1281.44 183.10,1281.12 183.30,1280.82 183.50,1280.51 183.70,1280.22 183.90,1279.93 184.10,1279.65 184.30,1279.37 184.50,1279.10 184.70,1278.84 184.90,1278.58 185.10,1278.33 185.30,1278.08 185.50,1277.83 185.70,1277.60 185.90,1277.36 186.10,1277.13 186.30,1276.91 186.50,1276.69 186.70,1276.47 186.90,1276.26 187.10,1276.05 187.30,1275.85 187.50,1275.65 187.70,1275.45 187.90,1275.26 188.10,1275.07 188.30,1274.89 188.50,1274.70 188.70,1274.52 188.90,1274.35 189.10,1274.17 189.30,1274.00 189.50,1273.84 189.70,1273.67 189.90,1273.51 190.10,1273.35 190.30,1273.19 190.50,1273.04 190.70,1272.89 190.90,1272.74 191.10,1272.59 191.30,1272.44 191.50,1272.30 191.70,1272.16 191.90,1272.02 192.10,1271.88 192.30,1271.75 192.50,1271.62 192.70,1271.48 192.90,1271.36 193.10,1271.23 193.30,1271.10 193.50,1270.98 193.70,1270.86 193.90,1270.73 194.10,1270.62 194.30,1270.50 195.10,1270.04 195.90,1269.61 196.70,1269.19 197.50,1268.79 198.30,1268.41 199.10,1268.05 199.90,1267.69 200.70,1267.36 201.50,1267.03 202.30,1266.72 203.10,1266.41 203.90,1266.12 204.70,1265.83 205.50,1265.55 206.30,1265.29 207.10,1265.03 207.90,1264.77 208.70,1264.53 209.50,1264.29 210.30,1264.05 211.10,1263.83 211.90,1263.61 212.70,1263.39 213.50,1263.18 214.30,1262.98 215.10,1262.78 215.90,1262.58 216.70,1262.39 217.50,1262.21 218.30,1262.03 219.10,1261.85 219.90,1261.68 220.70,1261.51 221.50,1261.35 222.30,1261.19 223.10,1261.03 223.90,1260.88 224.70,1260.73 225.50,1260.58 226.30,1260.44 227.10,1260.30 227.90,1260.17 228.70,1260.03 229.50,1259.90 230.30,1259.78 231.10,1259.65 231.90,1259.53 232.70,1259.41 233.50,1259.30 234.30,1259.18 235.10,1259.07 235.90,1258.96 236.70,1258.86 237.50,1258.76 238.30,1258.66 239.10,1258.56 239.90,1258.46 240.70,1258.37 241.50,1258.27 242.30,1258.18 243.10,1258.10 243.90,1258.01 244.70,1257.93 245.50,1257.85 246.30,1257.77 247.10,1257.69 247.90,1257.61 248.70,1257.54 249.50,1257.46 250.30,1257.39 251.10,1257.32 251.90,1257.25 252.70,1257.19 253.50,1257.12 254.30,1257.06 255.10,1256.99 255.90,1256.93 256.70,1256.87 257.50,1256.82 258.30,1256.76 259.10,1256.70 259.90,1256.65 260.70,1256.60 261.50,1256.54 262.30,1256.49 263.10,1256.44 263.90,1256.40 264.70,1256.35 265.50,1256.30 266.30,1256.26 267.10,1256.21 267.90,1256.17 268.70,1256.13 269.50,1256.09 270.30,1256.05 271.10,1256.01 271.90,1255.97 272.70,1255.93 273.50,1255.89 274.30,1255.86 275.10,1255.82 275.30,1255.81" fill="none" stroke="#000" stroke-width="0.8" stroke-opacity="0.85" stroke-linejoin="round"/>
<polyline points="157.50,1256.17 157.70,1257.61 157.90,1259.51 158.10,1261.90 158.30,1264.80 158.50,1267.98 158.70,1271.34 158.90,1274.87 159.10,1278.53 159.30,1282.31 159.50,1286.21 159.70,1290.21 159.90,1294.30 160.10,1298.48 160.30,1302.74 160.50,1307.08 160.70,1311.50 160.90,1315.99 161.10,1320.54 161.30,1325.16 161.50,1329.83 161.70,1334.57 161.90,1339.37 162.10,1344.22 162.30,1349.12 162.50,1354.08 162.70,1359.08 162.90,1364.14 163.10,1369.24 163.30,1374.39 163.50,1379.58 163.70,1384.82 163.90,1390.09 164.10,1395.41 164.30,1400.09 164.50,1403.46 164.70,1405.53 164.90,1406.30 165.10,1405.79 165.30,1404.01 165.50,1400.97 165.70,1397.35 165.90,1393.85 166.10,1390.44 166.30,1387.14 166.50,1383.94 166.70,1380.83 166.90,1377.81 167.10,1374.88 167.30,1372.04 167.50,1369.28 167.70,1366.61 167.90,1364.01 168.10,1361.48 168.30,1359.04 168.50,1356.66 168.70,1354.35 168.90,1352.11 169.10,1349.93 169.30,1347.82 169.50,1345.77 169.70,1343.78 169.90,1341.84 170.10,1339.97 170.30,1338.14 170.50,1336.37 170.70,1334.65 170.90,1332.97 171.10,1331.35 171.30,1329.77 171.50,1328.24 171.70,1326.74 171.90,1325.30 172.10,1323.89 172.30,1322.52 172.50,1321.19 172.70,1319.90 172.90,1318.64 173.10,1317.42 173.30,1316.23 173.50,1315.07 173.70,1313.95 173.90,1312.86 174.10,1311.79 174.30,1310.76 174.50,1309.75 174.70,1308.77 174.90,1307.82 175.10,1306.89 175.30,1305.99 175.50,1305.11 175.70,1304.26 175.90,1303.43 176.10,1302.62 176.30,1301.83 176.50,1301.06 176.70,1300.31 176.90,1299.58 177.10,1298.87 177.30,1298.18 177.50,1297.51 177.70,1296.85 177.90,1296.21 178.10,1295.59 178.30,1294.98 178.50,1294.39 178.70,1293.81 178.90,1293.25 179.10,1292.70 179.30,1292.16 179.50,1291.64 179.70,1291.13 179.90,1290.63 180.10,1290.14 180.30,1289.67 180.50,1289.20 180.70,1288.75 180.90,1288.31 181.10,1287.88 181.30,1287.46 181.50,1287.04 181.70,1286.64 181.90,1286.25 182.10,1285.86 182.30,1285.49 182.50,1285.12 182.70,1284.76 182.90,1284.41 183.10,1284.07 183.30,1283.73 183.50,1283.40 183.70,1283.08 183.90,1282.76 184.10,1282.45 184.30,1282.15 184.50,1281.86 184.70,1281.57 184.90,1281.28 185.10,1281.00 185.30,1280.73 185.50,1280.46 185.70,1280.20 185.90,1279.94 186.10,1279.69 186.30,1279.45 186.50,1279.20 186.70,1278.96 186.90,1278.73 187.10,1278.50 187.30,1278.28 187.50,1278.06 187.70,1277.84 187.90,1277.63 188.10,1277.42 188.30,1277.21 188.50,1277.01 188.70,1276.81 188.90,1276.62 189.10,1276.42 189.30,1276.23 189.50,1276.05 189.70,1275.87 189.90,1275.69 190.10,1275.51 190.30,1275.34 190.50,1275.16 190.70,1275.00 190.90,1274.83 191.10,1274.67 191.30,1274.51 191.50,1274.35 191.70,1274.19 191.90,1274.04 192.10,1273.89 192.30,1273.74 192.50,1273.59 192.70,1273.44 192.90,1273.30 193.10,1273.16 193.30,1273.02 193.50,1272.88 193.70,1272.74 193.90,1272.61 194.10,1272.48 194.30,1272.35 194.50,1272.22 194.70,1272.09 195.10,1271.84 195.90,1271.36 196.70,1270.90 197.50,1270.46 198.30,1270.04 199.10,1269.63 199.90,1269.25 200.70,1268.87 201.50,1268.51 202.30,1268.17 203.10,1267.83 203.90,1267.51 204.70,1267.19 205.50,1266.89 206.30,1266.59 207.10,1266.31 207.90,1266.03 208.70,1265.76 209.50,1265.49 210.30,1265.24 211.10,1264.99 211.90,1264.75 212.70,1264.51 213.50,1264.28 214.30,1264.06 215.10,1263.84 215.90,1263.62 216.70,1263.41 217.50,1263.21 218.30,1263.01 219.10,1262.82 219.90,1262.63 220.70,1262.44 221.50,1262.26 222.30,1262.09 223.10,1261.91 223.90,1261.75 224.70,1261.58 225.50,1261.42 226.30,1261.26 227.10,1261.11 227.90,1260.96 228.70,1260.81 229.50,1260.67 230.30,1260.53 231.10,1260.39 231.90,1260.26 232.70,1260.13 233.50,1260.00 234.30,1259.87 235.10,1259.75 235.90,1259.63 236.70,1259.51 237.50,1259.40 238.30,1259.29 239.10,1259.18 239.90,1259.07 240.70,1258.96 241.50,1258.86 242.30,1258.76 243.10,1258.66 243.90,1258.57 244.70,1258.47 245.50,1258.38 246.30,1258.29 247.10,1258.20 247.90,1258.12 248.70,1258.03 249.50,1257.95 250.30,1257.87 251.10,1257.79 251.90,1257.72 252.70,1257.64 253.50,1257.57 254.30,1257.50 255.10,1257.43 255.90,1257.36 256.70,1257.29 257.50,1257.22 258.30,1257.16 259.10,1257.10 259.90,1257.04 260.70,1256.98 261.50,1256.92 262.30,1256.86 263.10,1256.80 263.90,1256.75 264.70,1256.69 265.50,1256.64 266.30,1256.59 267.10,1256.54 267.90,1256.49 268.70,1256.44 269.50,1256.40 270.30,1256.35 271.10,1256.30 271.90,1256.26 272.70,1256.22 273.50,1256.17 274.30,1256.13 275.10,1256.09 275.30,1256.08" fill="none" stroke="#000" stroke-width="0.8" stroke-opacity="0.85" stroke-linejoin="round"/>
<polyline points="157.50,1256.36 157.70,1257.96 157.90,1260.07 158.10,1262.71 158.30,1265.92 158.50,1269.43 158.70,1273.15 158.90,1277.05 159.10,1281.10 159.30,1285.29 159.50,1289.60 159.70,1294.02 159.90,1298.55 160.10,1303.18 160.30,1307.89 160.50,1312.70 160.70,1317.58 160.90,1322.54 161.10,1327.58 161.30,1332.69 161.50,1337.87 161.70,1343.11 161.90,1348.41 162.10,1353.78 162.30,1359.21 162.50,1364.69 162.70,1370.23 162.90,1375.82 163.10,1381.46 163.30,1387.16 163.50,1392.90 163.70,1398.70 163.90,1403.02 164.10,1405.88 164.30,1407.30 164.50,1407.29 164.70,1405.87 164.90,1403.04 165.10,1398.82 165.30,1394.75 165.50,1390.80 165.70,1386.99 165.90,1383.31 166.10,1379.74 166.30,1376.30 166.50,1372.96 166.70,1369.74 166.90,1366.62 167.10,1363.61 167.30,1360.70 167.50,1357.88 167.70,1355.15 167.90,1352.51 168.10,1349.96 168.30,1347.49 168.50,1345.10 168.70,1342.79 168.90,1340.55 169.10,1338.39 169.30,1336.29 169.50,1334.27 169.70,1332.30 169.90,1330.41 170.10,1328.57 170.30,1326.79 170.50,1325.07 170.70,1323.40 170.90,1321.78 171.10,1320.22 171.30,1318.71 171.50,1317.24 171.70,1315.82 171.90,1314.44 172.10,1313.11 172.30,1311.82 172.50,1310.57 172.70,1309.36 172.90,1308.18 173.10,1307.05 173.30,1305.94 173.50,1304.87 173.70,1303.84 173.90,1302.83 174.10,1301.86 174.30,1300.91 174.50,1300.00 174.70,1299.11 174.90,1298.25 175.10,1297.41 175.30,1296.60 175.50,1295.81 175.70,1295.05 175.90,1294.30 176.10,1293.58 176.30,1292.88 176.50,1292.20 176.70,1291.55 176.90,1290.90 177.10,1290.28 177.30,1289.68 177.50,1289.09 177.70,1288.52 177.90,1287.96 178.10,1287.43 178.30,1286.90 178.50,1286.39 178.70,1285.90 178.90,1285.41 179.10,1284.94 179.30,1284.49 179.50,1284.04 179.70,1283.61 179.90,1283.19 180.10,1282.78 180.30,1282.38 180.50,1281.99 180.70,1281.61 180.90,1281.24 181.10,1280.88 181.30,1280.53 181.50,1280.19 181.70,1279.85 181.90,1279.53 182.10,1279.21 182.30,1278.90 182.50,1278.60 182.70,1278.30 182.90,1278.02 183.10,1277.73 183.30,1277.46 183.50,1277.19 183.70,1276.93 183.90,1276.67 184.10,1276.42 184.30,1276.18 184.50,1275.94 184.70,1275.70 184.90,1275.47 185.10,1275.25 185.30,1275.03 185.50,1274.82 185.70,1274.60 185.90,1274.40 186.10,1274.20 186.30,1274.00 186.50,1273.81 186.70,1273.62 186.90,1273.43 187.10,1273.25 187.30,1273.07 187.50,1272.89 187.70,1272.72 187.90,1272.55 188.10,1272.38 188.30,1272.22 188.50,1272.06 188.70,1271.90 188.90,1271.75 189.10,1271.60 189.30,1271.45 189.50,1271.30 189.70,1271.16 189.90,1271.01 190.10,1270.87 190.30,1270.74 190.50,1270.60 190.70,1270.47 190.90,1270.34 191.10,1270.21 191.30,1270.08 191.50,1269.96 191.70,1269.83 191.90,1269.71 192.10,1269.59 192.30,1269.47 192.50,1269.36 192.70,1269.24 192.90,1269.13 193.10,1269.02 193.30,1268.91 193.50,1268.80 193.70,1268.69 193.90,1268.59 194.10,1268.48 194.30,1268.38 195.10,1267.98 195.90,1267.60 196.70,1267.23 197.50,1266.88 198.30,1266.55 199.10,1266.23 199.90,1265.92 200.70,1265.62 201.50,1265.34 202.30,1265.06 203.10,1264.79 203.90,1264.53 204.70,1264.28 205.50,1264.04 206.30,1263.80 207.10,1263.57 207.90,1263.35 208.70,1263.13 209.50,1262.92 210.30,1262.71 211.10,1262.51 211.90,1262.32 212.70,1262.13 213.50,1261.94 214.30,1261.76 215.10,1261.59 215.90,1261.42 216.70,1261.25 217.50,1261.09 218.30,1260.93 219.10,1260.77 219.90,1260.62 220.70,1260.47 221.50,1260.33 222.30,1260.19 223.10,1260.05 223.90,1259.92 224.70,1259.79 225.50,1259.66 226.30,1259.53 227.10,1259.41 227.90,1259.29 228.70,1259.18 229.50,1259.06 230.30,1258.95 231.10,1258.84 231.90,1258.74 232.70,1258.63 233.50,1258.53 234.30,1258.43 235.10,1258.34 235.90,1258.24 236.70,1258.15 237.50,1258.06 238.30,1257.98 239.10,1257.89 239.90,1257.81 240.70,1257.72 241.50,1257.64 242.30,1257.57 243.10,1257.49 243.90,1257.42 244.70,1257.34 245.50,1257.27 246.30,1257.20 247.10,1257.14 247.90,1257.07 248.70,1257.01 249.50,1256.94 250.30,1256.88 251.10,1256.82 251.90,1256.76 252.70,1256.71 253.50,1256.65 254.30,1256.60 255.10,1256.54 255.90,1256.49 256.70,1256.44 257.50,1256.39 258.30,1256.34 259.10,1256.29 259.90,1256.25 260.70,1256.20 261.50,1256.16 262.30,1256.11 263.10,1256.07 263.90,1256.03 264.70,1255.99 265.50,1255.95 266.30,1255.91 267.10,1255.88 267.90,1255.84 268.70,1255.80 269.50,1255.77 270.30,1255.73 271.10,1255.70 271.90,1255.67 272.70,1255.64 273.50,1255.61 274.30,1255.57 275.10,1255.55 275.30,1255.54" fill="none" stroke="#000" stroke-width="0.8" stroke-opacity="0.85" stroke-linejoin="round"/>
<polyline points="157.50,1256.08 157.70,1257.45 157.90,1259.26 158.10,1261.54 158.30,1264.30 158.50,1267.32 158.70,1270.52 158.90,1273.88 159.10,1277.36 159.30,1280.97 159.50,1284.68 159.70,1288.48 159.90,1292.38 160.10,1296.36 160.30,1300.42 160.50,1304.55 160.70,1308.75 160.90,1313.02 161.10,1317.36 161.30,1321.75 161.50,1326.21 161.70,1330.72 161.90,1335.28 162.10,1339.90 162.30,1344.57 162.50,1349.29 162.70,1354.05 162.90,1358.86 163.10,1363.72 163.30,1368.62 163.50,1373.56 163.70,1378.55 163.90,1383.57 164.10,1388.64 164.30,1393.74 164.50,1398.24 164.70,1401.49 164.90,1403.51 165.10,1404.30 165.30,1403.88 165.50,1402.24 165.70,1399.41 165.90,1396.03 166.10,1392.75 166.30,1389.56 166.50,1386.46 166.70,1383.44 166.90,1380.51 167.10,1377.67 167.30,1374.90 167.50,1372.21 167.70,1369.60 167.90,1367.06 168.10,1364.59 168.30,1362.20 168.50,1359.86 168.70,1357.60 168.90,1355.39 169.10,1353.25 169.30,1351.16 169.50,1349.14 169.70,1347.17 169.90,1345.25 170.10,1343.39 170.30,1341.58 170.50,1339.81 170.70,1338.10 170.90,1336.43 171.10,1334.81 171.30,1333.23 171.50,1331.70 171.70,1330.20 171.90,1328.75 172.10,1327.34 172.30,1325.96 172.50,1324.62 172.70,1323.32 172.90,1322.05 173.10,1320.81 173.30,1319.61 173.50,1318.44 173.70,1317.30 173.90,1316.19 174.10,1315.11 174.30,1314.06 174.50,1313.03 174.70,1312.03 174.90,1311.06 175.10,1310.11 175.30,1309.19 175.50,1308.29 175.70,1307.41 175.90,1306.56 176.10,1305.73 176.30,1304.91 176.50,1304.12 176.70,1303.35 176.90,1302.60 177.10,1301.87 177.30,1301.15 177.50,1300.45 177.70,1299.77 177.90,1299.11 178.10,1298.46 178.30,1297.83 178.50,1297.21 178.70,1296.61 178.90,1296.02 179.10,1295.45 179.30,1294.89 179.50,1294.34 179.70,1293.81 179.90,1293.29 180.10,1292.78 180.30,1292.28 180.50,1291.80 180.70,1291.32 180.90,1290.86 181.10,1290.40 181.30,1289.96 181.50,1289.53 181.70,1289.10 181.90,1288.69 182.10,1288.28 182.30,1287.89 182.50,1287.50 182.70,1287.12 182.90,1286.75 183.10,1286.38 183.30,1286.03 183.50,1285.68 183.70,1285.34 183.90,1285.00 184.10,1284.68 184.30,1284.36 184.50,1284.04 184.70,1283.73 184.90,1283.43 185.10,1283.14 185.30,1282.85 185.50,1282.56 185.70,1282.28 185.90,1282.01 186.10,1281.74 186.30,1281.48 186.50,1281.22 186.70,1280.97 186.90,1280.72 187.10,1280.47 187.30,1280.23 187.50,1280.00 187.70,1279.77 187.90,1279.54 188.10,1279.32 188.30,1279.10 188.50,1278.88 188.70,1278.67 188.90,1278.46 189.10,1278.26 189.30,1278.06 189.50,1277.86 189.70,1277.66 189.90,1277.47 190.10,1277.28 190.30,1277.10 190.50,1276.92 190.70,1276.74 190.90,1276.56 191.10,1276.38 191.30,1276.21 191.50,1276.04 191.70,1275.88 191.90,1275.71 192.10,1275.55 192.30,1275.39 192.50,1275.23 192.70,1275.08 192.90,1274.93 193.10,1274.78 193.30,1274.63 193.50,1274.48 193.70,1274.34 193.90,1274.19 194.10,1274.05 194.30,1273.91 194.50,1273.78 194.70,1273.64 194.90,1273.51 195.10,1273.37 195.90,1272.86 196.70,1272.37 197.50,1271.90 198.30,1271.46 199.10,1271.03 199.90,1270.62 200.70,1270.22 201.50,1269.84 202.30,1269.47 203.10,1269.12 203.90,1268.78 204.70,1268.44 205.50,1268.12 206.30,1267.81 207.10,1267.51 207.90,1267.21 208.70,1266.93 209.50,1266.65 210.30,1266.38 211.10,1266.12 211.90,1265.86 212.70,1265.61 213.50,1265.37 214.30,1265.13 215.10,1264.90 215.90,1264.67 216.70,1264.45 217.50,1264.23 218.30,1264.02 219.10,1263.82 219.90,1263.62 220.70,1263.42 221.50,1263.23 222.30,1263.04 223.10,1262.85 223.90,1262.67 224.70,1262.50 225.50,1262.33 226.30,1262.16 227.10,1261.99 227.90,1261.83 228.70,1261.67 229.50,1261.52 230.30,1261.37 231.10,1261.22 231.90,1261.08 232.70,1260.94 233.50,1260.80 234.30,1260.66 235.10,1260.53 235.90,1260.40 236.70,1260.27 237.50,1260.15 238.30,1260.02 239.10,1259.90 239.90,1259.79 240.70,1259.67 241.50,1259.56 242.30,1259.45 243.10,1259.34 243.90,1259.24 244.70,1259.14 245.50,1259.04 246.30,1258.94 247.10,1258.84 247.90,1258.75 248.70,1258.65 249.50,1258.56 250.30,1258.47 251.10,1258.39 251.90,1258.30 252.70,1258.22 253.50,1258.14 254.30,1258.06 255.10,1257.98 255.90,1257.90 256.70,1257.83 257.50,1257.75 258.30,1257.68 259.10,1257.61 259.90,1257.54 260.70,1257.47 261.50,1257.41 262.30,1257.34 263.10,1257.28 263.90,1257.22 264.70,1257.16 265.50,1257.10 266.30,1257.04 267.10,1256.98 267.90,1256.93 268.70,1256.87 269.50,1256.82 270.30,1256.77 271.10,1256.71 271.90,1256.66 272.70,1256.61 273.50,1256.57 274.30,1256.52 275.10,1256.47 275.30,1256.46" fill="none" stroke="#000" stroke-width="0.8" stroke-opacity="0.85" stroke-linejoin="round"/>
<polyline points="157.50,1256.28 157.70,1257.80 157.90,1259.82 158.10,1262.35 158.30,1265.42 158.50,1268.78 158.70,1272.34 158.90,1276.07 159.10,1279.95 159.30,1283.96 159.50,1288.08 159.70,1292.32 159.90,1296.65 160.10,1301.07 160.30,1305.59 160.50,1310.18 160.70,1314.86 160.90,1319.61 161.10,1324.43 161.30,1329.32 161.50,1334.27 161.70,1339.29 161.90,1344.37 162.10,1349.50 162.30,1354.69 162.50,1359.94 162.70,1365.24 162.90,1370.59 163.10,1375.99 163.30,1381.44 163.50,1386.94 163.70,1392.48 163.90,1398.07 164.10,1402.94 164.30,1406.34 164.50,1408.29 164.70,1408.80 164.90,1407.89 165.10,1405.58 165.30,1401.87 165.50,1397.55 165.70,1393.38 165.90,1389.35 166.10,1385.46 166.30,1381.71 166.50,1378.08 166.70,1374.58 166.90,1371.19 167.10,1367.92 167.30,1364.76 167.50,1361.71 167.70,1358.77 167.90,1355.92 168.10,1353.17 168.30,1350.51 168.50,1347.94 168.70,1345.46 168.90,1343.07 169.10,1340.75 169.30,1338.51 169.50,1336.34 169.70,1334.25 169.90,1332.23 170.10,1330.27 170.30,1328.38 170.50,1326.55 170.70,1324.78 170.90,1323.07 171.10,1321.42 171.30,1319.82 171.50,1318.27 171.70,1316.77 171.90,1315.33 172.10,1313.92 172.30,1312.57 172.50,1311.26 172.70,1309.99 172.90,1308.76 173.10,1307.57 173.30,1306.42 173.50,1305.30 173.70,1304.22 173.90,1303.18 174.10,1302.16 174.30,1301.18 174.50,1300.23 174.70,1299.31 174.90,1298.42 175.10,1297.55 175.30,1296.71 175.50,1295.90 175.70,1295.11 175.90,1294.35 176.10,1293.61 176.30,1292.89 176.50,1292.19 176.70,1291.52 176.90,1290.86 177.10,1290.22 177.30,1289.60 177.50,1289.00 177.70,1288.42 177.90,1287.86 178.10,1287.31 178.30,1286.77 178.50,1286.25 178.70,1285.75 178.90,1285.26 179.10,1284.78 179.30,1284.32 179.50,1283.87 179.70,1283.43 179.90,1283.01 180.10,1282.59 180.30,1282.19 180.50,1281.80 180.70,1281.41 180.90,1281.04 181.10,1280.68 181.30,1280.33 181.50,1279.98 181.70,1279.65 181.90,1279.32 182.10,1279.00 182.30,1278.69 182.50,1278.39 182.70,1278.09 182.90,1277.80 183.10,1277.52 183.30,1277.25 183.50,1276.98 183.70,1276.71 183.90,1276.46 184.10,1276.21 184.30,1275.96 184.50,1275.72 184.70,1275.49 184.90,1275.26 185.10,1275.04 185.30,1274.82 185.50,1274.60 185.70,1274.39 185.90,1274.19 186.10,1273.99 186.30,1273.79 186.50,1273.60 186.70,1273.41 186.90,1273.22 187.10,1273.04 187.30,1272.86 187.50,1272.69 187.70,1272.52 187.90,1272.35 188.10,1272.18 188.30,1272.02 188.50,1271.86 188.70,1271.70 188.90,1271.55 189.10,1271.40 189.30,1271.25 189.50,1271.10 189.70,1270.96 189.90,1270.82 190.10,1270.68 190.30,1270.54 190.50,1270.41 190.70,1270.28 190.90,1270.15 191.10,1270.02 191.30,1269.89 191.50,1269.77 191.70,1269.64 191.90,1269.52 192.10,1269.40 192.30,1269.29 192.50,1269.17 192.70,1269.06 192.90,1268.94 193.10,1268.83 193.30,1268.72 193.50,1268.62 193.70,1268.51 193.90,1268.40 194.10,1268.30 194.30,1268.20 194.50,1268.09 195.10,1267.80 195.90,1267.42 196.70,1267.05 197.50,1266.70 198.30,1266.37 199.10,1266.05 199.90,1265.74 200.70,1265.44 201.50,1265.16 202.30,1264.88 203.10,1264.61 203.90,1264.35 204.70,1264.10 205.50,1263.85 206.30,1263.61 207.10,1263.38 207.90,1263.16 208.70,1262.94 209.50,1262.73 210.30,1262.52 211.10,1262.32 211.90,1262.13 212.70,1261.94 213.50,1261.75 214.30,1261.57 215.10,1261.40 215.90,1261.23 216.70,1261.06 217.50,1260.89 218.30,1260.74 219.10,1260.58 219.90,1260.43 220.70,1260.28 221.50,1260.14 222.30,1260.00 223.10,1259.86 223.90,1259.73 224.70,1259.60 225.50,1259.47 226.30,1259.35 227.10,1259.23 227.90,1259.11 228.70,1258.99 229.50,1258.88 230.30,1258.77 231.10,1258.66 231.90,1258.56 232.70,1258.46 233.50,1258.36 234.30,1258.26 235.10,1258.16 235.90,1258.07 236.70,1257.98 237.50,1257.89 238.30,1257.81 239.10,1257.72 239.90,1257.64 240.70,1257.56 241.50,1257.48 242.30,1257.41 243.10,1257.33 243.90,1257.26 244.70,1257.19 245.50,1257.12 246.30,1257.05 247.10,1256.99 247.90,1256.92 248.70,1256.86 249.50,1256.80 250.30,1256.74 251.10,1256.68 251.90,1256.62 252.70,1256.57 253.50,1256.51 254.30,1256.46 255.10,1256.41 255.90,1256.36 256.70,1256.31 257.50,1256.26 258.30,1256.21 259.10,1256.17 259.90,1256.12 260.70,1256.08 261.50,1256.04 262.30,1255.99 263.10,1255.95 263.90,1255.91 264.70,1255.88 265.50,1255.84 266.30,1255.80 267.10,1255.77 267.90,1255.73 268.70,1255.70 269.50,1255.66 270.30,1255.63 271.10,1255.60 271.90,1255.57 272.70,1255.54 273.50,1255.51 274.30,1255.48 275.10,1255.45 275.30,1255.44" fill="none" stroke="#000" stroke-width="0.8" stroke-opacity="0.85" stroke-linejoin="round"/>
<line x1="324.50" y1="1254.30" x2="443.25" y2="1254.30" stroke="#000" stroke-width="1.6"/>
<path d="M400,1253.5 L443.25,1252.8 L443.25,1256.0 L405,1255.1 Z" fill="#000" stroke="#000" stroke-width="0.3"/>
<path d="M324.2,1248 L325.2,1248 L326,1258 L324.6,1258 Z" fill="#000" stroke="#000" stroke-width="0.5"/>
<polyline points="325.00,1255.00 325.20,1255.21 325.40,1255.43 325.60,1255.69 325.80,1255.98 326.00,1256.30 326.20,1256.65 326.40,1257.03 326.60,1257.44 326.80,1257.88 327.00,1258.35 327.20,1258.83 327.40,1259.32 327.60,1259.83 327.80,1260.35 328.00,1260.88 328.20,1261.41 328.40,1261.96 328.60,1262.52 328.80,1263.08 329.00,1263.65 329.20,1264.23 329.40,1264.82 329.60,1265.41 329.80,1265.98 330.00,1266.50 330.20,1266.98 330.40,1267.43 330.60,1267.83 330.80,1268.19 331.00,1268.50 331.20,1268.78 331.40,1269.01 331.60,1269.19 331.80,1269.34 332.00,1269.43 332.20,1269.49 332.40,1269.50 332.60,1269.47 332.80,1269.39 333.00,1269.26 333.20,1269.13 333.40,1268.99 333.60,1268.86 333.80,1268.73 334.00,1268.60 334.20,1268.47 334.40,1268.34 334.60,1268.21 334.80,1268.09 335.00,1267.96 335.20,1267.84 335.40,1267.71 335.60,1267.59 335.80,1267.47 336.00,1267.35 336.20,1267.24 336.40,1267.12 336.60,1267.00 336.80,1266.89 337.00,1266.77 337.20,1266.66 337.40,1266.55 337.60,1266.44 337.80,1266.33 338.00,1266.22 338.20,1266.11 338.40,1266.00 338.60,1265.90 338.80,1265.79 339.00,1265.69 339.20,1265.59 339.40,1265.48 339.60,1265.38 339.80,1265.28 340.00,1265.18 340.20,1265.09 340.40,1264.99 340.60,1264.89 340.80,1264.79 341.00,1264.70 341.20,1264.61 341.40,1264.51 341.60,1264.42 341.80,1264.33 342.00,1264.24 342.20,1264.15 342.40,1264.06 342.60,1263.97 342.80,1263.88 343.00,1263.80 343.20,1263.71 343.40,1263.63 343.60,1263.54 343.80,1263.46 344.00,1263.37 344.20,1263.29 344.40,1263.21 344.60,1263.13 344.80,1263.05 345.00,1262.97 345.20,1262.89 345.40,1262.81 345.60,1262.74 345.80,1262.66 346.00,1262.59 346.20,1262.51 346.40,1262.44 346.60,1262.36 346.80,1262.29 347.00,1262.22 347.20,1262.15 347.40,1262.07 347.60,1262.00 347.80,1261.93 348.00,1261.87 348.20,1261.80 348.40,1261.73 348.60,1261.66 348.80,1261.60 349.00,1261.53 349.20,1261.46 349.40,1261.40 349.60,1261.33 349.80,1261.27 350.00,1261.21 350.20,1261.15 350.40,1261.08 350.60,1261.02 350.80,1260.96 351.00,1260.90 351.20,1260.84 351.40,1260.78 351.60,1260.72 351.80,1260.67 352.00,1260.61 352.20,1260.55 352.40,1260.49 352.60,1260.44 352.80,1260.38 353.00,1260.33 353.20,1260.27 353.40,1260.22 353.60,1260.17 353.80,1260.11 354.00,1260.06 354.20,1260.01 354.40,1259.96 354.60,1259.90 354.80,1259.85 355.00,1259.80 355.20,1259.75 355.40,1259.70 355.60,1259.66 355.80,1259.61 356.00,1259.56 356.20,1259.51 356.40,1259.46 356.60,1259.42 356.80,1259.37 357.00,1259.33 357.20,1259.28 357.40,1259.23 357.60,1259.19 357.80,1259.15 358.00,1259.10 358.20,1259.06 358.40,1259.02 358.60,1258.97 358.80,1258.93 359.00,1258.89 359.20,1258.85 359.40,1258.81 359.60,1258.77 359.80,1258.72 360.00,1258.68 360.20,1258.65 360.40,1258.61 360.60,1258.57 360.80,1258.53 361.00,1258.49 361.20,1258.45 361.80,1258.34 362.60,1258.20 363.40,1258.06 364.20,1257.92 365.00,1257.79 365.80,1257.67 366.60,1257.55 367.40,1257.43 368.20,1257.32 369.00,1257.21 369.80,1257.11 370.60,1257.01 371.40,1256.91 372.20,1256.82 373.00,1256.73 373.80,1256.64 374.60,1256.56 375.40,1256.48 376.20,1256.40 377.00,1256.32 377.80,1256.25 378.60,1256.18 379.40,1256.12 380.20,1256.05 381.00,1255.99 381.80,1255.93 382.60,1255.87 383.40,1255.81 384.20,1255.76 385.00,1255.71 385.80,1255.66 386.60,1255.61 387.40,1255.56 388.20,1255.52 389.00,1255.47 389.80,1255.43 390.60,1255.39 391.40,1255.35 392.20,1255.31 393.00,1255.28 393.80,1255.24 394.60,1255.21 395.40,1255.18 396.20,1255.15 397.00,1255.12 397.80,1255.09 398.60,1255.06 399.40,1255.03 400.20,1255.01 401.00,1254.98 401.80,1254.96 402.60,1254.93 403.40,1254.91 404.20,1254.89 405.00,1254.87 405.80,1254.85 406.60,1254.83 407.40,1254.81 408.20,1254.79 409.00,1254.77 409.80,1254.76 410.60,1254.74 411.40,1254.72 412.20,1254.71 413.00,1254.69 413.80,1254.68 414.60,1254.67 415.40,1254.65 416.20,1254.64 417.00,1254.63 417.80,1254.62 418.60,1254.61 419.40,1254.59 420.20,1254.58 421.00,1254.57 421.80,1254.56 422.60,1254.55 423.40,1254.55 424.20,1254.54 425.00,1254.53 425.80,1254.52 426.60,1254.51 427.40,1254.50 428.20,1254.50 429.00,1254.49 429.80,1254.48" fill="none" stroke="#f00" stroke-width="1.0" stroke-opacity="1.0" stroke-linejoin="round"/>
<polyline points="325.00,1256.41 325.20,1258.05 325.40,1260.21 325.60,1262.92 325.80,1266.20 326.00,1269.80 326.20,1273.61 326.40,1277.61 326.60,1281.76 326.80,1286.04 327.00,1290.46 327.20,1294.99 327.40,1299.63 327.60,1304.37 327.80,1309.20 328.00,1314.12 328.20,1319.12 328.40,1324.20 328.60,1329.36 328.80,1334.60 329.00,1339.32 329.20,1342.95 329.40,1345.49 329.60,1346.94 329.80,1347.30 330.00,1346.57 330.20,1344.76 330.40,1342.43 330.60,1340.18 330.80,1338.00 331.00,1335.89 331.20,1333.84 331.40,1331.86 331.60,1329.94 331.80,1328.07 332.00,1326.26 332.20,1324.51 332.40,1322.82 332.60,1321.17 332.80,1319.57 333.00,1318.03 333.20,1316.53 333.40,1315.07 333.60,1313.66 333.80,1312.29 334.00,1310.97 334.20,1309.68 334.40,1308.43 334.60,1307.22 334.80,1306.05 335.00,1304.91 335.20,1303.80 335.40,1302.73 335.60,1301.69 335.80,1300.68 336.00,1299.70 336.20,1298.75 336.40,1297.82 336.60,1296.93 336.80,1296.06 337.00,1295.21 337.20,1294.39 337.40,1293.59 337.60,1292.82 337.80,1292.06 338.00,1291.33 338.20,1290.62 338.40,1289.93 338.60,1289.26 338.80,1288.61 339.00,1287.98 339.20,1287.36 339.40,1286.76 339.60,1286.18 339.80,1285.62 340.00,1285.07 340.20,1284.53 340.40,1284.01 340.60,1283.50 340.80,1283.01 341.00,1282.53 341.20,1282.07 341.40,1281.61 341.60,1281.17 341.80,1280.74 342.00,1280.32 342.20,1279.91 342.40,1279.51 342.60,1279.13 342.80,1278.75 343.00,1278.38 343.20,1278.02 343.40,1277.67 343.60,1277.33 343.80,1277.00 344.00,1276.68 344.20,1276.36 344.40,1276.05 344.60,1275.75 344.80,1275.46 345.00,1275.17 345.20,1274.89 345.40,1274.62 345.60,1274.36 345.80,1274.10 346.00,1273.84 346.20,1273.59 346.40,1273.35 346.60,1273.11 346.80,1272.88 347.00,1272.66 347.20,1272.43 347.40,1272.22 347.60,1272.01 347.80,1271.80 348.00,1271.60 348.20,1271.40 348.40,1271.20 348.60,1271.01 348.80,1270.83 349.00,1270.65 349.20,1270.47 349.40,1270.29 349.60,1270.12 349.80,1269.95 350.00,1269.79 350.20,1269.63 350.40,1269.47 350.60,1269.31 350.80,1269.16 351.00,1269.01 351.20,1268.87 351.40,1268.72 351.60,1268.58 351.80,1268.44 352.00,1268.31 352.20,1268.17 352.40,1268.04 352.60,1267.91 352.80,1267.79 353.00,1267.66 353.20,1267.54 353.40,1267.42 353.60,1267.30 353.80,1267.18 354.00,1267.07 354.20,1266.95 354.40,1266.84 354.60,1266.73 354.80,1266.63 355.00,1266.52 355.20,1266.42 355.40,1266.31 355.60,1266.21 355.80,1266.11 356.00,1266.01 356.20,1265.92 356.40,1265.82 356.60,1265.73 356.80,1265.64 357.00,1265.54 357.20,1265.45 357.40,1265.36 357.60,1265.28 357.80,1265.19 358.00,1265.10 358.20,1265.02 358.40,1264.94 358.60,1264.85 358.80,1264.77 359.00,1264.69 359.20,1264.61 359.40,1264.54 360.20,1264.23 361.00,1263.94 361.80,1263.66 362.60,1263.40 363.40,1263.14 364.20,1262.90 365.00,1262.66 365.80,1262.44 366.60,1262.22 367.40,1262.01 368.20,1261.80 369.00,1261.61 369.80,1261.42 370.60,1261.23 371.40,1261.05 372.20,1260.88 373.00,1260.71 373.80,1260.55 374.60,1260.39 375.40,1260.23 376.20,1260.08 377.00,1259.94 377.80,1259.80 378.60,1259.66 379.40,1259.52 380.20,1259.39 381.00,1259.27 381.80,1259.14 382.60,1259.02 383.40,1258.90 384.20,1258.79 385.00,1258.68 385.80,1258.57 386.60,1258.46 387.40,1258.36 388.20,1258.26 389.00,1258.16 389.80,1258.06 390.60,1257.97 391.40,1257.88 392.20,1257.79 393.00,1257.71 393.80,1257.62 394.60,1257.54 395.40,1257.46 396.20,1257.38 397.00,1257.30 397.80,1257.23 398.60,1257.16 399.40,1257.09 400.20,1257.02 401.00,1256.95 401.80,1256.89 402.60,1256.82 403.40,1256.76 404.20,1256.70 405.00,1256.64 405.80,1256.58 406.60,1256.53 407.40,1256.47 408.20,1256.42 409.00,1256.36 409.80,1256.31 410.60,1256.26 411.40,1256.22 412.20,1256.17 413.00,1256.12 413.80,1256.08 414.60,1256.03 415.40,1255.99 416.20,1255.95 417.00,1255.91 417.80,1255.87 418.60,1255.83 419.40,1255.79 420.20,1255.75 421.00,1255.72 421.80,1255.68 422.60,1255.65 423.40,1255.62 424.20,1255.58 425.00,1255.55 425.80,1255.52 426.60,1255.49 427.40,1255.46 428.20,1255.43 429.00,1255.40 429.80,1255.38 430.60,1255.35 431.40,1255.33 432.20,1255.30 433.00,1255.28 433.80,1255.25 434.60,1255.23 435.40,1255.20 436.20,1255.18 437.00,1255.16 437.80,1255.14 438.60,1255.12 439.40,1255.10 440.20,1255.08 441.00,1255.06 441.80,1255.04 442.60,1255.02 442.80,1255.02" fill="none" stroke="#000" stroke-width="0.8" stroke-opacity="0.9" stroke-linejoin="round"/>
<polyline points="325.00,1257.32 325.20,1259.66 325.40,1262.74 325.60,1266.61 325.80,1271.31 326.00,1276.45 326.20,1281.90 326.40,1287.61 326.60,1293.54 326.80,1299.66 327.00,1305.97 327.20,1312.45 327.40,1319.08 327.60,1325.85 327.80,1332.75 328.00,1339.78 328.20,1346.93 328.40,1354.20 328.60,1361.57 328.80,1369.05 329.00,1376.62 329.20,1384.30 329.40,1392.06 329.60,1398.14 329.80,1402.54 330.00,1405.25 330.20,1406.30 330.40,1405.68 330.60,1403.39 330.80,1399.45 331.00,1395.63 331.20,1391.93 331.40,1388.35 331.60,1384.88 331.80,1381.52 332.00,1378.26 332.20,1375.11 332.40,1372.05 332.60,1369.09 332.80,1366.22 333.00,1363.44 333.20,1360.74 333.40,1358.13 333.60,1355.60 333.80,1353.15 334.00,1350.77 334.20,1348.46 334.40,1346.23 334.60,1344.06 334.80,1341.97 335.00,1339.93 335.20,1337.96 335.40,1336.04 335.60,1334.19 335.80,1332.39 336.00,1330.64 336.20,1328.95 336.40,1327.31 336.60,1325.72 336.80,1324.17 337.00,1322.67 337.20,1321.22 337.40,1319.81 337.60,1318.44 337.80,1317.11 338.00,1315.82 338.20,1314.57 338.40,1313.36 338.60,1312.18 338.80,1311.03 339.00,1309.92 339.20,1308.84 339.40,1307.79 339.60,1306.77 339.80,1305.78 340.00,1304.82 340.20,1303.89 340.40,1302.98 340.60,1302.10 340.80,1301.25 341.00,1300.41 341.20,1299.60 341.40,1298.82 341.60,1298.05 341.80,1297.31 342.00,1296.58 342.20,1295.88 342.40,1295.20 342.60,1294.53 342.80,1293.88 343.00,1293.25 343.20,1292.64 343.40,1292.04 343.60,1291.46 343.80,1290.89 344.00,1290.34 344.20,1289.81 344.40,1289.28 344.60,1288.77 344.80,1288.28 345.00,1287.79 345.20,1287.32 345.40,1286.86 345.60,1286.42 345.80,1285.98 346.00,1285.55 346.20,1285.14 346.40,1284.73 346.60,1284.34 346.80,1283.95 347.00,1283.57 347.20,1283.21 347.40,1282.85 347.60,1282.50 347.80,1282.15 348.00,1281.82 348.20,1281.49 348.40,1281.17 348.60,1280.86 348.80,1280.55 349.00,1280.26 349.20,1279.96 349.40,1279.68 349.60,1279.40 349.80,1279.13 350.00,1278.86 350.20,1278.60 350.40,1278.34 350.60,1278.09 350.80,1277.84 351.00,1277.60 351.20,1277.37 351.40,1277.13 351.60,1276.91 351.80,1276.69 352.00,1276.47 352.20,1276.25 352.40,1276.04 352.60,1275.84 352.80,1275.64 353.00,1275.44 353.20,1275.24 353.40,1275.05 353.60,1274.87 353.80,1274.68 354.00,1274.50 354.20,1274.32 354.40,1274.15 354.60,1273.98 354.80,1273.81 355.00,1273.64 355.20,1273.48 355.40,1273.32 355.60,1273.16 355.80,1273.01 356.00,1272.85 356.20,1272.70 356.40,1272.55 356.60,1272.41 356.80,1272.26 357.00,1272.12 357.20,1271.98 357.40,1271.85 357.60,1271.71 357.80,1271.58 358.00,1271.44 358.20,1271.31 358.40,1271.19 358.60,1271.06 358.80,1270.94 359.00,1270.81 359.20,1270.69 359.40,1270.57 359.60,1270.45 359.80,1270.34 360.00,1270.22 360.20,1270.11 361.00,1269.67 361.80,1269.25 362.60,1268.84 363.40,1268.46 364.20,1268.09 365.00,1267.73 365.80,1267.39 366.60,1267.06 367.40,1266.75 368.20,1266.44 369.00,1266.14 369.80,1265.86 370.60,1265.58 371.40,1265.31 372.20,1265.05 373.00,1264.79 373.80,1264.55 374.60,1264.31 375.40,1264.07 376.20,1263.84 377.00,1263.62 377.80,1263.41 378.60,1263.20 379.40,1262.99 380.20,1262.79 381.00,1262.60 381.80,1262.41 382.60,1262.22 383.40,1262.04 384.20,1261.86 385.00,1261.69 385.80,1261.52 386.60,1261.36 387.40,1261.20 388.20,1261.04 389.00,1260.89 389.80,1260.74 390.60,1260.59 391.40,1260.45 392.20,1260.31 393.00,1260.17 393.80,1260.04 394.60,1259.91 395.40,1259.78 396.20,1259.66 397.00,1259.54 397.80,1259.42 398.60,1259.30 399.40,1259.19 400.20,1259.08 401.00,1258.97 401.80,1258.87 402.60,1258.76 403.40,1258.66 404.20,1258.56 405.00,1258.47 405.80,1258.37 406.60,1258.28 407.40,1258.19 408.20,1258.10 409.00,1258.02 409.80,1257.93 410.60,1257.85 411.40,1257.77 412.20,1257.69 413.00,1257.62 413.80,1257.54 414.60,1257.47 415.40,1257.40 416.20,1257.33 417.00,1257.26 417.80,1257.19 418.60,1257.13 419.40,1257.06 420.20,1257.00 421.00,1256.94 421.80,1256.88 422.60,1256.82 423.40,1256.76 424.20,1256.71 425.00,1256.65 425.80,1256.60 426.60,1256.55 427.40,1256.50 428.20,1256.45 429.00,1256.40 429.80,1256.35 430.60,1256.31 431.40,1256.26 432.20,1256.22 433.00,1256.17 433.80,1256.13 434.60,1256.09 435.40,1256.05 436.20,1256.01 437.00,1255.97 437.80,1255.93 438.60,1255.90 439.40,1255.86 440.20,1255.82 441.00,1255.79 441.80,1255.76 442.60,1255.72 442.80,1255.71" fill="none" stroke="#000" stroke-width="0.8" stroke-opacity="0.85" stroke-linejoin="round"/>
<polyline points="325.00,1257.07 325.20,1259.21 325.40,1262.03 325.60,1265.58 325.80,1269.88 326.00,1274.58 326.20,1279.58 326.40,1284.80 326.60,1290.23 326.80,1295.85 327.00,1301.63 327.20,1307.56 327.40,1313.62 327.60,1319.83 327.80,1326.15 328.00,1332.59 328.20,1339.14 328.40,1345.79 328.60,1352.54 328.80,1359.39 329.00,1366.33 329.20,1373.36 329.40,1380.47 329.60,1387.67 329.80,1394.11 330.00,1399.00 330.20,1402.32 330.40,1404.09 330.60,1404.30 330.80,1402.97 331.00,1400.09 331.20,1396.49 331.40,1393.01 331.60,1389.63 331.80,1386.34 332.00,1383.16 332.20,1380.07 332.40,1377.07 332.60,1374.16 332.80,1371.33 333.00,1368.59 333.20,1365.93 333.40,1363.35 333.60,1360.84 333.80,1358.41 334.00,1356.04 334.20,1353.75 334.40,1351.52 334.60,1349.36 334.80,1347.26 335.00,1345.22 335.20,1343.24 335.40,1341.32 335.60,1339.45 335.80,1337.64 336.00,1335.87 336.20,1334.16 336.40,1332.50 336.60,1330.89 336.80,1329.32 337.00,1327.79 337.20,1326.31 337.40,1324.87 337.60,1323.47 337.80,1322.11 338.00,1320.79 338.20,1319.50 338.40,1318.25 338.60,1317.04 338.80,1315.86 339.00,1314.71 339.20,1313.59 339.40,1312.50 339.60,1311.45 339.80,1310.42 340.00,1309.42 340.20,1308.45 340.40,1307.50 340.60,1306.58 340.80,1305.68 341.00,1304.81 341.20,1303.96 341.40,1303.13 341.60,1302.33 341.80,1301.54 342.00,1300.78 342.20,1300.04 342.40,1299.31 342.60,1298.61 342.80,1297.92 343.00,1297.25 343.20,1296.60 343.40,1295.96 343.60,1295.34 343.80,1294.74 344.00,1294.15 344.20,1293.57 344.40,1293.01 344.60,1292.47 344.80,1291.93 345.00,1291.41 345.20,1290.91 345.40,1290.41 345.60,1289.93 345.80,1289.46 346.00,1288.99 346.20,1288.54 346.40,1288.11 346.60,1287.68 346.80,1287.26 347.00,1286.85 347.20,1286.45 347.40,1286.06 347.60,1285.67 347.80,1285.30 348.00,1284.94 348.20,1284.58 348.40,1284.23 348.60,1283.89 348.80,1283.55 349.00,1283.23 349.20,1282.91 349.40,1282.59 349.60,1282.29 349.80,1281.98 350.00,1281.69 350.20,1281.40 350.40,1281.12 350.60,1280.84 350.80,1280.57 351.00,1280.31 351.20,1280.05 351.40,1279.79 351.60,1279.54 351.80,1279.29 352.00,1279.05 352.20,1278.82 352.40,1278.58 352.60,1278.36 352.80,1278.13 353.00,1277.91 353.20,1277.70 353.40,1277.49 353.60,1277.28 353.80,1277.07 354.00,1276.87 354.20,1276.68 354.40,1276.48 354.60,1276.29 354.80,1276.10 355.00,1275.92 355.20,1275.74 355.40,1275.56 355.60,1275.38 355.80,1275.21 356.00,1275.04 356.20,1274.87 356.40,1274.71 356.60,1274.54 356.80,1274.38 357.00,1274.23 357.20,1274.07 357.40,1273.92 357.60,1273.77 357.80,1273.62 358.00,1273.47 358.20,1273.33 358.40,1273.19 358.60,1273.04 358.80,1272.91 359.00,1272.77 359.20,1272.63 359.40,1272.50 359.60,1272.37 359.80,1272.24 360.00,1272.11 360.20,1271.98 361.00,1271.49 361.80,1271.03 362.60,1270.58 363.40,1270.15 364.20,1269.74 365.00,1269.35 365.80,1268.97 366.60,1268.60 367.40,1268.25 368.20,1267.91 369.00,1267.59 369.80,1267.27 370.60,1266.96 371.40,1266.66 372.20,1266.37 373.00,1266.09 373.80,1265.82 374.60,1265.56 375.40,1265.30 376.20,1265.05 377.00,1264.80 377.80,1264.57 378.60,1264.33 379.40,1264.11 380.20,1263.89 381.00,1263.67 381.80,1263.46 382.60,1263.26 383.40,1263.06 384.20,1262.86 385.00,1262.67 385.80,1262.49 386.60,1262.30 387.40,1262.13 388.20,1261.95 389.00,1261.78 389.80,1261.62 390.60,1261.46 391.40,1261.30 392.20,1261.14 393.00,1260.99 393.80,1260.85 394.60,1260.70 395.40,1260.56 396.20,1260.42 397.00,1260.29 397.80,1260.16 398.60,1260.03 399.40,1259.90 400.20,1259.78 401.00,1259.66 401.80,1259.54 402.60,1259.42 403.40,1259.31 404.20,1259.20 405.00,1259.09 405.80,1258.99 406.60,1258.88 407.40,1258.78 408.20,1258.68 409.00,1258.59 409.80,1258.49 410.60,1258.40 411.40,1258.31 412.20,1258.22 413.00,1258.14 413.80,1258.05 414.60,1257.97 415.40,1257.89 416.20,1257.81 417.00,1257.73 417.80,1257.66 418.60,1257.58 419.40,1257.51 420.20,1257.44 421.00,1257.37 421.80,1257.30 422.60,1257.24 423.40,1257.17 424.20,1257.11 425.00,1257.05 425.80,1256.99 426.60,1256.93 427.40,1256.87 428.20,1256.82 429.00,1256.76 429.80,1256.71 430.60,1256.65 431.40,1256.60 432.20,1256.55 433.00,1256.50 433.80,1256.45 434.60,1256.41 435.40,1256.36 436.20,1256.31 437.00,1256.27 437.80,1256.23 438.60,1256.18 439.40,1256.14 440.20,1256.10 441.00,1256.06 441.80,1256.02 442.60,1255.99 442.80,1255.98" fill="none" stroke="#000" stroke-width="0.8" stroke-opacity="0.85" stroke-linejoin="round"/>
<polyline points="325.00,1257.47 325.20,1259.92 325.40,1263.16 325.60,1267.22 325.80,1272.15 326.00,1277.54 326.20,1283.26 326.40,1289.25 326.60,1295.47 326.80,1301.90 327.00,1308.52 327.20,1315.32 327.40,1322.27 327.60,1329.37 327.80,1336.62 328.00,1343.99 328.20,1351.50 328.40,1359.12 328.60,1366.86 328.80,1374.70 329.00,1382.65 329.20,1390.71 329.40,1396.99 329.60,1401.51 329.80,1404.28 330.00,1405.30 330.20,1404.58 330.40,1402.12 330.60,1397.92 330.80,1393.87 331.00,1389.95 331.20,1386.17 331.40,1382.50 331.60,1378.96 331.80,1375.54 332.00,1372.23 332.20,1369.02 332.40,1365.93 332.60,1362.93 332.80,1360.03 333.00,1357.23 333.20,1354.52 333.40,1351.90 333.60,1349.36 333.80,1346.91 334.00,1344.53 334.20,1342.24 334.40,1340.01 334.60,1337.86 334.80,1335.78 335.00,1333.77 335.20,1331.82 335.40,1329.93 335.60,1328.11 335.80,1326.34 336.00,1324.63 336.20,1322.97 336.40,1321.36 336.60,1319.81 336.80,1318.31 337.00,1316.85 337.20,1315.44 337.40,1314.07 337.60,1312.75 337.80,1311.46 338.00,1310.22 338.20,1309.02 338.40,1307.85 338.60,1306.72 338.80,1305.62 339.00,1304.56 339.20,1303.53 339.40,1302.53 339.60,1301.56 339.80,1300.62 340.00,1299.71 340.20,1298.83 340.40,1297.97 340.60,1297.14 340.80,1296.33 341.00,1295.55 341.20,1294.79 341.40,1294.05 341.60,1293.34 341.80,1292.64 342.00,1291.97 342.20,1291.31 342.40,1290.68 342.60,1290.06 342.80,1289.46 343.00,1288.87 343.20,1288.31 343.40,1287.76 343.60,1287.22 343.80,1286.70 344.00,1286.19 344.20,1285.70 344.40,1285.22 344.60,1284.75 344.80,1284.30 345.00,1283.86 345.20,1283.43 345.40,1283.01 345.60,1282.60 345.80,1282.20 346.00,1281.82 346.20,1281.44 346.40,1281.07 346.60,1280.72 346.80,1280.37 347.00,1280.03 347.20,1279.70 347.40,1279.37 347.60,1279.06 347.80,1278.75 348.00,1278.45 348.20,1278.15 348.40,1277.87 348.60,1277.59 348.80,1277.32 349.00,1277.05 349.20,1276.79 349.40,1276.53 349.60,1276.28 349.80,1276.04 350.00,1275.80 350.20,1275.57 350.40,1275.34 350.60,1275.12 350.80,1274.90 351.00,1274.69 351.20,1274.48 351.40,1274.27 351.60,1274.07 351.80,1273.88 352.00,1273.68 352.20,1273.49 352.40,1273.31 352.60,1273.13 352.80,1272.95 353.00,1272.78 353.20,1272.60 353.40,1272.44 353.60,1272.27 353.80,1272.11 354.00,1271.95 354.20,1271.79 354.40,1271.64 354.60,1271.49 354.80,1271.34 355.00,1271.19 355.20,1271.05 355.40,1270.91 355.60,1270.77 355.80,1270.63 356.00,1270.50 356.20,1270.37 356.40,1270.24 356.60,1270.11 356.80,1269.98 357.00,1269.86 357.20,1269.74 357.40,1269.61 357.60,1269.50 357.80,1269.38 358.00,1269.26 358.20,1269.15 358.40,1269.04 358.60,1268.93 358.80,1268.82 359.00,1268.71 359.20,1268.60 359.40,1268.50 359.60,1268.39 359.80,1268.29 360.20,1268.09 361.00,1267.70 361.80,1267.33 362.60,1266.98 363.40,1266.64 364.20,1266.31 365.00,1266.00 365.80,1265.70 366.60,1265.41 367.40,1265.13 368.20,1264.86 369.00,1264.60 369.80,1264.34 370.60,1264.10 371.40,1263.86 372.20,1263.63 373.00,1263.40 373.80,1263.18 374.60,1262.97 375.40,1262.76 376.20,1262.56 377.00,1262.37 377.80,1262.17 378.60,1261.99 379.40,1261.81 380.20,1261.63 381.00,1261.46 381.80,1261.29 382.60,1261.13 383.40,1260.97 384.20,1260.81 385.00,1260.66 385.80,1260.51 386.60,1260.36 387.40,1260.22 388.20,1260.08 389.00,1259.95 389.80,1259.82 390.60,1259.69 391.40,1259.56 392.20,1259.44 393.00,1259.32 393.80,1259.20 394.60,1259.09 395.40,1258.98 396.20,1258.87 397.00,1258.76 397.80,1258.66 398.60,1258.56 399.40,1258.46 400.20,1258.36 401.00,1258.27 401.80,1258.17 402.60,1258.08 403.40,1258.00 404.20,1257.91 405.00,1257.83 405.80,1257.74 406.60,1257.66 407.40,1257.59 408.20,1257.51 409.00,1257.43 409.80,1257.36 410.60,1257.29 411.40,1257.22 412.20,1257.15 413.00,1257.09 413.80,1257.02 414.60,1256.96 415.40,1256.90 416.20,1256.84 417.00,1256.78 417.80,1256.72 418.60,1256.66 419.40,1256.61 420.20,1256.55 421.00,1256.50 421.80,1256.45 422.60,1256.40 423.40,1256.35 424.20,1256.30 425.00,1256.26 425.80,1256.21 426.60,1256.17 427.40,1256.12 428.20,1256.08 429.00,1256.04 429.80,1256.00 430.60,1255.96 431.40,1255.92 432.20,1255.88 433.00,1255.85 433.80,1255.81 434.60,1255.78 435.40,1255.74 436.20,1255.71 437.00,1255.68 437.80,1255.64 438.60,1255.61 439.40,1255.58 440.20,1255.55 441.00,1255.52 441.80,1255.49 442.60,1255.47 442.80,1255.46" fill="none" stroke="#000" stroke-width="0.8" stroke-opacity="0.85" stroke-linejoin="round"/>
<polyline points="325.00,1256.90 325.20,1258.91 325.40,1261.56 325.60,1264.89 325.80,1268.93 326.00,1273.35 326.20,1278.04 326.40,1282.95 326.60,1288.05 326.80,1293.32 327.00,1298.75 327.20,1304.32 327.40,1310.02 327.60,1315.84 327.80,1321.78 328.00,1327.83 328.20,1333.98 328.40,1340.23 328.60,1346.57 328.80,1353.01 329.00,1359.52 329.20,1366.12 329.40,1372.80 329.60,1379.56 329.80,1386.39 330.00,1392.52 330.20,1397.17 330.40,1400.35 330.60,1402.06 330.80,1402.30 331.00,1401.08 331.20,1398.40 331.40,1395.05 331.60,1391.78 331.80,1388.62 332.00,1385.54 332.20,1382.54 332.40,1379.64 332.60,1376.81 332.80,1374.06 333.00,1371.39 333.20,1368.80 333.40,1366.28 333.60,1363.83 333.80,1361.44 334.00,1359.13 334.20,1356.88 334.40,1354.69 334.60,1352.56 334.80,1350.49 335.00,1348.48 335.20,1346.52 335.40,1344.62 335.60,1342.77 335.80,1340.97 336.00,1339.22 336.20,1337.52 336.40,1335.86 336.60,1334.25 336.80,1332.68 337.00,1331.16 337.20,1329.68 337.40,1328.23 337.60,1326.83 337.80,1325.46 338.00,1324.13 338.20,1322.84 338.40,1321.58 338.60,1320.35 338.80,1319.16 339.00,1317.99 339.20,1316.86 339.40,1315.76 339.60,1314.69 339.80,1313.64 340.00,1312.62 340.20,1311.63 340.40,1310.66 340.60,1309.72 340.80,1308.81 341.00,1307.91 341.20,1307.04 341.40,1306.19 341.60,1305.37 341.80,1304.56 342.00,1303.78 342.20,1303.01 342.40,1302.26 342.60,1301.54 342.80,1300.83 343.00,1300.13 343.20,1299.46 343.40,1298.80 343.60,1298.15 343.80,1297.53 344.00,1296.91 344.20,1296.32 344.40,1295.73 344.60,1295.16 344.80,1294.61 345.00,1294.07 345.20,1293.54 345.40,1293.02 345.60,1292.51 345.80,1292.02 346.00,1291.54 346.20,1291.06 346.40,1290.60 346.60,1290.15 346.80,1289.71 347.00,1289.28 347.20,1288.86 347.40,1288.45 347.60,1288.05 347.80,1287.65 348.00,1287.27 348.20,1286.89 348.40,1286.52 348.60,1286.16 348.80,1285.81 349.00,1285.46 349.20,1285.12 349.40,1284.79 349.60,1284.46 349.80,1284.15 350.00,1283.83 350.20,1283.53 350.40,1283.23 350.60,1282.94 350.80,1282.65 351.00,1282.37 351.20,1282.09 351.40,1281.82 351.60,1281.55 351.80,1281.29 352.00,1281.03 352.20,1280.78 352.40,1280.53 352.60,1280.29 352.80,1280.05 353.00,1279.82 353.20,1279.59 353.40,1279.37 353.60,1279.14 353.80,1278.93 354.00,1278.71 354.20,1278.50 354.40,1278.30 354.60,1278.09 354.80,1277.89 355.00,1277.70 355.20,1277.50 355.40,1277.31 355.60,1277.12 355.80,1276.94 356.00,1276.76 356.20,1276.58 356.40,1276.40 356.60,1276.23 356.80,1276.06 357.00,1275.89 357.20,1275.73 357.40,1275.56 357.60,1275.40 357.80,1275.24 358.00,1275.09 358.20,1274.93 358.40,1274.78 358.60,1274.63 358.80,1274.49 359.00,1274.34 359.20,1274.20 359.40,1274.05 359.60,1273.91 359.80,1273.78 360.00,1273.64 360.20,1273.51 360.40,1273.37 361.00,1272.98 361.80,1272.49 362.60,1272.01 363.40,1271.56 364.20,1271.12 365.00,1270.71 365.80,1270.31 366.60,1269.92 367.40,1269.55 368.20,1269.19 369.00,1268.84 369.80,1268.51 370.60,1268.18 371.40,1267.87 372.20,1267.56 373.00,1267.27 373.80,1266.98 374.60,1266.70 375.40,1266.43 376.20,1266.16 377.00,1265.91 377.80,1265.65 378.60,1265.41 379.40,1265.17 380.20,1264.94 381.00,1264.71 381.80,1264.49 382.60,1264.27 383.40,1264.06 384.20,1263.85 385.00,1263.65 385.80,1263.45 386.60,1263.26 387.40,1263.07 388.20,1262.89 389.00,1262.71 389.80,1262.53 390.60,1262.36 391.40,1262.19 392.20,1262.02 393.00,1261.86 393.80,1261.70 394.60,1261.55 395.40,1261.39 396.20,1261.25 397.00,1261.10 397.80,1260.96 398.60,1260.82 399.40,1260.68 400.20,1260.55 401.00,1260.42 401.80,1260.29 402.60,1260.17 403.40,1260.04 404.20,1259.92 405.00,1259.81 405.80,1259.69 406.60,1259.58 407.40,1259.47 408.20,1259.36 409.00,1259.26 409.80,1259.15 410.60,1259.05 411.40,1258.95 412.20,1258.86 413.00,1258.76 413.80,1258.67 414.60,1258.58 415.40,1258.49 416.20,1258.40 417.00,1258.32 417.80,1258.23 418.60,1258.15 419.40,1258.07 420.20,1257.99 421.00,1257.91 421.80,1257.84 422.60,1257.76 423.40,1257.69 424.20,1257.62 425.00,1257.55 425.80,1257.49 426.60,1257.42 427.40,1257.35 428.20,1257.29 429.00,1257.23 429.80,1257.17 430.60,1257.11 431.40,1257.05 432.20,1256.99 433.00,1256.94 433.80,1256.88 434.60,1256.83 435.40,1256.77 436.20,1256.72 437.00,1256.67 437.80,1256.62 438.60,1256.57 439.40,1256.53 440.20,1256.48 441.00,1256.43 441.80,1256.39 442.60,1256.35 442.80,1256.34" fill="none" stroke="#000" stroke-width="0.8" stroke-opacity="0.85" stroke-linejoin="round"/>
<polyline points="418.25,1333.75 418.25,1367.00 441.25,1367.00" fill="none" stroke="#707070" stroke-width="1.0"/>
<g transform="translate(349.23,1360.75) scale(1.0000,1.012)"><text font-size="30.42" fill="#000">2 nA</text></g>
<g transform="translate(401.45,1394.50) scale(1.0000,1.012)"><text font-size="30.97" fill="#000">2 ms</text></g>
<g transform="translate(421.54,1019.80) scale(1.0000,1.012)"><text font-size="39.16" fill="#000">Slow inactivation</text></g>
<line x1="422.20" y1="1025.20" x2="712.70" y2="1025.20" stroke="#000" stroke-width="3.0"/>
<line x1="614.50" y1="1063.80" x2="614.50" y2="1345.00" stroke="#1a1a1a" stroke-width="1.35"/>
<line x1="611.30" y1="1344.40" x2="947.10" y2="1344.40" stroke="#1a1a1a" stroke-width="1.35"/>
<line x1="608.70" y1="1087.60" x2="614.50" y2="1087.60" stroke="#1a1a1a" stroke-width="1.1"/>
<line x1="608.70" y1="1134.35" x2="614.50" y2="1134.35" stroke="#1a1a1a" stroke-width="1.1"/>
<line x1="608.70" y1="1181.10" x2="614.50" y2="1181.10" stroke="#1a1a1a" stroke-width="1.1"/>
<line x1="608.70" y1="1227.85" x2="614.50" y2="1227.85" stroke="#1a1a1a" stroke-width="1.1"/>
<line x1="608.70" y1="1274.60" x2="614.50" y2="1274.60" stroke="#1a1a1a" stroke-width="1.1"/>
<line x1="608.70" y1="1321.35" x2="614.50" y2="1321.35" stroke="#1a1a1a" stroke-width="1.1"/>
<line x1="611.30" y1="1064.22" x2="614.50" y2="1064.22" stroke="#1a1a1a" stroke-width="1.0"/>
<line x1="611.30" y1="1110.97" x2="614.50" y2="1110.97" stroke="#1a1a1a" stroke-width="1.0"/>
<line x1="611.30" y1="1157.72" x2="614.50" y2="1157.72" stroke="#1a1a1a" stroke-width="1.0"/>
<line x1="611.30" y1="1204.47" x2="614.50" y2="1204.47" stroke="#1a1a1a" stroke-width="1.0"/>
<line x1="611.30" y1="1251.22" x2="614.50" y2="1251.22" stroke="#1a1a1a" stroke-width="1.0"/>
<line x1="611.30" y1="1297.97" x2="614.50" y2="1297.97" stroke="#1a1a1a" stroke-width="1.0"/>
<line x1="611.30" y1="1344.72" x2="614.50" y2="1344.72" stroke="#1a1a1a" stroke-width="1.0"/>
<line x1="645.00" y1="1344.40" x2="645.00" y2="1350.20" stroke="#1a1a1a" stroke-width="1.1"/>
<line x1="705.25" y1="1344.40" x2="705.25" y2="1350.20" stroke="#1a1a1a" stroke-width="1.1"/>
<line x1="765.50" y1="1344.40" x2="765.50" y2="1350.20" stroke="#1a1a1a" stroke-width="1.1"/>
<line x1="825.75" y1="1344.40" x2="825.75" y2="1350.20" stroke="#1a1a1a" stroke-width="1.1"/>
<line x1="886.00" y1="1344.40" x2="886.00" y2="1350.20" stroke="#1a1a1a" stroke-width="1.1"/>
<line x1="946.25" y1="1344.40" x2="946.25" y2="1350.20" stroke="#1a1a1a" stroke-width="1.1"/>
<line x1="614.88" y1="1344.40" x2="614.88" y2="1347.60" stroke="#1a1a1a" stroke-width="1.0"/>
<line x1="675.12" y1="1344.40" x2="675.12" y2="1347.60" stroke="#1a1a1a" stroke-width="1.0"/>
<line x1="735.38" y1="1344.40" x2="735.38" y2="1347.60" stroke="#1a1a1a" stroke-width="1.0"/>
<line x1="795.62" y1="1344.40" x2="795.62" y2="1347.60" stroke="#1a1a1a" stroke-width="1.0"/>
<line x1="855.88" y1="1344.40" x2="855.88" y2="1347.60" stroke="#1a1a1a" stroke-width="1.0"/>
<line x1="916.12" y1="1344.40" x2="916.12" y2="1347.60" stroke="#1a1a1a" stroke-width="1.0"/>
<g transform="translate(564.42,1098.41) scale(1.0450,1.038)"><text font-size="30.27" fill="#000">1.0</text><rect x="1.36" y="-4.24" width="6.20" height="4.99" fill="#fff"/><rect x="10.35" y="-4.24" width="5.75" height="4.99" fill="#fff"/></g>
<g transform="translate(564.58,1145.16) scale(1.0450,1.038)"><text font-size="30.27" fill="#000">0.8</text></g>
<g transform="translate(564.58,1191.91) scale(1.0450,1.038)"><text font-size="30.27" fill="#000">0.6</text></g>
<g transform="translate(564.10,1238.66) scale(1.0450,1.038)"><text font-size="30.27" fill="#000">0.4</text></g>
<g transform="translate(564.82,1285.41) scale(1.0450,1.038)"><text font-size="30.27" fill="#000">0.2</text></g>
<g transform="translate(564.42,1332.16) scale(1.0450,1.038)"><text font-size="30.27" fill="#000">0.0</text></g>
<g transform="translate(623.53,1381.50) scale(1.0450,1.038)"><text font-size="30.27" fill="#000">-80</text></g>
<g transform="translate(683.78,1381.50) scale(1.0450,1.038)"><text font-size="30.27" fill="#000">-60</text></g>
<g transform="translate(744.03,1381.50) scale(1.0450,1.038)"><text font-size="30.27" fill="#000">-40</text></g>
<g transform="translate(804.28,1381.50) scale(1.0450,1.038)"><text font-size="30.27" fill="#000">-20</text></g>
<g transform="translate(878.68,1381.50) scale(1.0450,1.038)"><text font-size="30.27" fill="#000">0</text></g>
<g transform="translate(930.00,1381.50) scale(1.0450,1.038)"><text font-size="30.27" fill="#000">20</text></g>
<g transform="translate(658.92,1431.60) scale(1.0787,1.012)"><text font-size="36.31" fill="#000">Test pulse (mV)</text></g>
<text transform="translate(552.8,1381.8) rotate(-90) scale(1,1.012)" font-size="38.15" fill="#000">Normalized <tspan font-style="italic">G</tspan>/ <tspan font-style="italic">G</tspan><tspan font-style="italic" font-size="27.5" dy="10">max</tspan></text>
<polyline points="645.00,1096.73 646.51,1096.73 648.01,1096.74 649.52,1096.74 651.02,1096.74 652.53,1096.75 654.04,1096.75 655.54,1096.75 657.05,1096.76 658.56,1096.77 660.06,1096.77 661.57,1096.78 663.08,1096.79 664.58,1096.80 666.09,1096.81 667.59,1096.82 669.10,1096.84 670.61,1096.86 672.11,1096.87 673.62,1096.90 675.12,1096.92 676.63,1096.95 678.14,1096.98 679.64,1097.02 681.15,1097.06 682.66,1097.10 684.16,1097.16 685.67,1097.22 687.17,1097.29 688.68,1097.36 690.19,1097.45 691.69,1097.55 693.20,1097.67 694.71,1097.80 696.21,1097.94 697.72,1098.11 699.23,1098.30 700.73,1098.51 702.24,1098.76 703.74,1099.03 705.25,1099.35 706.76,1099.70 708.26,1100.10 709.77,1100.56 711.27,1101.07 712.78,1101.66 714.29,1102.32 715.79,1103.06 717.30,1103.90 718.81,1104.85 720.31,1105.91 721.82,1107.11 723.33,1108.46 724.83,1109.97 726.34,1111.66 727.84,1113.56 729.35,1115.66 730.86,1118.01 732.36,1120.61 733.87,1123.49 735.38,1126.67 736.88,1130.15 738.39,1133.97 739.89,1138.13 741.40,1142.63 742.91,1147.49 744.41,1152.71 745.92,1158.27 747.42,1164.16 748.93,1170.36 750.44,1176.84 751.94,1183.56 753.45,1190.49 754.96,1197.55 756.46,1204.72 757.97,1211.91 759.48,1219.09 760.98,1226.18 762.49,1233.13 763.99,1239.90 765.50,1246.43 767.01,1252.69 768.51,1258.65 770.02,1264.27 771.52,1269.56 773.03,1274.49 774.54,1279.07 776.04,1283.29 777.55,1287.18 779.06,1290.73 780.56,1293.96 782.07,1296.90 783.58,1299.56 785.08,1301.95 786.59,1304.11 788.09,1306.04 789.60,1307.77 791.11,1309.32 792.61,1310.70 794.12,1311.92 795.62,1313.02 797.13,1313.99 798.64,1314.85 800.14,1315.61 801.65,1316.28 803.16,1316.88 804.66,1317.41 806.17,1317.88 807.67,1318.29 809.18,1318.65 810.69,1318.97 812.19,1319.26 813.70,1319.51 815.21,1319.73 816.71,1319.92 818.22,1320.09 819.73,1320.24 821.23,1320.38 822.74,1320.49 824.24,1320.60 825.75,1320.69 827.26,1320.77 828.76,1320.84 830.27,1320.90 831.77,1320.95 833.28,1321.00 834.79,1321.04 836.29,1321.08 837.80,1321.11 839.31,1321.14 840.81,1321.17 842.32,1321.19 843.83,1321.21 845.33,1321.22 846.84,1321.24 848.34,1321.25 849.85,1321.26 851.36,1321.27 852.86,1321.28 854.37,1321.29 855.88,1321.30 857.38,1321.30 858.89,1321.31 860.39,1321.32 861.90,1321.32 863.41,1321.32 864.91,1321.33 866.42,1321.33 867.92,1321.33 869.43,1321.33 870.94,1321.34 872.44,1321.34 873.95,1321.34 875.46,1321.34 876.96,1321.34 878.47,1321.34 879.98,1321.34 881.48,1321.34 882.99,1321.34 884.49,1321.35 886.00,1321.35 887.51,1321.35 889.01,1321.35 890.52,1321.35 892.02,1321.35 893.53,1321.35 895.04,1321.35 896.54,1321.35 898.05,1321.35 899.56,1321.35 901.06,1321.35 902.57,1321.35 904.08,1321.35 905.58,1321.35 907.09,1321.35 908.59,1321.35 910.10,1321.35 911.61,1321.35 913.11,1321.35 914.62,1321.35 916.12,1321.35" fill="none" stroke="#000" stroke-width="1.7" stroke-opacity="1.0" stroke-linejoin="round"/>
<polyline points="645.00,1093.95 646.51,1093.96 648.01,1093.97 649.52,1093.97 651.02,1093.98 652.53,1093.99 654.04,1094.00 655.54,1094.01 657.05,1094.03 658.56,1094.05 660.06,1094.06 661.57,1094.08 663.08,1094.11 664.58,1094.14 666.09,1094.17 667.59,1094.20 669.10,1094.24 670.61,1094.28 672.11,1094.34 673.62,1094.39 675.12,1094.46 676.63,1094.53 678.14,1094.62 679.64,1094.72 681.15,1094.83 682.66,1094.95 684.16,1095.09 685.67,1095.25 687.17,1095.43 688.68,1095.64 690.19,1095.87 691.69,1096.14 693.20,1096.44 694.71,1096.78 696.21,1097.17 697.72,1097.61 699.23,1098.11 700.73,1098.67 702.24,1099.30 703.74,1100.02 705.25,1100.83 706.76,1101.75 708.26,1102.78 709.77,1103.93 711.27,1105.24 712.78,1106.70 714.29,1108.34 715.79,1110.17 717.30,1112.21 718.81,1114.49 720.31,1117.02 721.82,1119.82 723.33,1122.91 724.83,1126.32 726.34,1130.04 727.84,1134.11 729.35,1138.53 730.86,1143.31 732.36,1148.45 733.87,1153.94 735.38,1159.77 736.88,1165.93 738.39,1172.38 739.89,1179.09 741.40,1186.03 742.91,1193.13 744.41,1200.35 745.92,1207.63 747.42,1214.91 748.93,1222.13 750.44,1229.23 751.94,1236.17 753.45,1242.88 754.96,1249.33 756.46,1255.49 757.97,1261.32 759.48,1266.81 760.98,1271.95 762.49,1276.73 763.99,1281.15 765.50,1285.22 767.01,1288.95 768.51,1292.35 770.02,1295.44 771.52,1298.24 773.03,1300.77 774.54,1303.05 776.04,1305.09 777.55,1306.92 779.06,1308.56 780.56,1310.02 782.07,1311.33 783.58,1312.49 785.08,1313.52 786.59,1314.43 788.09,1315.24 789.60,1315.96 791.11,1316.59 792.61,1317.15 794.12,1317.65 795.62,1318.09 797.13,1318.48 798.64,1318.82 800.14,1319.12 801.65,1319.39 803.16,1319.62 804.66,1319.83 806.17,1320.01 807.67,1320.17 809.18,1320.31 810.69,1320.44 812.19,1320.55 813.70,1320.64 815.21,1320.73 816.71,1320.80 818.22,1320.87 819.73,1320.93 821.23,1320.98 822.74,1321.02 824.24,1321.06 825.75,1321.10 827.26,1321.13 828.76,1321.15 830.27,1321.18 831.77,1321.20 833.28,1321.22 834.79,1321.23 836.29,1321.25 837.80,1321.26 839.31,1321.27 840.81,1321.28 842.32,1321.29 843.83,1321.30 845.33,1321.30 846.84,1321.31 848.34,1321.31 849.85,1321.32 851.36,1321.32 852.86,1321.32 854.37,1321.33 855.88,1321.33 857.38,1321.33 858.89,1321.33 860.39,1321.34 861.90,1321.34 863.41,1321.34 864.91,1321.34 866.42,1321.34 867.92,1321.34 869.43,1321.34 870.94,1321.34 872.44,1321.35 873.95,1321.35 875.46,1321.35 876.96,1321.35 878.47,1321.35 879.98,1321.35 881.48,1321.35 882.99,1321.35 884.49,1321.35 886.00,1321.35 887.51,1321.35 889.01,1321.35 890.52,1321.35 892.02,1321.35 893.53,1321.35 895.04,1321.35 896.54,1321.35 898.05,1321.35 899.56,1321.35 901.06,1321.35 902.57,1321.35 904.08,1321.35 905.58,1321.35 907.09,1321.35 908.59,1321.35 910.10,1321.35 911.61,1321.35 913.11,1321.35 914.62,1321.35 916.12,1321.35" fill="none" stroke="#f00" stroke-width="1.7" stroke-opacity="1.0" stroke-linejoin="round"/>
<g stroke="#111" stroke-width="0.9" fill="none">
<path d="M645.0,1103.0V1109.0M642.5,1103.0h5M642.5,1109.0h5"/>
<path d="M675.1,1093.0V1097.0M672.6,1093.0h5M672.6,1097.0h5"/>
<path d="M705.2,1089.7V1093.7M702.8,1089.7h5M702.8,1093.7h5"/>
<path d="M735.4,1127.7V1133.7M732.9,1127.7h5M732.9,1133.7h5"/>
<path d="M765.5,1236.0V1244.0M763.0,1236.0h5M763.0,1244.0h5"/>
<path d="M795.6,1303.5V1309.5M793.1,1303.5h5M793.1,1309.5h5"/>
<path d="M825.8,1311.0V1315.0M823.2,1311.0h5M823.2,1315.0h5"/>
<path d="M855.9,1315.0V1319.0M853.4,1315.0h5M853.4,1319.0h5"/>
<path d="M886.0,1319.6V1323.6M883.5,1319.6h5M883.5,1323.6h5"/>
<path d="M916.1,1315.0V1319.0M913.6,1315.0h5M913.6,1319.0h5"/>
</g>
<g stroke="#111" stroke-width="1.15" fill="none">
<rect x="639.8" y="1100.8" width="10.4" height="10.4"/>
<rect x="669.9" y="1089.8" width="10.4" height="10.4"/>
<rect x="700.0" y="1086.5" width="10.4" height="10.4"/>
<rect x="730.2" y="1125.5" width="10.4" height="10.4"/>
<rect x="760.3" y="1234.8" width="10.4" height="10.4"/>
<rect x="790.4" y="1301.3" width="10.4" height="10.4"/>
<rect x="820.5" y="1307.8" width="10.4" height="10.4"/>
<rect x="850.7" y="1311.8" width="10.4" height="10.4"/>
<rect x="880.8" y="1316.4" width="10.4" height="10.4"/>
<rect x="910.9" y="1311.8" width="10.4" height="10.4"/>
</g>
<g stroke="#f00" stroke-width="0.9" fill="none">
<path d="M645.0,1096.8V1100.8M642.5,1096.8h5M642.5,1100.8h5"/>
<path d="M675.1,1086.8V1090.8M672.6,1086.8h5M672.6,1090.8h5"/>
<path d="M705.2,1095.2V1099.2M702.8,1095.2h5M702.8,1099.2h5"/>
<path d="M735.4,1155.5V1163.5M732.9,1155.5h5M732.9,1163.5h5"/>
<path d="M765.5,1268.0V1276.0M763.0,1268.0h5M763.0,1276.0h5"/>
<path d="M795.6,1312.4V1316.4M793.1,1312.4h5M793.1,1316.4h5"/>
<path d="M825.8,1315.0V1319.0M823.2,1315.0h5M823.2,1319.0h5"/>
<path d="M855.9,1315.0V1319.0M853.4,1315.0h5M853.4,1319.0h5"/>
<path d="M886.0,1315.0V1319.0M883.5,1315.0h5M883.5,1319.0h5"/>
<path d="M916.1,1313.6V1317.6M913.6,1313.6h5M913.6,1317.6h5"/>
</g>
<g stroke="#f00" stroke-width="1.15" fill="none">
<circle cx="645.0" cy="1098.8" r="5.8"/>
<circle cx="675.1" cy="1088.8" r="5.8"/>
<circle cx="705.2" cy="1097.2" r="5.8"/>
<circle cx="735.4" cy="1159.5" r="5.8"/>
<circle cx="765.5" cy="1272.0" r="5.8"/>
<circle cx="795.6" cy="1314.4" r="5.8"/>
<circle cx="825.8" cy="1317.0" r="5.8"/>
<circle cx="855.9" cy="1317.0" r="5.8"/>
<circle cx="886.0" cy="1317.0" r="5.8"/>
<circle cx="916.1" cy="1315.6" r="5.8"/>
</g>
<rect x="759.50" y="1091.00" width="19.40" height="19.40" fill="none" stroke="#333" stroke-width="1.1"/>
<g transform="translate(787.90,1112.90) scale(1.0831,1.038)"><text font-size="31.39" fill="#000">D21 (29)</text><rect x="41.54" y="-4.39" width="6.43" height="5.18" fill="#fff"/><rect x="50.86" y="-4.39" width="5.96" height="5.18" fill="#fff"/></g>
<circle cx="767.80" cy="1151.80" r="9.80" fill="none" stroke="#f00" stroke-width="1.2"/>
<g transform="translate(789.94,1164.00) scale(1.0841,1.038)"><text font-size="31.11" fill="#f00">T21 (14)</text><rect x="37.70" y="-4.36" width="6.38" height="5.13" fill="#fff"/><rect x="46.94" y="-4.36" width="5.91" height="5.13" fill="#fff"/><rect x="74.01" y="-4.36" width="6.38" height="5.13" fill="#fff"/><rect x="83.25" y="-4.36" width="5.91" height="5.13" fill="#fff"/></g>
<line x1="692.80" y1="1211.20" x2="692.80" y2="1284.70" stroke="#8a8a8a" stroke-width="1.0"/>
<line x1="692.30" y1="1284.30" x2="749.40" y2="1284.30" stroke="#8a8a8a" stroke-width="1.0"/>
<line x1="689.80" y1="1211.60" x2="692.80" y2="1211.60" stroke="#8a8a8a" stroke-width="1.0"/>
<line x1="689.80" y1="1247.95" x2="692.80" y2="1247.95" stroke="#8a8a8a" stroke-width="1.0"/>
<line x1="689.80" y1="1284.30" x2="692.80" y2="1284.30" stroke="#8a8a8a" stroke-width="1.0"/>
<line x1="691.00" y1="1229.77" x2="692.80" y2="1229.77" stroke="#8a8a8a" stroke-width="0.9"/>
<line x1="691.00" y1="1266.12" x2="692.80" y2="1266.12" stroke="#8a8a8a" stroke-width="0.9"/>
<rect x="699.20" y="1222.40" width="19.60" height="61.90" fill="#e6e6e6" stroke="#555" stroke-width="1.0"/>
<rect x="725.30" y="1217.30" width="19.50" height="67.00" fill="#f00" stroke="#f00" stroke-width="1.0"/>
<line x1="709.00" y1="1284.30" x2="709.00" y2="1286.80" stroke="#8a8a8a" stroke-width="0.9"/>
<line x1="735.05" y1="1284.30" x2="735.05" y2="1286.80" stroke="#8a8a8a" stroke-width="0.9"/>
<line x1="704.50" y1="1221.90" x2="714.10" y2="1221.90" stroke="#000" stroke-width="2.6"/>
<line x1="730.60" y1="1217.00" x2="740.20" y2="1217.00" stroke="#000" stroke-width="2.6"/>
<g transform="translate(650.65,1221.30) scale(1.0849,1.038)"><text font-size="25.50" fill="#000">-50</text></g>
<g transform="translate(650.65,1257.80) scale(1.0869,1.038)"><text font-size="25.50" fill="#000">-25</text></g>
<g transform="translate(676.38,1294.80) scale(1.0018,1.038)"><text font-size="25.50" fill="#000">0</text></g>
<text x="705.28" y="1207.10" font-size="24.0" fill="#000">*</text>
<text x="717.07" y="1207.10" font-size="24.0" fill="#000">*</text>
<text x="728.86" y="1207.10" font-size="24.0" fill="#000">*</text>
<line x1="711.70" y1="1206.90" x2="730.60" y2="1206.90" stroke="#000" stroke-width="2.8"/>
<text transform="translate(645.2,1320.5) rotate(-90) scale(1,1.012)" font-size="30.4" fill="#000">pulse (mv)</text>
<g transform="translate(699.1,1339.1) rotate(-59.5) scale(1,1.038)"><text x="0" y="0" font-size="28" fill="#000">D21</text><rect x="37.05" y="-3.92" width="5.74" height="4.62" fill="#fff"/><rect x="45.37" y="-3.92" width="5.32" height="4.62" fill="#fff"/></g>
<g transform="translate(730.9,1338.4) rotate(-59.5) scale(1,1.038)"><text x="0" y="0" font-size="28" fill="#f00">T21</text><rect x="33.94" y="-3.92" width="5.74" height="4.62" fill="#fff"/><rect x="42.25" y="-3.92" width="5.32" height="4.62" fill="#fff"/></g>
</g>
</svg>
</body></html>
